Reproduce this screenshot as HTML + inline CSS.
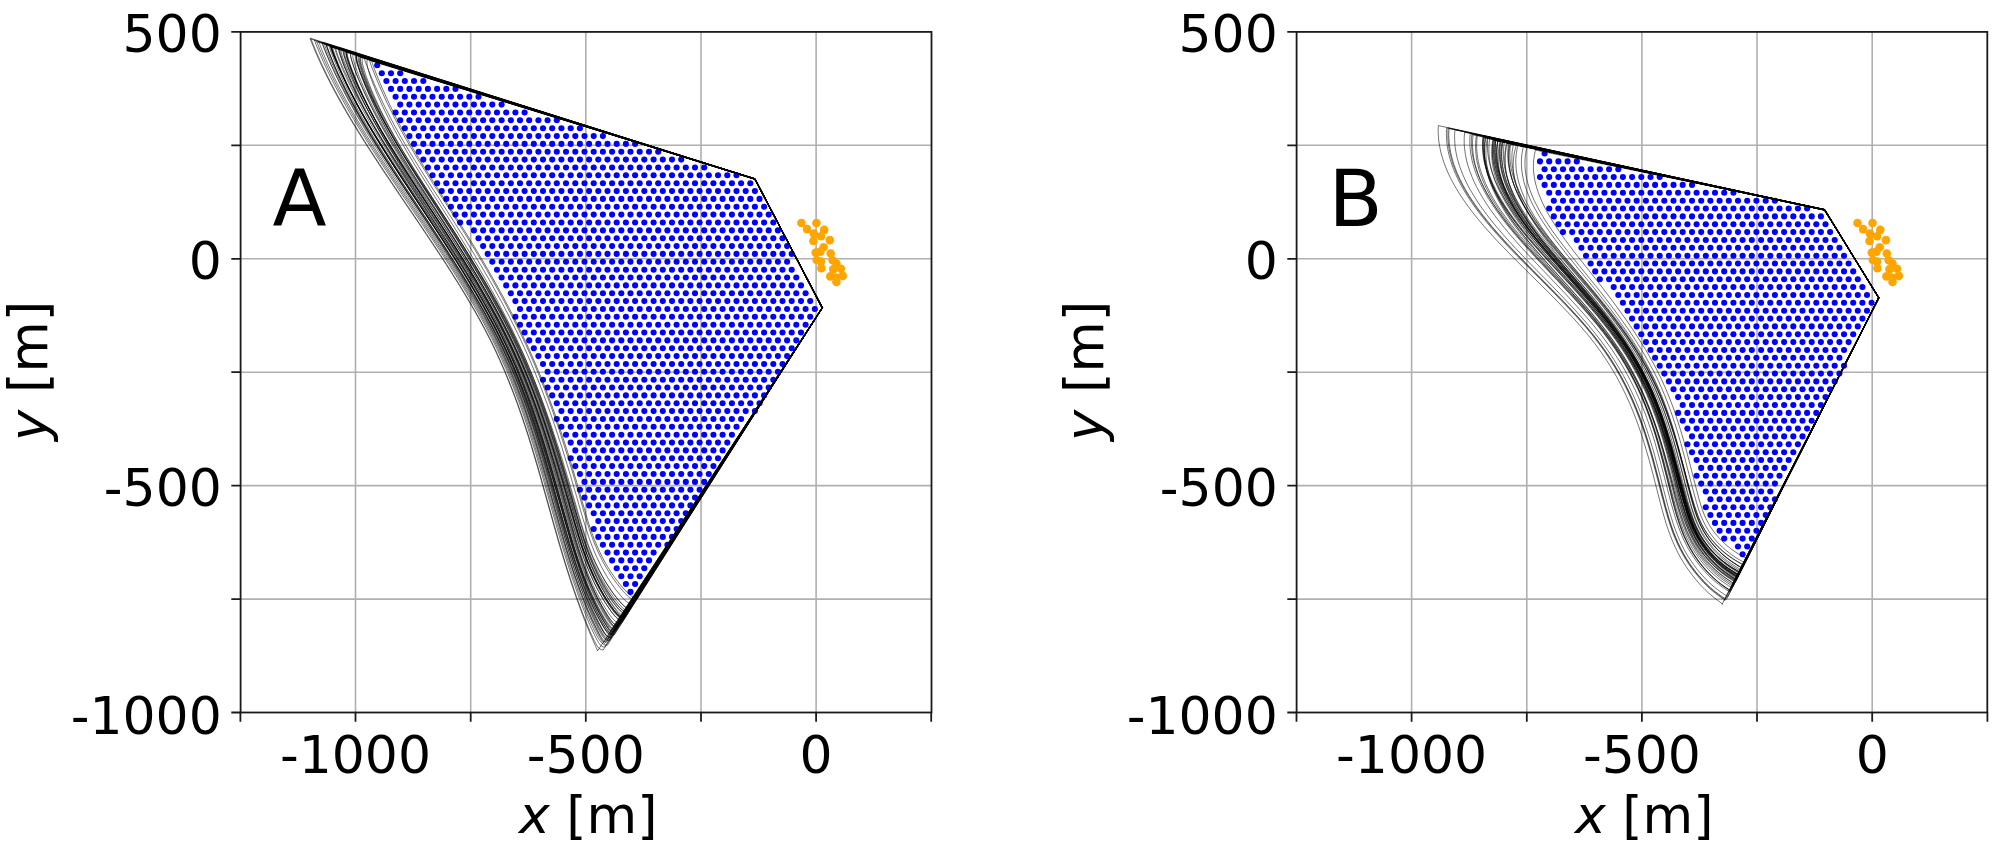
<!DOCTYPE html>
<html lang="en">
<head>
<meta charset="utf-8">
<title>Panels A and B</title>
<style>html,body{margin:0;padding:0;background:#fff;}svg{display:block;}</style>
</head>
<body>
<svg width="2000" height="850" viewBox="0 0 2000 850">
<rect width="2000" height="850" fill="#fff"/>
<g id="panelA">
<path d="M355.5,31.9V712.5M470.7,31.9V712.5M585.8,31.9V712.5M701,31.9V712.5M816.1,31.9V712.5M240.6,599.1H931.5M240.6,485.6H931.5M240.6,372.2H931.5M240.6,258.8H931.5M240.6,145.3H931.5" stroke="#b0b0b0" stroke-width="1.6" fill="none"/>
<g fill="#0000ff">
<circle cx="377.2" cy="65.3" r="3.05"/><circle cx="381.8" cy="73.2" r="3.05"/><circle cx="391" cy="73.2" r="3.05"/><circle cx="400.2" cy="73.2" r="3.05"/><circle cx="386.4" cy="81" r="3.05"/><circle cx="395.6" cy="81" r="3.05"/><circle cx="404.8" cy="81" r="3.05"/><circle cx="414" cy="81" r="3.05"/><circle cx="423.3" cy="81" r="3.05"/><circle cx="391" cy="88.9" r="3.05"/><circle cx="400.2" cy="88.9" r="3.05"/><circle cx="409.4" cy="88.9" r="3.05"/><circle cx="418.7" cy="88.9" r="3.05"/><circle cx="427.9" cy="88.9" r="3.05"/><circle cx="437.1" cy="88.9" r="3.05"/><circle cx="446.3" cy="88.9" r="3.05"/><circle cx="455.5" cy="88.9" r="3.05"/><circle cx="395.6" cy="96.8" r="3.05"/><circle cx="404.8" cy="96.8" r="3.05"/><circle cx="414" cy="96.8" r="3.05"/><circle cx="423.3" cy="96.8" r="3.05"/><circle cx="432.5" cy="96.8" r="3.05"/><circle cx="441.7" cy="96.8" r="3.05"/><circle cx="450.9" cy="96.8" r="3.05"/><circle cx="460.1" cy="96.8" r="3.05"/><circle cx="469.3" cy="96.8" r="3.05"/><circle cx="478.5" cy="96.8" r="3.05"/><circle cx="400.2" cy="104.6" r="3.05"/><circle cx="409.4" cy="104.6" r="3.05"/><circle cx="418.7" cy="104.6" r="3.05"/><circle cx="427.9" cy="104.6" r="3.05"/><circle cx="437.1" cy="104.6" r="3.05"/><circle cx="446.3" cy="104.6" r="3.05"/><circle cx="455.5" cy="104.6" r="3.05"/><circle cx="464.7" cy="104.6" r="3.05"/><circle cx="473.9" cy="104.6" r="3.05"/><circle cx="483.1" cy="104.6" r="3.05"/><circle cx="492.3" cy="104.6" r="3.05"/><circle cx="501.6" cy="104.6" r="3.05"/><circle cx="395.6" cy="112.5" r="3.05"/><circle cx="404.8" cy="112.5" r="3.05"/><circle cx="414" cy="112.5" r="3.05"/><circle cx="423.3" cy="112.5" r="3.05"/><circle cx="432.5" cy="112.5" r="3.05"/><circle cx="441.7" cy="112.5" r="3.05"/><circle cx="450.9" cy="112.5" r="3.05"/><circle cx="460.1" cy="112.5" r="3.05"/><circle cx="469.3" cy="112.5" r="3.05"/><circle cx="478.5" cy="112.5" r="3.05"/><circle cx="487.7" cy="112.5" r="3.05"/><circle cx="497" cy="112.5" r="3.05"/><circle cx="506.2" cy="112.5" r="3.05"/><circle cx="515.4" cy="112.5" r="3.05"/><circle cx="524.6" cy="112.5" r="3.05"/><circle cx="400.2" cy="120.3" r="3.05"/><circle cx="409.4" cy="120.3" r="3.05"/><circle cx="418.7" cy="120.3" r="3.05"/><circle cx="427.9" cy="120.3" r="3.05"/><circle cx="437.1" cy="120.3" r="3.05"/><circle cx="446.3" cy="120.3" r="3.05"/><circle cx="455.5" cy="120.3" r="3.05"/><circle cx="464.7" cy="120.3" r="3.05"/><circle cx="473.9" cy="120.3" r="3.05"/><circle cx="483.1" cy="120.3" r="3.05"/><circle cx="492.3" cy="120.3" r="3.05"/><circle cx="501.6" cy="120.3" r="3.05"/><circle cx="510.8" cy="120.3" r="3.05"/><circle cx="520" cy="120.3" r="3.05"/><circle cx="529.2" cy="120.3" r="3.05"/><circle cx="538.4" cy="120.3" r="3.05"/><circle cx="547.6" cy="120.3" r="3.05"/><circle cx="556.8" cy="120.3" r="3.05"/><circle cx="404.8" cy="128.2" r="3.05"/><circle cx="414" cy="128.2" r="3.05"/><circle cx="423.3" cy="128.2" r="3.05"/><circle cx="432.5" cy="128.2" r="3.05"/><circle cx="441.7" cy="128.2" r="3.05"/><circle cx="450.9" cy="128.2" r="3.05"/><circle cx="460.1" cy="128.2" r="3.05"/><circle cx="469.3" cy="128.2" r="3.05"/><circle cx="478.5" cy="128.2" r="3.05"/><circle cx="487.7" cy="128.2" r="3.05"/><circle cx="497" cy="128.2" r="3.05"/><circle cx="506.2" cy="128.2" r="3.05"/><circle cx="515.4" cy="128.2" r="3.05"/><circle cx="524.6" cy="128.2" r="3.05"/><circle cx="533.8" cy="128.2" r="3.05"/><circle cx="543" cy="128.2" r="3.05"/><circle cx="552.2" cy="128.2" r="3.05"/><circle cx="561.4" cy="128.2" r="3.05"/><circle cx="570.7" cy="128.2" r="3.05"/><circle cx="579.9" cy="128.2" r="3.05"/><circle cx="409.4" cy="136.1" r="3.05"/><circle cx="418.7" cy="136.1" r="3.05"/><circle cx="427.9" cy="136.1" r="3.05"/><circle cx="437.1" cy="136.1" r="3.05"/><circle cx="446.3" cy="136.1" r="3.05"/><circle cx="455.5" cy="136.1" r="3.05"/><circle cx="464.7" cy="136.1" r="3.05"/><circle cx="473.9" cy="136.1" r="3.05"/><circle cx="483.1" cy="136.1" r="3.05"/><circle cx="492.3" cy="136.1" r="3.05"/><circle cx="501.6" cy="136.1" r="3.05"/><circle cx="510.8" cy="136.1" r="3.05"/><circle cx="520" cy="136.1" r="3.05"/><circle cx="529.2" cy="136.1" r="3.05"/><circle cx="538.4" cy="136.1" r="3.05"/><circle cx="547.6" cy="136.1" r="3.05"/><circle cx="556.8" cy="136.1" r="3.05"/><circle cx="566" cy="136.1" r="3.05"/><circle cx="575.3" cy="136.1" r="3.05"/><circle cx="584.5" cy="136.1" r="3.05"/><circle cx="593.7" cy="136.1" r="3.05"/><circle cx="602.9" cy="136.1" r="3.05"/><circle cx="414" cy="143.9" r="3.05"/><circle cx="423.3" cy="143.9" r="3.05"/><circle cx="432.5" cy="143.9" r="3.05"/><circle cx="441.7" cy="143.9" r="3.05"/><circle cx="450.9" cy="143.9" r="3.05"/><circle cx="460.1" cy="143.9" r="3.05"/><circle cx="469.3" cy="143.9" r="3.05"/><circle cx="478.5" cy="143.9" r="3.05"/><circle cx="487.7" cy="143.9" r="3.05"/><circle cx="497" cy="143.9" r="3.05"/><circle cx="506.2" cy="143.9" r="3.05"/><circle cx="515.4" cy="143.9" r="3.05"/><circle cx="524.6" cy="143.9" r="3.05"/><circle cx="533.8" cy="143.9" r="3.05"/><circle cx="543" cy="143.9" r="3.05"/><circle cx="552.2" cy="143.9" r="3.05"/><circle cx="561.4" cy="143.9" r="3.05"/><circle cx="570.7" cy="143.9" r="3.05"/><circle cx="579.9" cy="143.9" r="3.05"/><circle cx="589.1" cy="143.9" r="3.05"/><circle cx="598.3" cy="143.9" r="3.05"/><circle cx="607.5" cy="143.9" r="3.05"/><circle cx="616.7" cy="143.9" r="3.05"/><circle cx="625.9" cy="143.9" r="3.05"/><circle cx="635.1" cy="143.9" r="3.05"/><circle cx="418.7" cy="151.8" r="3.05"/><circle cx="427.9" cy="151.8" r="3.05"/><circle cx="437.1" cy="151.8" r="3.05"/><circle cx="446.3" cy="151.8" r="3.05"/><circle cx="455.5" cy="151.8" r="3.05"/><circle cx="464.7" cy="151.8" r="3.05"/><circle cx="473.9" cy="151.8" r="3.05"/><circle cx="483.1" cy="151.8" r="3.05"/><circle cx="492.3" cy="151.8" r="3.05"/><circle cx="501.6" cy="151.8" r="3.05"/><circle cx="510.8" cy="151.8" r="3.05"/><circle cx="520" cy="151.8" r="3.05"/><circle cx="529.2" cy="151.8" r="3.05"/><circle cx="538.4" cy="151.8" r="3.05"/><circle cx="547.6" cy="151.8" r="3.05"/><circle cx="556.8" cy="151.8" r="3.05"/><circle cx="566" cy="151.8" r="3.05"/><circle cx="575.3" cy="151.8" r="3.05"/><circle cx="584.5" cy="151.8" r="3.05"/><circle cx="593.7" cy="151.8" r="3.05"/><circle cx="602.9" cy="151.8" r="3.05"/><circle cx="612.1" cy="151.8" r="3.05"/><circle cx="621.3" cy="151.8" r="3.05"/><circle cx="630.5" cy="151.8" r="3.05"/><circle cx="639.7" cy="151.8" r="3.05"/><circle cx="649" cy="151.8" r="3.05"/><circle cx="658.2" cy="151.8" r="3.05"/><circle cx="423.3" cy="159.6" r="3.05"/><circle cx="432.5" cy="159.6" r="3.05"/><circle cx="441.7" cy="159.6" r="3.05"/><circle cx="450.9" cy="159.6" r="3.05"/><circle cx="460.1" cy="159.6" r="3.05"/><circle cx="469.3" cy="159.6" r="3.05"/><circle cx="478.5" cy="159.6" r="3.05"/><circle cx="487.7" cy="159.6" r="3.05"/><circle cx="497" cy="159.6" r="3.05"/><circle cx="506.2" cy="159.6" r="3.05"/><circle cx="515.4" cy="159.6" r="3.05"/><circle cx="524.6" cy="159.6" r="3.05"/><circle cx="533.8" cy="159.6" r="3.05"/><circle cx="543" cy="159.6" r="3.05"/><circle cx="552.2" cy="159.6" r="3.05"/><circle cx="561.4" cy="159.6" r="3.05"/><circle cx="570.7" cy="159.6" r="3.05"/><circle cx="579.9" cy="159.6" r="3.05"/><circle cx="589.1" cy="159.6" r="3.05"/><circle cx="598.3" cy="159.6" r="3.05"/><circle cx="607.5" cy="159.6" r="3.05"/><circle cx="616.7" cy="159.6" r="3.05"/><circle cx="625.9" cy="159.6" r="3.05"/><circle cx="635.1" cy="159.6" r="3.05"/><circle cx="644.3" cy="159.6" r="3.05"/><circle cx="653.6" cy="159.6" r="3.05"/><circle cx="662.8" cy="159.6" r="3.05"/><circle cx="672" cy="159.6" r="3.05"/><circle cx="681.2" cy="159.6" r="3.05"/><circle cx="427.9" cy="167.5" r="3.05"/><circle cx="437.1" cy="167.5" r="3.05"/><circle cx="446.3" cy="167.5" r="3.05"/><circle cx="455.5" cy="167.5" r="3.05"/><circle cx="464.7" cy="167.5" r="3.05"/><circle cx="473.9" cy="167.5" r="3.05"/><circle cx="483.1" cy="167.5" r="3.05"/><circle cx="492.3" cy="167.5" r="3.05"/><circle cx="501.6" cy="167.5" r="3.05"/><circle cx="510.8" cy="167.5" r="3.05"/><circle cx="520" cy="167.5" r="3.05"/><circle cx="529.2" cy="167.5" r="3.05"/><circle cx="538.4" cy="167.5" r="3.05"/><circle cx="547.6" cy="167.5" r="3.05"/><circle cx="556.8" cy="167.5" r="3.05"/><circle cx="566" cy="167.5" r="3.05"/><circle cx="575.3" cy="167.5" r="3.05"/><circle cx="584.5" cy="167.5" r="3.05"/><circle cx="593.7" cy="167.5" r="3.05"/><circle cx="602.9" cy="167.5" r="3.05"/><circle cx="612.1" cy="167.5" r="3.05"/><circle cx="621.3" cy="167.5" r="3.05"/><circle cx="630.5" cy="167.5" r="3.05"/><circle cx="639.7" cy="167.5" r="3.05"/><circle cx="649" cy="167.5" r="3.05"/><circle cx="658.2" cy="167.5" r="3.05"/><circle cx="667.4" cy="167.5" r="3.05"/><circle cx="676.6" cy="167.5" r="3.05"/><circle cx="685.8" cy="167.5" r="3.05"/><circle cx="695" cy="167.5" r="3.05"/><circle cx="704.2" cy="167.5" r="3.05"/><circle cx="432.5" cy="175.3" r="3.05"/><circle cx="441.7" cy="175.3" r="3.05"/><circle cx="450.9" cy="175.3" r="3.05"/><circle cx="460.1" cy="175.3" r="3.05"/><circle cx="469.3" cy="175.3" r="3.05"/><circle cx="478.5" cy="175.3" r="3.05"/><circle cx="487.7" cy="175.3" r="3.05"/><circle cx="497" cy="175.3" r="3.05"/><circle cx="506.2" cy="175.3" r="3.05"/><circle cx="515.4" cy="175.3" r="3.05"/><circle cx="524.6" cy="175.3" r="3.05"/><circle cx="533.8" cy="175.3" r="3.05"/><circle cx="543" cy="175.3" r="3.05"/><circle cx="552.2" cy="175.3" r="3.05"/><circle cx="561.4" cy="175.3" r="3.05"/><circle cx="570.7" cy="175.3" r="3.05"/><circle cx="579.9" cy="175.3" r="3.05"/><circle cx="589.1" cy="175.3" r="3.05"/><circle cx="598.3" cy="175.3" r="3.05"/><circle cx="607.5" cy="175.3" r="3.05"/><circle cx="616.7" cy="175.3" r="3.05"/><circle cx="625.9" cy="175.3" r="3.05"/><circle cx="635.1" cy="175.3" r="3.05"/><circle cx="644.3" cy="175.3" r="3.05"/><circle cx="653.6" cy="175.3" r="3.05"/><circle cx="662.8" cy="175.3" r="3.05"/><circle cx="672" cy="175.3" r="3.05"/><circle cx="681.2" cy="175.3" r="3.05"/><circle cx="690.4" cy="175.3" r="3.05"/><circle cx="699.6" cy="175.3" r="3.05"/><circle cx="708.8" cy="175.3" r="3.05"/><circle cx="718" cy="175.3" r="3.05"/><circle cx="727.3" cy="175.3" r="3.05"/><circle cx="736.5" cy="175.3" r="3.05"/><circle cx="437.1" cy="183.2" r="3.05"/><circle cx="446.3" cy="183.2" r="3.05"/><circle cx="455.5" cy="183.2" r="3.05"/><circle cx="464.7" cy="183.2" r="3.05"/><circle cx="473.9" cy="183.2" r="3.05"/><circle cx="483.1" cy="183.2" r="3.05"/><circle cx="492.3" cy="183.2" r="3.05"/><circle cx="501.6" cy="183.2" r="3.05"/><circle cx="510.8" cy="183.2" r="3.05"/><circle cx="520" cy="183.2" r="3.05"/><circle cx="529.2" cy="183.2" r="3.05"/><circle cx="538.4" cy="183.2" r="3.05"/><circle cx="547.6" cy="183.2" r="3.05"/><circle cx="556.8" cy="183.2" r="3.05"/><circle cx="566" cy="183.2" r="3.05"/><circle cx="575.3" cy="183.2" r="3.05"/><circle cx="584.5" cy="183.2" r="3.05"/><circle cx="593.7" cy="183.2" r="3.05"/><circle cx="602.9" cy="183.2" r="3.05"/><circle cx="612.1" cy="183.2" r="3.05"/><circle cx="621.3" cy="183.2" r="3.05"/><circle cx="630.5" cy="183.2" r="3.05"/><circle cx="639.7" cy="183.2" r="3.05"/><circle cx="649" cy="183.2" r="3.05"/><circle cx="658.2" cy="183.2" r="3.05"/><circle cx="667.4" cy="183.2" r="3.05"/><circle cx="676.6" cy="183.2" r="3.05"/><circle cx="685.8" cy="183.2" r="3.05"/><circle cx="695" cy="183.2" r="3.05"/><circle cx="704.2" cy="183.2" r="3.05"/><circle cx="713.4" cy="183.2" r="3.05"/><circle cx="722.6" cy="183.2" r="3.05"/><circle cx="731.9" cy="183.2" r="3.05"/><circle cx="741.1" cy="183.2" r="3.05"/><circle cx="750.3" cy="183.2" r="3.05"/><circle cx="441.7" cy="191.1" r="3.05"/><circle cx="450.9" cy="191.1" r="3.05"/><circle cx="460.1" cy="191.1" r="3.05"/><circle cx="469.3" cy="191.1" r="3.05"/><circle cx="478.5" cy="191.1" r="3.05"/><circle cx="487.7" cy="191.1" r="3.05"/><circle cx="497" cy="191.1" r="3.05"/><circle cx="506.2" cy="191.1" r="3.05"/><circle cx="515.4" cy="191.1" r="3.05"/><circle cx="524.6" cy="191.1" r="3.05"/><circle cx="533.8" cy="191.1" r="3.05"/><circle cx="543" cy="191.1" r="3.05"/><circle cx="552.2" cy="191.1" r="3.05"/><circle cx="561.4" cy="191.1" r="3.05"/><circle cx="570.7" cy="191.1" r="3.05"/><circle cx="579.9" cy="191.1" r="3.05"/><circle cx="589.1" cy="191.1" r="3.05"/><circle cx="598.3" cy="191.1" r="3.05"/><circle cx="607.5" cy="191.1" r="3.05"/><circle cx="616.7" cy="191.1" r="3.05"/><circle cx="625.9" cy="191.1" r="3.05"/><circle cx="635.1" cy="191.1" r="3.05"/><circle cx="644.3" cy="191.1" r="3.05"/><circle cx="653.6" cy="191.1" r="3.05"/><circle cx="662.8" cy="191.1" r="3.05"/><circle cx="672" cy="191.1" r="3.05"/><circle cx="681.2" cy="191.1" r="3.05"/><circle cx="690.4" cy="191.1" r="3.05"/><circle cx="699.6" cy="191.1" r="3.05"/><circle cx="708.8" cy="191.1" r="3.05"/><circle cx="718" cy="191.1" r="3.05"/><circle cx="727.3" cy="191.1" r="3.05"/><circle cx="736.5" cy="191.1" r="3.05"/><circle cx="745.7" cy="191.1" r="3.05"/><circle cx="754.9" cy="191.1" r="3.05"/><circle cx="446.3" cy="198.9" r="3.05"/><circle cx="455.5" cy="198.9" r="3.05"/><circle cx="464.7" cy="198.9" r="3.05"/><circle cx="473.9" cy="198.9" r="3.05"/><circle cx="483.1" cy="198.9" r="3.05"/><circle cx="492.3" cy="198.9" r="3.05"/><circle cx="501.6" cy="198.9" r="3.05"/><circle cx="510.8" cy="198.9" r="3.05"/><circle cx="520" cy="198.9" r="3.05"/><circle cx="529.2" cy="198.9" r="3.05"/><circle cx="538.4" cy="198.9" r="3.05"/><circle cx="547.6" cy="198.9" r="3.05"/><circle cx="556.8" cy="198.9" r="3.05"/><circle cx="566" cy="198.9" r="3.05"/><circle cx="575.3" cy="198.9" r="3.05"/><circle cx="584.5" cy="198.9" r="3.05"/><circle cx="593.7" cy="198.9" r="3.05"/><circle cx="602.9" cy="198.9" r="3.05"/><circle cx="612.1" cy="198.9" r="3.05"/><circle cx="621.3" cy="198.9" r="3.05"/><circle cx="630.5" cy="198.9" r="3.05"/><circle cx="639.7" cy="198.9" r="3.05"/><circle cx="649" cy="198.9" r="3.05"/><circle cx="658.2" cy="198.9" r="3.05"/><circle cx="667.4" cy="198.9" r="3.05"/><circle cx="676.6" cy="198.9" r="3.05"/><circle cx="685.8" cy="198.9" r="3.05"/><circle cx="695" cy="198.9" r="3.05"/><circle cx="704.2" cy="198.9" r="3.05"/><circle cx="713.4" cy="198.9" r="3.05"/><circle cx="722.6" cy="198.9" r="3.05"/><circle cx="731.9" cy="198.9" r="3.05"/><circle cx="741.1" cy="198.9" r="3.05"/><circle cx="750.3" cy="198.9" r="3.05"/><circle cx="759.5" cy="198.9" r="3.05"/><circle cx="450.9" cy="206.8" r="3.05"/><circle cx="460.1" cy="206.8" r="3.05"/><circle cx="469.3" cy="206.8" r="3.05"/><circle cx="478.5" cy="206.8" r="3.05"/><circle cx="487.7" cy="206.8" r="3.05"/><circle cx="497" cy="206.8" r="3.05"/><circle cx="506.2" cy="206.8" r="3.05"/><circle cx="515.4" cy="206.8" r="3.05"/><circle cx="524.6" cy="206.8" r="3.05"/><circle cx="533.8" cy="206.8" r="3.05"/><circle cx="543" cy="206.8" r="3.05"/><circle cx="552.2" cy="206.8" r="3.05"/><circle cx="561.4" cy="206.8" r="3.05"/><circle cx="570.7" cy="206.8" r="3.05"/><circle cx="579.9" cy="206.8" r="3.05"/><circle cx="589.1" cy="206.8" r="3.05"/><circle cx="598.3" cy="206.8" r="3.05"/><circle cx="607.5" cy="206.8" r="3.05"/><circle cx="616.7" cy="206.8" r="3.05"/><circle cx="625.9" cy="206.8" r="3.05"/><circle cx="635.1" cy="206.8" r="3.05"/><circle cx="644.3" cy="206.8" r="3.05"/><circle cx="653.6" cy="206.8" r="3.05"/><circle cx="662.8" cy="206.8" r="3.05"/><circle cx="672" cy="206.8" r="3.05"/><circle cx="681.2" cy="206.8" r="3.05"/><circle cx="690.4" cy="206.8" r="3.05"/><circle cx="699.6" cy="206.8" r="3.05"/><circle cx="708.8" cy="206.8" r="3.05"/><circle cx="718" cy="206.8" r="3.05"/><circle cx="727.3" cy="206.8" r="3.05"/><circle cx="736.5" cy="206.8" r="3.05"/><circle cx="745.7" cy="206.8" r="3.05"/><circle cx="754.9" cy="206.8" r="3.05"/><circle cx="764.1" cy="206.8" r="3.05"/><circle cx="455.5" cy="214.6" r="3.05"/><circle cx="464.7" cy="214.6" r="3.05"/><circle cx="473.9" cy="214.6" r="3.05"/><circle cx="483.1" cy="214.6" r="3.05"/><circle cx="492.3" cy="214.6" r="3.05"/><circle cx="501.6" cy="214.6" r="3.05"/><circle cx="510.8" cy="214.6" r="3.05"/><circle cx="520" cy="214.6" r="3.05"/><circle cx="529.2" cy="214.6" r="3.05"/><circle cx="538.4" cy="214.6" r="3.05"/><circle cx="547.6" cy="214.6" r="3.05"/><circle cx="556.8" cy="214.6" r="3.05"/><circle cx="566" cy="214.6" r="3.05"/><circle cx="575.3" cy="214.6" r="3.05"/><circle cx="584.5" cy="214.6" r="3.05"/><circle cx="593.7" cy="214.6" r="3.05"/><circle cx="602.9" cy="214.6" r="3.05"/><circle cx="612.1" cy="214.6" r="3.05"/><circle cx="621.3" cy="214.6" r="3.05"/><circle cx="630.5" cy="214.6" r="3.05"/><circle cx="639.7" cy="214.6" r="3.05"/><circle cx="649" cy="214.6" r="3.05"/><circle cx="658.2" cy="214.6" r="3.05"/><circle cx="667.4" cy="214.6" r="3.05"/><circle cx="676.6" cy="214.6" r="3.05"/><circle cx="685.8" cy="214.6" r="3.05"/><circle cx="695" cy="214.6" r="3.05"/><circle cx="704.2" cy="214.6" r="3.05"/><circle cx="713.4" cy="214.6" r="3.05"/><circle cx="722.6" cy="214.6" r="3.05"/><circle cx="731.9" cy="214.6" r="3.05"/><circle cx="741.1" cy="214.6" r="3.05"/><circle cx="750.3" cy="214.6" r="3.05"/><circle cx="759.5" cy="214.6" r="3.05"/><circle cx="768.7" cy="214.6" r="3.05"/><circle cx="460.1" cy="222.5" r="3.05"/><circle cx="469.3" cy="222.5" r="3.05"/><circle cx="478.5" cy="222.5" r="3.05"/><circle cx="487.7" cy="222.5" r="3.05"/><circle cx="497" cy="222.5" r="3.05"/><circle cx="506.2" cy="222.5" r="3.05"/><circle cx="515.4" cy="222.5" r="3.05"/><circle cx="524.6" cy="222.5" r="3.05"/><circle cx="533.8" cy="222.5" r="3.05"/><circle cx="543" cy="222.5" r="3.05"/><circle cx="552.2" cy="222.5" r="3.05"/><circle cx="561.4" cy="222.5" r="3.05"/><circle cx="570.7" cy="222.5" r="3.05"/><circle cx="579.9" cy="222.5" r="3.05"/><circle cx="589.1" cy="222.5" r="3.05"/><circle cx="598.3" cy="222.5" r="3.05"/><circle cx="607.5" cy="222.5" r="3.05"/><circle cx="616.7" cy="222.5" r="3.05"/><circle cx="625.9" cy="222.5" r="3.05"/><circle cx="635.1" cy="222.5" r="3.05"/><circle cx="644.3" cy="222.5" r="3.05"/><circle cx="653.6" cy="222.5" r="3.05"/><circle cx="662.8" cy="222.5" r="3.05"/><circle cx="672" cy="222.5" r="3.05"/><circle cx="681.2" cy="222.5" r="3.05"/><circle cx="690.4" cy="222.5" r="3.05"/><circle cx="699.6" cy="222.5" r="3.05"/><circle cx="708.8" cy="222.5" r="3.05"/><circle cx="718" cy="222.5" r="3.05"/><circle cx="727.3" cy="222.5" r="3.05"/><circle cx="736.5" cy="222.5" r="3.05"/><circle cx="745.7" cy="222.5" r="3.05"/><circle cx="754.9" cy="222.5" r="3.05"/><circle cx="764.1" cy="222.5" r="3.05"/><circle cx="773.3" cy="222.5" r="3.05"/><circle cx="473.9" cy="230.4" r="3.05"/><circle cx="483.1" cy="230.4" r="3.05"/><circle cx="492.3" cy="230.4" r="3.05"/><circle cx="501.6" cy="230.4" r="3.05"/><circle cx="510.8" cy="230.4" r="3.05"/><circle cx="520" cy="230.4" r="3.05"/><circle cx="529.2" cy="230.4" r="3.05"/><circle cx="538.4" cy="230.4" r="3.05"/><circle cx="547.6" cy="230.4" r="3.05"/><circle cx="556.8" cy="230.4" r="3.05"/><circle cx="566" cy="230.4" r="3.05"/><circle cx="575.3" cy="230.4" r="3.05"/><circle cx="584.5" cy="230.4" r="3.05"/><circle cx="593.7" cy="230.4" r="3.05"/><circle cx="602.9" cy="230.4" r="3.05"/><circle cx="612.1" cy="230.4" r="3.05"/><circle cx="621.3" cy="230.4" r="3.05"/><circle cx="630.5" cy="230.4" r="3.05"/><circle cx="639.7" cy="230.4" r="3.05"/><circle cx="649" cy="230.4" r="3.05"/><circle cx="658.2" cy="230.4" r="3.05"/><circle cx="667.4" cy="230.4" r="3.05"/><circle cx="676.6" cy="230.4" r="3.05"/><circle cx="685.8" cy="230.4" r="3.05"/><circle cx="695" cy="230.4" r="3.05"/><circle cx="704.2" cy="230.4" r="3.05"/><circle cx="713.4" cy="230.4" r="3.05"/><circle cx="722.6" cy="230.4" r="3.05"/><circle cx="731.9" cy="230.4" r="3.05"/><circle cx="741.1" cy="230.4" r="3.05"/><circle cx="750.3" cy="230.4" r="3.05"/><circle cx="759.5" cy="230.4" r="3.05"/><circle cx="768.7" cy="230.4" r="3.05"/><circle cx="777.9" cy="230.4" r="3.05"/><circle cx="478.5" cy="238.2" r="3.05"/><circle cx="487.7" cy="238.2" r="3.05"/><circle cx="497" cy="238.2" r="3.05"/><circle cx="506.2" cy="238.2" r="3.05"/><circle cx="515.4" cy="238.2" r="3.05"/><circle cx="524.6" cy="238.2" r="3.05"/><circle cx="533.8" cy="238.2" r="3.05"/><circle cx="543" cy="238.2" r="3.05"/><circle cx="552.2" cy="238.2" r="3.05"/><circle cx="561.4" cy="238.2" r="3.05"/><circle cx="570.7" cy="238.2" r="3.05"/><circle cx="579.9" cy="238.2" r="3.05"/><circle cx="589.1" cy="238.2" r="3.05"/><circle cx="598.3" cy="238.2" r="3.05"/><circle cx="607.5" cy="238.2" r="3.05"/><circle cx="616.7" cy="238.2" r="3.05"/><circle cx="625.9" cy="238.2" r="3.05"/><circle cx="635.1" cy="238.2" r="3.05"/><circle cx="644.3" cy="238.2" r="3.05"/><circle cx="653.6" cy="238.2" r="3.05"/><circle cx="662.8" cy="238.2" r="3.05"/><circle cx="672" cy="238.2" r="3.05"/><circle cx="681.2" cy="238.2" r="3.05"/><circle cx="690.4" cy="238.2" r="3.05"/><circle cx="699.6" cy="238.2" r="3.05"/><circle cx="708.8" cy="238.2" r="3.05"/><circle cx="718" cy="238.2" r="3.05"/><circle cx="727.3" cy="238.2" r="3.05"/><circle cx="736.5" cy="238.2" r="3.05"/><circle cx="745.7" cy="238.2" r="3.05"/><circle cx="754.9" cy="238.2" r="3.05"/><circle cx="764.1" cy="238.2" r="3.05"/><circle cx="773.3" cy="238.2" r="3.05"/><circle cx="782.5" cy="238.2" r="3.05"/><circle cx="483.1" cy="246.1" r="3.05"/><circle cx="492.3" cy="246.1" r="3.05"/><circle cx="501.6" cy="246.1" r="3.05"/><circle cx="510.8" cy="246.1" r="3.05"/><circle cx="520" cy="246.1" r="3.05"/><circle cx="529.2" cy="246.1" r="3.05"/><circle cx="538.4" cy="246.1" r="3.05"/><circle cx="547.6" cy="246.1" r="3.05"/><circle cx="556.8" cy="246.1" r="3.05"/><circle cx="566" cy="246.1" r="3.05"/><circle cx="575.3" cy="246.1" r="3.05"/><circle cx="584.5" cy="246.1" r="3.05"/><circle cx="593.7" cy="246.1" r="3.05"/><circle cx="602.9" cy="246.1" r="3.05"/><circle cx="612.1" cy="246.1" r="3.05"/><circle cx="621.3" cy="246.1" r="3.05"/><circle cx="630.5" cy="246.1" r="3.05"/><circle cx="639.7" cy="246.1" r="3.05"/><circle cx="649" cy="246.1" r="3.05"/><circle cx="658.2" cy="246.1" r="3.05"/><circle cx="667.4" cy="246.1" r="3.05"/><circle cx="676.6" cy="246.1" r="3.05"/><circle cx="685.8" cy="246.1" r="3.05"/><circle cx="695" cy="246.1" r="3.05"/><circle cx="704.2" cy="246.1" r="3.05"/><circle cx="713.4" cy="246.1" r="3.05"/><circle cx="722.6" cy="246.1" r="3.05"/><circle cx="731.9" cy="246.1" r="3.05"/><circle cx="741.1" cy="246.1" r="3.05"/><circle cx="750.3" cy="246.1" r="3.05"/><circle cx="759.5" cy="246.1" r="3.05"/><circle cx="768.7" cy="246.1" r="3.05"/><circle cx="777.9" cy="246.1" r="3.05"/><circle cx="787.1" cy="246.1" r="3.05"/><circle cx="487.7" cy="253.9" r="3.05"/><circle cx="497" cy="253.9" r="3.05"/><circle cx="506.2" cy="253.9" r="3.05"/><circle cx="515.4" cy="253.9" r="3.05"/><circle cx="524.6" cy="253.9" r="3.05"/><circle cx="533.8" cy="253.9" r="3.05"/><circle cx="543" cy="253.9" r="3.05"/><circle cx="552.2" cy="253.9" r="3.05"/><circle cx="561.4" cy="253.9" r="3.05"/><circle cx="570.7" cy="253.9" r="3.05"/><circle cx="579.9" cy="253.9" r="3.05"/><circle cx="589.1" cy="253.9" r="3.05"/><circle cx="598.3" cy="253.9" r="3.05"/><circle cx="607.5" cy="253.9" r="3.05"/><circle cx="616.7" cy="253.9" r="3.05"/><circle cx="625.9" cy="253.9" r="3.05"/><circle cx="635.1" cy="253.9" r="3.05"/><circle cx="644.3" cy="253.9" r="3.05"/><circle cx="653.6" cy="253.9" r="3.05"/><circle cx="662.8" cy="253.9" r="3.05"/><circle cx="672" cy="253.9" r="3.05"/><circle cx="681.2" cy="253.9" r="3.05"/><circle cx="690.4" cy="253.9" r="3.05"/><circle cx="699.6" cy="253.9" r="3.05"/><circle cx="708.8" cy="253.9" r="3.05"/><circle cx="718" cy="253.9" r="3.05"/><circle cx="727.3" cy="253.9" r="3.05"/><circle cx="736.5" cy="253.9" r="3.05"/><circle cx="745.7" cy="253.9" r="3.05"/><circle cx="754.9" cy="253.9" r="3.05"/><circle cx="764.1" cy="253.9" r="3.05"/><circle cx="773.3" cy="253.9" r="3.05"/><circle cx="782.5" cy="253.9" r="3.05"/><circle cx="791.7" cy="253.9" r="3.05"/><circle cx="492.3" cy="261.8" r="3.05"/><circle cx="501.6" cy="261.8" r="3.05"/><circle cx="510.8" cy="261.8" r="3.05"/><circle cx="520" cy="261.8" r="3.05"/><circle cx="529.2" cy="261.8" r="3.05"/><circle cx="538.4" cy="261.8" r="3.05"/><circle cx="547.6" cy="261.8" r="3.05"/><circle cx="556.8" cy="261.8" r="3.05"/><circle cx="566" cy="261.8" r="3.05"/><circle cx="575.3" cy="261.8" r="3.05"/><circle cx="584.5" cy="261.8" r="3.05"/><circle cx="593.7" cy="261.8" r="3.05"/><circle cx="602.9" cy="261.8" r="3.05"/><circle cx="612.1" cy="261.8" r="3.05"/><circle cx="621.3" cy="261.8" r="3.05"/><circle cx="630.5" cy="261.8" r="3.05"/><circle cx="639.7" cy="261.8" r="3.05"/><circle cx="649" cy="261.8" r="3.05"/><circle cx="658.2" cy="261.8" r="3.05"/><circle cx="667.4" cy="261.8" r="3.05"/><circle cx="676.6" cy="261.8" r="3.05"/><circle cx="685.8" cy="261.8" r="3.05"/><circle cx="695" cy="261.8" r="3.05"/><circle cx="704.2" cy="261.8" r="3.05"/><circle cx="713.4" cy="261.8" r="3.05"/><circle cx="722.6" cy="261.8" r="3.05"/><circle cx="731.9" cy="261.8" r="3.05"/><circle cx="741.1" cy="261.8" r="3.05"/><circle cx="750.3" cy="261.8" r="3.05"/><circle cx="759.5" cy="261.8" r="3.05"/><circle cx="768.7" cy="261.8" r="3.05"/><circle cx="777.9" cy="261.8" r="3.05"/><circle cx="787.1" cy="261.8" r="3.05"/><circle cx="497" cy="269.7" r="3.05"/><circle cx="506.2" cy="269.7" r="3.05"/><circle cx="515.4" cy="269.7" r="3.05"/><circle cx="524.6" cy="269.7" r="3.05"/><circle cx="533.8" cy="269.7" r="3.05"/><circle cx="543" cy="269.7" r="3.05"/><circle cx="552.2" cy="269.7" r="3.05"/><circle cx="561.4" cy="269.7" r="3.05"/><circle cx="570.7" cy="269.7" r="3.05"/><circle cx="579.9" cy="269.7" r="3.05"/><circle cx="589.1" cy="269.7" r="3.05"/><circle cx="598.3" cy="269.7" r="3.05"/><circle cx="607.5" cy="269.7" r="3.05"/><circle cx="616.7" cy="269.7" r="3.05"/><circle cx="625.9" cy="269.7" r="3.05"/><circle cx="635.1" cy="269.7" r="3.05"/><circle cx="644.3" cy="269.7" r="3.05"/><circle cx="653.6" cy="269.7" r="3.05"/><circle cx="662.8" cy="269.7" r="3.05"/><circle cx="672" cy="269.7" r="3.05"/><circle cx="681.2" cy="269.7" r="3.05"/><circle cx="690.4" cy="269.7" r="3.05"/><circle cx="699.6" cy="269.7" r="3.05"/><circle cx="708.8" cy="269.7" r="3.05"/><circle cx="718" cy="269.7" r="3.05"/><circle cx="727.3" cy="269.7" r="3.05"/><circle cx="736.5" cy="269.7" r="3.05"/><circle cx="745.7" cy="269.7" r="3.05"/><circle cx="754.9" cy="269.7" r="3.05"/><circle cx="764.1" cy="269.7" r="3.05"/><circle cx="773.3" cy="269.7" r="3.05"/><circle cx="782.5" cy="269.7" r="3.05"/><circle cx="791.7" cy="269.7" r="3.05"/><circle cx="501.6" cy="277.5" r="3.05"/><circle cx="510.8" cy="277.5" r="3.05"/><circle cx="520" cy="277.5" r="3.05"/><circle cx="529.2" cy="277.5" r="3.05"/><circle cx="538.4" cy="277.5" r="3.05"/><circle cx="547.6" cy="277.5" r="3.05"/><circle cx="556.8" cy="277.5" r="3.05"/><circle cx="566" cy="277.5" r="3.05"/><circle cx="575.3" cy="277.5" r="3.05"/><circle cx="584.5" cy="277.5" r="3.05"/><circle cx="593.7" cy="277.5" r="3.05"/><circle cx="602.9" cy="277.5" r="3.05"/><circle cx="612.1" cy="277.5" r="3.05"/><circle cx="621.3" cy="277.5" r="3.05"/><circle cx="630.5" cy="277.5" r="3.05"/><circle cx="639.7" cy="277.5" r="3.05"/><circle cx="649" cy="277.5" r="3.05"/><circle cx="658.2" cy="277.5" r="3.05"/><circle cx="667.4" cy="277.5" r="3.05"/><circle cx="676.6" cy="277.5" r="3.05"/><circle cx="685.8" cy="277.5" r="3.05"/><circle cx="695" cy="277.5" r="3.05"/><circle cx="704.2" cy="277.5" r="3.05"/><circle cx="713.4" cy="277.5" r="3.05"/><circle cx="722.6" cy="277.5" r="3.05"/><circle cx="731.9" cy="277.5" r="3.05"/><circle cx="741.1" cy="277.5" r="3.05"/><circle cx="750.3" cy="277.5" r="3.05"/><circle cx="759.5" cy="277.5" r="3.05"/><circle cx="768.7" cy="277.5" r="3.05"/><circle cx="777.9" cy="277.5" r="3.05"/><circle cx="787.1" cy="277.5" r="3.05"/><circle cx="796.3" cy="277.5" r="3.05"/><circle cx="506.2" cy="285.4" r="3.05"/><circle cx="515.4" cy="285.4" r="3.05"/><circle cx="524.6" cy="285.4" r="3.05"/><circle cx="533.8" cy="285.4" r="3.05"/><circle cx="543" cy="285.4" r="3.05"/><circle cx="552.2" cy="285.4" r="3.05"/><circle cx="561.4" cy="285.4" r="3.05"/><circle cx="570.7" cy="285.4" r="3.05"/><circle cx="579.9" cy="285.4" r="3.05"/><circle cx="589.1" cy="285.4" r="3.05"/><circle cx="598.3" cy="285.4" r="3.05"/><circle cx="607.5" cy="285.4" r="3.05"/><circle cx="616.7" cy="285.4" r="3.05"/><circle cx="625.9" cy="285.4" r="3.05"/><circle cx="635.1" cy="285.4" r="3.05"/><circle cx="644.3" cy="285.4" r="3.05"/><circle cx="653.6" cy="285.4" r="3.05"/><circle cx="662.8" cy="285.4" r="3.05"/><circle cx="672" cy="285.4" r="3.05"/><circle cx="681.2" cy="285.4" r="3.05"/><circle cx="690.4" cy="285.4" r="3.05"/><circle cx="699.6" cy="285.4" r="3.05"/><circle cx="708.8" cy="285.4" r="3.05"/><circle cx="718" cy="285.4" r="3.05"/><circle cx="727.3" cy="285.4" r="3.05"/><circle cx="736.5" cy="285.4" r="3.05"/><circle cx="745.7" cy="285.4" r="3.05"/><circle cx="754.9" cy="285.4" r="3.05"/><circle cx="764.1" cy="285.4" r="3.05"/><circle cx="773.3" cy="285.4" r="3.05"/><circle cx="782.5" cy="285.4" r="3.05"/><circle cx="791.7" cy="285.4" r="3.05"/><circle cx="801" cy="285.4" r="3.05"/><circle cx="510.8" cy="293.2" r="3.05"/><circle cx="520" cy="293.2" r="3.05"/><circle cx="529.2" cy="293.2" r="3.05"/><circle cx="538.4" cy="293.2" r="3.05"/><circle cx="547.6" cy="293.2" r="3.05"/><circle cx="556.8" cy="293.2" r="3.05"/><circle cx="566" cy="293.2" r="3.05"/><circle cx="575.3" cy="293.2" r="3.05"/><circle cx="584.5" cy="293.2" r="3.05"/><circle cx="593.7" cy="293.2" r="3.05"/><circle cx="602.9" cy="293.2" r="3.05"/><circle cx="612.1" cy="293.2" r="3.05"/><circle cx="621.3" cy="293.2" r="3.05"/><circle cx="630.5" cy="293.2" r="3.05"/><circle cx="639.7" cy="293.2" r="3.05"/><circle cx="649" cy="293.2" r="3.05"/><circle cx="658.2" cy="293.2" r="3.05"/><circle cx="667.4" cy="293.2" r="3.05"/><circle cx="676.6" cy="293.2" r="3.05"/><circle cx="685.8" cy="293.2" r="3.05"/><circle cx="695" cy="293.2" r="3.05"/><circle cx="704.2" cy="293.2" r="3.05"/><circle cx="713.4" cy="293.2" r="3.05"/><circle cx="722.6" cy="293.2" r="3.05"/><circle cx="731.9" cy="293.2" r="3.05"/><circle cx="741.1" cy="293.2" r="3.05"/><circle cx="750.3" cy="293.2" r="3.05"/><circle cx="759.5" cy="293.2" r="3.05"/><circle cx="768.7" cy="293.2" r="3.05"/><circle cx="777.9" cy="293.2" r="3.05"/><circle cx="787.1" cy="293.2" r="3.05"/><circle cx="796.3" cy="293.2" r="3.05"/><circle cx="805.6" cy="293.2" r="3.05"/><circle cx="515.4" cy="301.1" r="3.05"/><circle cx="524.6" cy="301.1" r="3.05"/><circle cx="533.8" cy="301.1" r="3.05"/><circle cx="543" cy="301.1" r="3.05"/><circle cx="552.2" cy="301.1" r="3.05"/><circle cx="561.4" cy="301.1" r="3.05"/><circle cx="570.7" cy="301.1" r="3.05"/><circle cx="579.9" cy="301.1" r="3.05"/><circle cx="589.1" cy="301.1" r="3.05"/><circle cx="598.3" cy="301.1" r="3.05"/><circle cx="607.5" cy="301.1" r="3.05"/><circle cx="616.7" cy="301.1" r="3.05"/><circle cx="625.9" cy="301.1" r="3.05"/><circle cx="635.1" cy="301.1" r="3.05"/><circle cx="644.3" cy="301.1" r="3.05"/><circle cx="653.6" cy="301.1" r="3.05"/><circle cx="662.8" cy="301.1" r="3.05"/><circle cx="672" cy="301.1" r="3.05"/><circle cx="681.2" cy="301.1" r="3.05"/><circle cx="690.4" cy="301.1" r="3.05"/><circle cx="699.6" cy="301.1" r="3.05"/><circle cx="708.8" cy="301.1" r="3.05"/><circle cx="718" cy="301.1" r="3.05"/><circle cx="727.3" cy="301.1" r="3.05"/><circle cx="736.5" cy="301.1" r="3.05"/><circle cx="745.7" cy="301.1" r="3.05"/><circle cx="754.9" cy="301.1" r="3.05"/><circle cx="764.1" cy="301.1" r="3.05"/><circle cx="773.3" cy="301.1" r="3.05"/><circle cx="782.5" cy="301.1" r="3.05"/><circle cx="791.7" cy="301.1" r="3.05"/><circle cx="801" cy="301.1" r="3.05"/><circle cx="810.2" cy="301.1" r="3.05"/><circle cx="520" cy="309" r="3.05"/><circle cx="529.2" cy="309" r="3.05"/><circle cx="538.4" cy="309" r="3.05"/><circle cx="547.6" cy="309" r="3.05"/><circle cx="556.8" cy="309" r="3.05"/><circle cx="566" cy="309" r="3.05"/><circle cx="575.3" cy="309" r="3.05"/><circle cx="584.5" cy="309" r="3.05"/><circle cx="593.7" cy="309" r="3.05"/><circle cx="602.9" cy="309" r="3.05"/><circle cx="612.1" cy="309" r="3.05"/><circle cx="621.3" cy="309" r="3.05"/><circle cx="630.5" cy="309" r="3.05"/><circle cx="639.7" cy="309" r="3.05"/><circle cx="649" cy="309" r="3.05"/><circle cx="658.2" cy="309" r="3.05"/><circle cx="667.4" cy="309" r="3.05"/><circle cx="676.6" cy="309" r="3.05"/><circle cx="685.8" cy="309" r="3.05"/><circle cx="695" cy="309" r="3.05"/><circle cx="704.2" cy="309" r="3.05"/><circle cx="713.4" cy="309" r="3.05"/><circle cx="722.6" cy="309" r="3.05"/><circle cx="731.9" cy="309" r="3.05"/><circle cx="741.1" cy="309" r="3.05"/><circle cx="750.3" cy="309" r="3.05"/><circle cx="759.5" cy="309" r="3.05"/><circle cx="768.7" cy="309" r="3.05"/><circle cx="777.9" cy="309" r="3.05"/><circle cx="787.1" cy="309" r="3.05"/><circle cx="796.3" cy="309" r="3.05"/><circle cx="805.6" cy="309" r="3.05"/><circle cx="814.8" cy="309" r="3.05"/><circle cx="515.4" cy="316.8" r="3.05"/><circle cx="524.6" cy="316.8" r="3.05"/><circle cx="533.8" cy="316.8" r="3.05"/><circle cx="543" cy="316.8" r="3.05"/><circle cx="552.2" cy="316.8" r="3.05"/><circle cx="561.4" cy="316.8" r="3.05"/><circle cx="570.7" cy="316.8" r="3.05"/><circle cx="579.9" cy="316.8" r="3.05"/><circle cx="589.1" cy="316.8" r="3.05"/><circle cx="598.3" cy="316.8" r="3.05"/><circle cx="607.5" cy="316.8" r="3.05"/><circle cx="616.7" cy="316.8" r="3.05"/><circle cx="625.9" cy="316.8" r="3.05"/><circle cx="635.1" cy="316.8" r="3.05"/><circle cx="644.3" cy="316.8" r="3.05"/><circle cx="653.6" cy="316.8" r="3.05"/><circle cx="662.8" cy="316.8" r="3.05"/><circle cx="672" cy="316.8" r="3.05"/><circle cx="681.2" cy="316.8" r="3.05"/><circle cx="690.4" cy="316.8" r="3.05"/><circle cx="699.6" cy="316.8" r="3.05"/><circle cx="708.8" cy="316.8" r="3.05"/><circle cx="718" cy="316.8" r="3.05"/><circle cx="727.3" cy="316.8" r="3.05"/><circle cx="736.5" cy="316.8" r="3.05"/><circle cx="745.7" cy="316.8" r="3.05"/><circle cx="754.9" cy="316.8" r="3.05"/><circle cx="764.1" cy="316.8" r="3.05"/><circle cx="773.3" cy="316.8" r="3.05"/><circle cx="782.5" cy="316.8" r="3.05"/><circle cx="791.7" cy="316.8" r="3.05"/><circle cx="801" cy="316.8" r="3.05"/><circle cx="810.2" cy="316.8" r="3.05"/><circle cx="520" cy="324.7" r="3.05"/><circle cx="529.2" cy="324.7" r="3.05"/><circle cx="538.4" cy="324.7" r="3.05"/><circle cx="547.6" cy="324.7" r="3.05"/><circle cx="556.8" cy="324.7" r="3.05"/><circle cx="566" cy="324.7" r="3.05"/><circle cx="575.3" cy="324.7" r="3.05"/><circle cx="584.5" cy="324.7" r="3.05"/><circle cx="593.7" cy="324.7" r="3.05"/><circle cx="602.9" cy="324.7" r="3.05"/><circle cx="612.1" cy="324.7" r="3.05"/><circle cx="621.3" cy="324.7" r="3.05"/><circle cx="630.5" cy="324.7" r="3.05"/><circle cx="639.7" cy="324.7" r="3.05"/><circle cx="649" cy="324.7" r="3.05"/><circle cx="658.2" cy="324.7" r="3.05"/><circle cx="667.4" cy="324.7" r="3.05"/><circle cx="676.6" cy="324.7" r="3.05"/><circle cx="685.8" cy="324.7" r="3.05"/><circle cx="695" cy="324.7" r="3.05"/><circle cx="704.2" cy="324.7" r="3.05"/><circle cx="713.4" cy="324.7" r="3.05"/><circle cx="722.6" cy="324.7" r="3.05"/><circle cx="731.9" cy="324.7" r="3.05"/><circle cx="741.1" cy="324.7" r="3.05"/><circle cx="750.3" cy="324.7" r="3.05"/><circle cx="759.5" cy="324.7" r="3.05"/><circle cx="768.7" cy="324.7" r="3.05"/><circle cx="777.9" cy="324.7" r="3.05"/><circle cx="787.1" cy="324.7" r="3.05"/><circle cx="796.3" cy="324.7" r="3.05"/><circle cx="805.6" cy="324.7" r="3.05"/><circle cx="524.6" cy="332.5" r="3.05"/><circle cx="533.8" cy="332.5" r="3.05"/><circle cx="543" cy="332.5" r="3.05"/><circle cx="552.2" cy="332.5" r="3.05"/><circle cx="561.4" cy="332.5" r="3.05"/><circle cx="570.7" cy="332.5" r="3.05"/><circle cx="579.9" cy="332.5" r="3.05"/><circle cx="589.1" cy="332.5" r="3.05"/><circle cx="598.3" cy="332.5" r="3.05"/><circle cx="607.5" cy="332.5" r="3.05"/><circle cx="616.7" cy="332.5" r="3.05"/><circle cx="625.9" cy="332.5" r="3.05"/><circle cx="635.1" cy="332.5" r="3.05"/><circle cx="644.3" cy="332.5" r="3.05"/><circle cx="653.6" cy="332.5" r="3.05"/><circle cx="662.8" cy="332.5" r="3.05"/><circle cx="672" cy="332.5" r="3.05"/><circle cx="681.2" cy="332.5" r="3.05"/><circle cx="690.4" cy="332.5" r="3.05"/><circle cx="699.6" cy="332.5" r="3.05"/><circle cx="708.8" cy="332.5" r="3.05"/><circle cx="718" cy="332.5" r="3.05"/><circle cx="727.3" cy="332.5" r="3.05"/><circle cx="736.5" cy="332.5" r="3.05"/><circle cx="745.7" cy="332.5" r="3.05"/><circle cx="754.9" cy="332.5" r="3.05"/><circle cx="764.1" cy="332.5" r="3.05"/><circle cx="773.3" cy="332.5" r="3.05"/><circle cx="782.5" cy="332.5" r="3.05"/><circle cx="791.7" cy="332.5" r="3.05"/><circle cx="801" cy="332.5" r="3.05"/><circle cx="529.2" cy="340.4" r="3.05"/><circle cx="538.4" cy="340.4" r="3.05"/><circle cx="547.6" cy="340.4" r="3.05"/><circle cx="556.8" cy="340.4" r="3.05"/><circle cx="566" cy="340.4" r="3.05"/><circle cx="575.3" cy="340.4" r="3.05"/><circle cx="584.5" cy="340.4" r="3.05"/><circle cx="593.7" cy="340.4" r="3.05"/><circle cx="602.9" cy="340.4" r="3.05"/><circle cx="612.1" cy="340.4" r="3.05"/><circle cx="621.3" cy="340.4" r="3.05"/><circle cx="630.5" cy="340.4" r="3.05"/><circle cx="639.7" cy="340.4" r="3.05"/><circle cx="649" cy="340.4" r="3.05"/><circle cx="658.2" cy="340.4" r="3.05"/><circle cx="667.4" cy="340.4" r="3.05"/><circle cx="676.6" cy="340.4" r="3.05"/><circle cx="685.8" cy="340.4" r="3.05"/><circle cx="695" cy="340.4" r="3.05"/><circle cx="704.2" cy="340.4" r="3.05"/><circle cx="713.4" cy="340.4" r="3.05"/><circle cx="722.6" cy="340.4" r="3.05"/><circle cx="731.9" cy="340.4" r="3.05"/><circle cx="741.1" cy="340.4" r="3.05"/><circle cx="750.3" cy="340.4" r="3.05"/><circle cx="759.5" cy="340.4" r="3.05"/><circle cx="768.7" cy="340.4" r="3.05"/><circle cx="777.9" cy="340.4" r="3.05"/><circle cx="787.1" cy="340.4" r="3.05"/><circle cx="796.3" cy="340.4" r="3.05"/><circle cx="533.8" cy="348.2" r="3.05"/><circle cx="543" cy="348.2" r="3.05"/><circle cx="552.2" cy="348.2" r="3.05"/><circle cx="561.4" cy="348.2" r="3.05"/><circle cx="570.7" cy="348.2" r="3.05"/><circle cx="579.9" cy="348.2" r="3.05"/><circle cx="589.1" cy="348.2" r="3.05"/><circle cx="598.3" cy="348.2" r="3.05"/><circle cx="607.5" cy="348.2" r="3.05"/><circle cx="616.7" cy="348.2" r="3.05"/><circle cx="625.9" cy="348.2" r="3.05"/><circle cx="635.1" cy="348.2" r="3.05"/><circle cx="644.3" cy="348.2" r="3.05"/><circle cx="653.6" cy="348.2" r="3.05"/><circle cx="662.8" cy="348.2" r="3.05"/><circle cx="672" cy="348.2" r="3.05"/><circle cx="681.2" cy="348.2" r="3.05"/><circle cx="690.4" cy="348.2" r="3.05"/><circle cx="699.6" cy="348.2" r="3.05"/><circle cx="708.8" cy="348.2" r="3.05"/><circle cx="718" cy="348.2" r="3.05"/><circle cx="727.3" cy="348.2" r="3.05"/><circle cx="736.5" cy="348.2" r="3.05"/><circle cx="745.7" cy="348.2" r="3.05"/><circle cx="754.9" cy="348.2" r="3.05"/><circle cx="764.1" cy="348.2" r="3.05"/><circle cx="773.3" cy="348.2" r="3.05"/><circle cx="782.5" cy="348.2" r="3.05"/><circle cx="791.7" cy="348.2" r="3.05"/><circle cx="538.4" cy="356.1" r="3.05"/><circle cx="547.6" cy="356.1" r="3.05"/><circle cx="556.8" cy="356.1" r="3.05"/><circle cx="566" cy="356.1" r="3.05"/><circle cx="575.3" cy="356.1" r="3.05"/><circle cx="584.5" cy="356.1" r="3.05"/><circle cx="593.7" cy="356.1" r="3.05"/><circle cx="602.9" cy="356.1" r="3.05"/><circle cx="612.1" cy="356.1" r="3.05"/><circle cx="621.3" cy="356.1" r="3.05"/><circle cx="630.5" cy="356.1" r="3.05"/><circle cx="639.7" cy="356.1" r="3.05"/><circle cx="649" cy="356.1" r="3.05"/><circle cx="658.2" cy="356.1" r="3.05"/><circle cx="667.4" cy="356.1" r="3.05"/><circle cx="676.6" cy="356.1" r="3.05"/><circle cx="685.8" cy="356.1" r="3.05"/><circle cx="695" cy="356.1" r="3.05"/><circle cx="704.2" cy="356.1" r="3.05"/><circle cx="713.4" cy="356.1" r="3.05"/><circle cx="722.6" cy="356.1" r="3.05"/><circle cx="731.9" cy="356.1" r="3.05"/><circle cx="741.1" cy="356.1" r="3.05"/><circle cx="750.3" cy="356.1" r="3.05"/><circle cx="759.5" cy="356.1" r="3.05"/><circle cx="768.7" cy="356.1" r="3.05"/><circle cx="777.9" cy="356.1" r="3.05"/><circle cx="787.1" cy="356.1" r="3.05"/><circle cx="543" cy="364" r="3.05"/><circle cx="552.2" cy="364" r="3.05"/><circle cx="561.4" cy="364" r="3.05"/><circle cx="570.7" cy="364" r="3.05"/><circle cx="579.9" cy="364" r="3.05"/><circle cx="589.1" cy="364" r="3.05"/><circle cx="598.3" cy="364" r="3.05"/><circle cx="607.5" cy="364" r="3.05"/><circle cx="616.7" cy="364" r="3.05"/><circle cx="625.9" cy="364" r="3.05"/><circle cx="635.1" cy="364" r="3.05"/><circle cx="644.3" cy="364" r="3.05"/><circle cx="653.6" cy="364" r="3.05"/><circle cx="662.8" cy="364" r="3.05"/><circle cx="672" cy="364" r="3.05"/><circle cx="681.2" cy="364" r="3.05"/><circle cx="690.4" cy="364" r="3.05"/><circle cx="699.6" cy="364" r="3.05"/><circle cx="708.8" cy="364" r="3.05"/><circle cx="718" cy="364" r="3.05"/><circle cx="727.3" cy="364" r="3.05"/><circle cx="736.5" cy="364" r="3.05"/><circle cx="745.7" cy="364" r="3.05"/><circle cx="754.9" cy="364" r="3.05"/><circle cx="764.1" cy="364" r="3.05"/><circle cx="773.3" cy="364" r="3.05"/><circle cx="782.5" cy="364" r="3.05"/><circle cx="547.6" cy="371.8" r="3.05"/><circle cx="556.8" cy="371.8" r="3.05"/><circle cx="566" cy="371.8" r="3.05"/><circle cx="575.3" cy="371.8" r="3.05"/><circle cx="584.5" cy="371.8" r="3.05"/><circle cx="593.7" cy="371.8" r="3.05"/><circle cx="602.9" cy="371.8" r="3.05"/><circle cx="612.1" cy="371.8" r="3.05"/><circle cx="621.3" cy="371.8" r="3.05"/><circle cx="630.5" cy="371.8" r="3.05"/><circle cx="639.7" cy="371.8" r="3.05"/><circle cx="649" cy="371.8" r="3.05"/><circle cx="658.2" cy="371.8" r="3.05"/><circle cx="667.4" cy="371.8" r="3.05"/><circle cx="676.6" cy="371.8" r="3.05"/><circle cx="685.8" cy="371.8" r="3.05"/><circle cx="695" cy="371.8" r="3.05"/><circle cx="704.2" cy="371.8" r="3.05"/><circle cx="713.4" cy="371.8" r="3.05"/><circle cx="722.6" cy="371.8" r="3.05"/><circle cx="731.9" cy="371.8" r="3.05"/><circle cx="741.1" cy="371.8" r="3.05"/><circle cx="750.3" cy="371.8" r="3.05"/><circle cx="759.5" cy="371.8" r="3.05"/><circle cx="768.7" cy="371.8" r="3.05"/><circle cx="777.9" cy="371.8" r="3.05"/><circle cx="543" cy="379.7" r="3.05"/><circle cx="552.2" cy="379.7" r="3.05"/><circle cx="561.4" cy="379.7" r="3.05"/><circle cx="570.7" cy="379.7" r="3.05"/><circle cx="579.9" cy="379.7" r="3.05"/><circle cx="589.1" cy="379.7" r="3.05"/><circle cx="598.3" cy="379.7" r="3.05"/><circle cx="607.5" cy="379.7" r="3.05"/><circle cx="616.7" cy="379.7" r="3.05"/><circle cx="625.9" cy="379.7" r="3.05"/><circle cx="635.1" cy="379.7" r="3.05"/><circle cx="644.3" cy="379.7" r="3.05"/><circle cx="653.6" cy="379.7" r="3.05"/><circle cx="662.8" cy="379.7" r="3.05"/><circle cx="672" cy="379.7" r="3.05"/><circle cx="681.2" cy="379.7" r="3.05"/><circle cx="690.4" cy="379.7" r="3.05"/><circle cx="699.6" cy="379.7" r="3.05"/><circle cx="708.8" cy="379.7" r="3.05"/><circle cx="718" cy="379.7" r="3.05"/><circle cx="727.3" cy="379.7" r="3.05"/><circle cx="736.5" cy="379.7" r="3.05"/><circle cx="745.7" cy="379.7" r="3.05"/><circle cx="754.9" cy="379.7" r="3.05"/><circle cx="764.1" cy="379.7" r="3.05"/><circle cx="773.3" cy="379.7" r="3.05"/><circle cx="547.6" cy="387.5" r="3.05"/><circle cx="556.8" cy="387.5" r="3.05"/><circle cx="566" cy="387.5" r="3.05"/><circle cx="575.3" cy="387.5" r="3.05"/><circle cx="584.5" cy="387.5" r="3.05"/><circle cx="593.7" cy="387.5" r="3.05"/><circle cx="602.9" cy="387.5" r="3.05"/><circle cx="612.1" cy="387.5" r="3.05"/><circle cx="621.3" cy="387.5" r="3.05"/><circle cx="630.5" cy="387.5" r="3.05"/><circle cx="639.7" cy="387.5" r="3.05"/><circle cx="649" cy="387.5" r="3.05"/><circle cx="658.2" cy="387.5" r="3.05"/><circle cx="667.4" cy="387.5" r="3.05"/><circle cx="676.6" cy="387.5" r="3.05"/><circle cx="685.8" cy="387.5" r="3.05"/><circle cx="695" cy="387.5" r="3.05"/><circle cx="704.2" cy="387.5" r="3.05"/><circle cx="713.4" cy="387.5" r="3.05"/><circle cx="722.6" cy="387.5" r="3.05"/><circle cx="731.9" cy="387.5" r="3.05"/><circle cx="741.1" cy="387.5" r="3.05"/><circle cx="750.3" cy="387.5" r="3.05"/><circle cx="759.5" cy="387.5" r="3.05"/><circle cx="768.7" cy="387.5" r="3.05"/><circle cx="552.2" cy="395.4" r="3.05"/><circle cx="561.4" cy="395.4" r="3.05"/><circle cx="570.7" cy="395.4" r="3.05"/><circle cx="579.9" cy="395.4" r="3.05"/><circle cx="589.1" cy="395.4" r="3.05"/><circle cx="598.3" cy="395.4" r="3.05"/><circle cx="607.5" cy="395.4" r="3.05"/><circle cx="616.7" cy="395.4" r="3.05"/><circle cx="625.9" cy="395.4" r="3.05"/><circle cx="635.1" cy="395.4" r="3.05"/><circle cx="644.3" cy="395.4" r="3.05"/><circle cx="653.6" cy="395.4" r="3.05"/><circle cx="662.8" cy="395.4" r="3.05"/><circle cx="672" cy="395.4" r="3.05"/><circle cx="681.2" cy="395.4" r="3.05"/><circle cx="690.4" cy="395.4" r="3.05"/><circle cx="699.6" cy="395.4" r="3.05"/><circle cx="708.8" cy="395.4" r="3.05"/><circle cx="718" cy="395.4" r="3.05"/><circle cx="727.3" cy="395.4" r="3.05"/><circle cx="736.5" cy="395.4" r="3.05"/><circle cx="745.7" cy="395.4" r="3.05"/><circle cx="754.9" cy="395.4" r="3.05"/><circle cx="764.1" cy="395.4" r="3.05"/><circle cx="556.8" cy="403.3" r="3.05"/><circle cx="566" cy="403.3" r="3.05"/><circle cx="575.3" cy="403.3" r="3.05"/><circle cx="584.5" cy="403.3" r="3.05"/><circle cx="593.7" cy="403.3" r="3.05"/><circle cx="602.9" cy="403.3" r="3.05"/><circle cx="612.1" cy="403.3" r="3.05"/><circle cx="621.3" cy="403.3" r="3.05"/><circle cx="630.5" cy="403.3" r="3.05"/><circle cx="639.7" cy="403.3" r="3.05"/><circle cx="649" cy="403.3" r="3.05"/><circle cx="658.2" cy="403.3" r="3.05"/><circle cx="667.4" cy="403.3" r="3.05"/><circle cx="676.6" cy="403.3" r="3.05"/><circle cx="685.8" cy="403.3" r="3.05"/><circle cx="695" cy="403.3" r="3.05"/><circle cx="704.2" cy="403.3" r="3.05"/><circle cx="713.4" cy="403.3" r="3.05"/><circle cx="722.6" cy="403.3" r="3.05"/><circle cx="731.9" cy="403.3" r="3.05"/><circle cx="741.1" cy="403.3" r="3.05"/><circle cx="750.3" cy="403.3" r="3.05"/><circle cx="759.5" cy="403.3" r="3.05"/><circle cx="561.4" cy="411.1" r="3.05"/><circle cx="570.7" cy="411.1" r="3.05"/><circle cx="579.9" cy="411.1" r="3.05"/><circle cx="589.1" cy="411.1" r="3.05"/><circle cx="598.3" cy="411.1" r="3.05"/><circle cx="607.5" cy="411.1" r="3.05"/><circle cx="616.7" cy="411.1" r="3.05"/><circle cx="625.9" cy="411.1" r="3.05"/><circle cx="635.1" cy="411.1" r="3.05"/><circle cx="644.3" cy="411.1" r="3.05"/><circle cx="653.6" cy="411.1" r="3.05"/><circle cx="662.8" cy="411.1" r="3.05"/><circle cx="672" cy="411.1" r="3.05"/><circle cx="681.2" cy="411.1" r="3.05"/><circle cx="690.4" cy="411.1" r="3.05"/><circle cx="699.6" cy="411.1" r="3.05"/><circle cx="708.8" cy="411.1" r="3.05"/><circle cx="718" cy="411.1" r="3.05"/><circle cx="727.3" cy="411.1" r="3.05"/><circle cx="736.5" cy="411.1" r="3.05"/><circle cx="745.7" cy="411.1" r="3.05"/><circle cx="754.9" cy="411.1" r="3.05"/><circle cx="556.8" cy="419" r="3.05"/><circle cx="566" cy="419" r="3.05"/><circle cx="575.3" cy="419" r="3.05"/><circle cx="584.5" cy="419" r="3.05"/><circle cx="593.7" cy="419" r="3.05"/><circle cx="602.9" cy="419" r="3.05"/><circle cx="612.1" cy="419" r="3.05"/><circle cx="621.3" cy="419" r="3.05"/><circle cx="630.5" cy="419" r="3.05"/><circle cx="639.7" cy="419" r="3.05"/><circle cx="649" cy="419" r="3.05"/><circle cx="658.2" cy="419" r="3.05"/><circle cx="667.4" cy="419" r="3.05"/><circle cx="676.6" cy="419" r="3.05"/><circle cx="685.8" cy="419" r="3.05"/><circle cx="695" cy="419" r="3.05"/><circle cx="704.2" cy="419" r="3.05"/><circle cx="713.4" cy="419" r="3.05"/><circle cx="722.6" cy="419" r="3.05"/><circle cx="731.9" cy="419" r="3.05"/><circle cx="741.1" cy="419" r="3.05"/><circle cx="561.4" cy="426.8" r="3.05"/><circle cx="570.7" cy="426.8" r="3.05"/><circle cx="579.9" cy="426.8" r="3.05"/><circle cx="589.1" cy="426.8" r="3.05"/><circle cx="598.3" cy="426.8" r="3.05"/><circle cx="607.5" cy="426.8" r="3.05"/><circle cx="616.7" cy="426.8" r="3.05"/><circle cx="625.9" cy="426.8" r="3.05"/><circle cx="635.1" cy="426.8" r="3.05"/><circle cx="644.3" cy="426.8" r="3.05"/><circle cx="653.6" cy="426.8" r="3.05"/><circle cx="662.8" cy="426.8" r="3.05"/><circle cx="672" cy="426.8" r="3.05"/><circle cx="681.2" cy="426.8" r="3.05"/><circle cx="690.4" cy="426.8" r="3.05"/><circle cx="699.6" cy="426.8" r="3.05"/><circle cx="708.8" cy="426.8" r="3.05"/><circle cx="718" cy="426.8" r="3.05"/><circle cx="727.3" cy="426.8" r="3.05"/><circle cx="736.5" cy="426.8" r="3.05"/><circle cx="566" cy="434.7" r="3.05"/><circle cx="575.3" cy="434.7" r="3.05"/><circle cx="584.5" cy="434.7" r="3.05"/><circle cx="593.7" cy="434.7" r="3.05"/><circle cx="602.9" cy="434.7" r="3.05"/><circle cx="612.1" cy="434.7" r="3.05"/><circle cx="621.3" cy="434.7" r="3.05"/><circle cx="630.5" cy="434.7" r="3.05"/><circle cx="639.7" cy="434.7" r="3.05"/><circle cx="649" cy="434.7" r="3.05"/><circle cx="658.2" cy="434.7" r="3.05"/><circle cx="667.4" cy="434.7" r="3.05"/><circle cx="676.6" cy="434.7" r="3.05"/><circle cx="685.8" cy="434.7" r="3.05"/><circle cx="695" cy="434.7" r="3.05"/><circle cx="704.2" cy="434.7" r="3.05"/><circle cx="713.4" cy="434.7" r="3.05"/><circle cx="722.6" cy="434.7" r="3.05"/><circle cx="731.9" cy="434.7" r="3.05"/><circle cx="570.7" cy="442.6" r="3.05"/><circle cx="579.9" cy="442.6" r="3.05"/><circle cx="589.1" cy="442.6" r="3.05"/><circle cx="598.3" cy="442.6" r="3.05"/><circle cx="607.5" cy="442.6" r="3.05"/><circle cx="616.7" cy="442.6" r="3.05"/><circle cx="625.9" cy="442.6" r="3.05"/><circle cx="635.1" cy="442.6" r="3.05"/><circle cx="644.3" cy="442.6" r="3.05"/><circle cx="653.6" cy="442.6" r="3.05"/><circle cx="662.8" cy="442.6" r="3.05"/><circle cx="672" cy="442.6" r="3.05"/><circle cx="681.2" cy="442.6" r="3.05"/><circle cx="690.4" cy="442.6" r="3.05"/><circle cx="699.6" cy="442.6" r="3.05"/><circle cx="708.8" cy="442.6" r="3.05"/><circle cx="718" cy="442.6" r="3.05"/><circle cx="727.3" cy="442.6" r="3.05"/><circle cx="575.3" cy="450.4" r="3.05"/><circle cx="584.5" cy="450.4" r="3.05"/><circle cx="593.7" cy="450.4" r="3.05"/><circle cx="602.9" cy="450.4" r="3.05"/><circle cx="612.1" cy="450.4" r="3.05"/><circle cx="621.3" cy="450.4" r="3.05"/><circle cx="630.5" cy="450.4" r="3.05"/><circle cx="639.7" cy="450.4" r="3.05"/><circle cx="649" cy="450.4" r="3.05"/><circle cx="658.2" cy="450.4" r="3.05"/><circle cx="667.4" cy="450.4" r="3.05"/><circle cx="676.6" cy="450.4" r="3.05"/><circle cx="685.8" cy="450.4" r="3.05"/><circle cx="695" cy="450.4" r="3.05"/><circle cx="704.2" cy="450.4" r="3.05"/><circle cx="713.4" cy="450.4" r="3.05"/><circle cx="722.6" cy="450.4" r="3.05"/><circle cx="570.7" cy="458.3" r="3.05"/><circle cx="579.9" cy="458.3" r="3.05"/><circle cx="589.1" cy="458.3" r="3.05"/><circle cx="598.3" cy="458.3" r="3.05"/><circle cx="607.5" cy="458.3" r="3.05"/><circle cx="616.7" cy="458.3" r="3.05"/><circle cx="625.9" cy="458.3" r="3.05"/><circle cx="635.1" cy="458.3" r="3.05"/><circle cx="644.3" cy="458.3" r="3.05"/><circle cx="653.6" cy="458.3" r="3.05"/><circle cx="662.8" cy="458.3" r="3.05"/><circle cx="672" cy="458.3" r="3.05"/><circle cx="681.2" cy="458.3" r="3.05"/><circle cx="690.4" cy="458.3" r="3.05"/><circle cx="699.6" cy="458.3" r="3.05"/><circle cx="708.8" cy="458.3" r="3.05"/><circle cx="718" cy="458.3" r="3.05"/><circle cx="575.3" cy="466.1" r="3.05"/><circle cx="584.5" cy="466.1" r="3.05"/><circle cx="593.7" cy="466.1" r="3.05"/><circle cx="602.9" cy="466.1" r="3.05"/><circle cx="612.1" cy="466.1" r="3.05"/><circle cx="621.3" cy="466.1" r="3.05"/><circle cx="630.5" cy="466.1" r="3.05"/><circle cx="639.7" cy="466.1" r="3.05"/><circle cx="649" cy="466.1" r="3.05"/><circle cx="658.2" cy="466.1" r="3.05"/><circle cx="667.4" cy="466.1" r="3.05"/><circle cx="676.6" cy="466.1" r="3.05"/><circle cx="685.8" cy="466.1" r="3.05"/><circle cx="695" cy="466.1" r="3.05"/><circle cx="704.2" cy="466.1" r="3.05"/><circle cx="713.4" cy="466.1" r="3.05"/><circle cx="579.9" cy="474" r="3.05"/><circle cx="589.1" cy="474" r="3.05"/><circle cx="598.3" cy="474" r="3.05"/><circle cx="607.5" cy="474" r="3.05"/><circle cx="616.7" cy="474" r="3.05"/><circle cx="625.9" cy="474" r="3.05"/><circle cx="635.1" cy="474" r="3.05"/><circle cx="644.3" cy="474" r="3.05"/><circle cx="653.6" cy="474" r="3.05"/><circle cx="662.8" cy="474" r="3.05"/><circle cx="672" cy="474" r="3.05"/><circle cx="681.2" cy="474" r="3.05"/><circle cx="690.4" cy="474" r="3.05"/><circle cx="699.6" cy="474" r="3.05"/><circle cx="708.8" cy="474" r="3.05"/><circle cx="584.5" cy="481.9" r="3.05"/><circle cx="593.7" cy="481.9" r="3.05"/><circle cx="602.9" cy="481.9" r="3.05"/><circle cx="612.1" cy="481.9" r="3.05"/><circle cx="621.3" cy="481.9" r="3.05"/><circle cx="630.5" cy="481.9" r="3.05"/><circle cx="639.7" cy="481.9" r="3.05"/><circle cx="649" cy="481.9" r="3.05"/><circle cx="658.2" cy="481.9" r="3.05"/><circle cx="667.4" cy="481.9" r="3.05"/><circle cx="676.6" cy="481.9" r="3.05"/><circle cx="685.8" cy="481.9" r="3.05"/><circle cx="695" cy="481.9" r="3.05"/><circle cx="704.2" cy="481.9" r="3.05"/><circle cx="579.9" cy="489.7" r="3.05"/><circle cx="589.1" cy="489.7" r="3.05"/><circle cx="598.3" cy="489.7" r="3.05"/><circle cx="607.5" cy="489.7" r="3.05"/><circle cx="616.7" cy="489.7" r="3.05"/><circle cx="625.9" cy="489.7" r="3.05"/><circle cx="635.1" cy="489.7" r="3.05"/><circle cx="644.3" cy="489.7" r="3.05"/><circle cx="653.6" cy="489.7" r="3.05"/><circle cx="662.8" cy="489.7" r="3.05"/><circle cx="672" cy="489.7" r="3.05"/><circle cx="681.2" cy="489.7" r="3.05"/><circle cx="690.4" cy="489.7" r="3.05"/><circle cx="699.6" cy="489.7" r="3.05"/><circle cx="584.5" cy="497.6" r="3.05"/><circle cx="593.7" cy="497.6" r="3.05"/><circle cx="602.9" cy="497.6" r="3.05"/><circle cx="612.1" cy="497.6" r="3.05"/><circle cx="621.3" cy="497.6" r="3.05"/><circle cx="630.5" cy="497.6" r="3.05"/><circle cx="639.7" cy="497.6" r="3.05"/><circle cx="649" cy="497.6" r="3.05"/><circle cx="658.2" cy="497.6" r="3.05"/><circle cx="667.4" cy="497.6" r="3.05"/><circle cx="676.6" cy="497.6" r="3.05"/><circle cx="685.8" cy="497.6" r="3.05"/><circle cx="695" cy="497.6" r="3.05"/><circle cx="589.1" cy="505.4" r="3.05"/><circle cx="598.3" cy="505.4" r="3.05"/><circle cx="607.5" cy="505.4" r="3.05"/><circle cx="616.7" cy="505.4" r="3.05"/><circle cx="625.9" cy="505.4" r="3.05"/><circle cx="635.1" cy="505.4" r="3.05"/><circle cx="644.3" cy="505.4" r="3.05"/><circle cx="653.6" cy="505.4" r="3.05"/><circle cx="662.8" cy="505.4" r="3.05"/><circle cx="672" cy="505.4" r="3.05"/><circle cx="681.2" cy="505.4" r="3.05"/><circle cx="690.4" cy="505.4" r="3.05"/><circle cx="593.7" cy="513.3" r="3.05"/><circle cx="602.9" cy="513.3" r="3.05"/><circle cx="612.1" cy="513.3" r="3.05"/><circle cx="621.3" cy="513.3" r="3.05"/><circle cx="630.5" cy="513.3" r="3.05"/><circle cx="639.7" cy="513.3" r="3.05"/><circle cx="649" cy="513.3" r="3.05"/><circle cx="658.2" cy="513.3" r="3.05"/><circle cx="667.4" cy="513.3" r="3.05"/><circle cx="676.6" cy="513.3" r="3.05"/><circle cx="685.8" cy="513.3" r="3.05"/><circle cx="598.3" cy="521.1" r="3.05"/><circle cx="607.5" cy="521.1" r="3.05"/><circle cx="616.7" cy="521.1" r="3.05"/><circle cx="625.9" cy="521.1" r="3.05"/><circle cx="635.1" cy="521.1" r="3.05"/><circle cx="644.3" cy="521.1" r="3.05"/><circle cx="653.6" cy="521.1" r="3.05"/><circle cx="662.8" cy="521.1" r="3.05"/><circle cx="672" cy="521.1" r="3.05"/><circle cx="681.2" cy="521.1" r="3.05"/><circle cx="593.7" cy="529" r="3.05"/><circle cx="602.9" cy="529" r="3.05"/><circle cx="612.1" cy="529" r="3.05"/><circle cx="621.3" cy="529" r="3.05"/><circle cx="630.5" cy="529" r="3.05"/><circle cx="639.7" cy="529" r="3.05"/><circle cx="649" cy="529" r="3.05"/><circle cx="658.2" cy="529" r="3.05"/><circle cx="667.4" cy="529" r="3.05"/><circle cx="676.6" cy="529" r="3.05"/><circle cx="598.3" cy="536.9" r="3.05"/><circle cx="607.5" cy="536.9" r="3.05"/><circle cx="616.7" cy="536.9" r="3.05"/><circle cx="625.9" cy="536.9" r="3.05"/><circle cx="635.1" cy="536.9" r="3.05"/><circle cx="644.3" cy="536.9" r="3.05"/><circle cx="653.6" cy="536.9" r="3.05"/><circle cx="662.8" cy="536.9" r="3.05"/><circle cx="672" cy="536.9" r="3.05"/><circle cx="602.9" cy="544.7" r="3.05"/><circle cx="612.1" cy="544.7" r="3.05"/><circle cx="621.3" cy="544.7" r="3.05"/><circle cx="630.5" cy="544.7" r="3.05"/><circle cx="639.7" cy="544.7" r="3.05"/><circle cx="649" cy="544.7" r="3.05"/><circle cx="658.2" cy="544.7" r="3.05"/><circle cx="667.4" cy="544.7" r="3.05"/><circle cx="607.5" cy="552.6" r="3.05"/><circle cx="616.7" cy="552.6" r="3.05"/><circle cx="625.9" cy="552.6" r="3.05"/><circle cx="635.1" cy="552.6" r="3.05"/><circle cx="644.3" cy="552.6" r="3.05"/><circle cx="653.6" cy="552.6" r="3.05"/><circle cx="612.1" cy="560.4" r="3.05"/><circle cx="621.3" cy="560.4" r="3.05"/><circle cx="630.5" cy="560.4" r="3.05"/><circle cx="639.7" cy="560.4" r="3.05"/><circle cx="649" cy="560.4" r="3.05"/><circle cx="616.7" cy="568.3" r="3.05"/><circle cx="625.9" cy="568.3" r="3.05"/><circle cx="635.1" cy="568.3" r="3.05"/><circle cx="644.3" cy="568.3" r="3.05"/><circle cx="621.3" cy="576.2" r="3.05"/><circle cx="630.5" cy="576.2" r="3.05"/><circle cx="639.7" cy="576.2" r="3.05"/><circle cx="625.9" cy="584" r="3.05"/><circle cx="635.1" cy="584" r="3.05"/><circle cx="630.5" cy="591.9" r="3.05"/>
</g>
<g fill="#ffa500">
<circle cx="801.4" cy="223" r="4.3"/><circle cx="816.4" cy="223" r="4.3"/><circle cx="807" cy="229.1" r="4.3"/><circle cx="824.2" cy="229.9" r="4.3"/><circle cx="813.8" cy="233.6" r="4.3"/><circle cx="821" cy="236.2" r="4.3"/><circle cx="813.4" cy="241" r="4.3"/><circle cx="829.8" cy="240.1" r="4.3"/><circle cx="823.6" cy="247.3" r="4.3"/><circle cx="815.7" cy="252.6" r="4.3"/><circle cx="820.4" cy="251.6" r="4.3"/><circle cx="830.7" cy="253.5" r="4.3"/><circle cx="816.7" cy="260" r="4.3"/><circle cx="821" cy="261.6" r="4.3"/><circle cx="832.6" cy="260.2" r="4.3"/><circle cx="836.4" cy="263.5" r="4.3"/><circle cx="821.3" cy="268.2" r="4.3"/><circle cx="833.3" cy="269.4" r="4.3"/><circle cx="840.9" cy="268.8" r="4.3"/><circle cx="830.3" cy="276.4" r="4.3"/><circle cx="836.2" cy="277.6" r="4.3"/><circle cx="842.7" cy="275.9" r="4.3"/><circle cx="836.4" cy="282" r="4.3"/>
</g>
<g fill="none" stroke="#000" stroke-opacity="0.62" stroke-width="0.9" stroke-linejoin="round">
<path d="M822.3,307.8 754.9,178.6 368.1,59.6 367.5,59.9 367.1,60.5 366.9,61.3 366.9,62.5 367,63.9 367.3,65.6 367.7,67.7 368.4,70.1 369.2,72.9 370.2,76 371.4,79.4 372.8,83.1 374.4,87.1 376.1,91.5 378.1,96.1 380.3,101.1 382.7,106.4 385.4,111.9 388.2,117.7 391.4,123.8 394.7,130.2 398.4,136.8 402.3,143.7 406.4,150.8 410.8,158.2 415.4,165.8 420.2,173.5 425.2,181.5 430.4,189.7 435.7,198.1 441.1,206.6 446.7,215.3 452.3,224.2 457.9,233.2 463.5,242.3 469.1,251.5 474.7,260.9 480.3,270.3 485.8,279.9 491.2,289.5 496.5,299.1 501.6,308.8 506.7,318.6 511.5,328.4 516.2,338.1 520.7,347.9 525,357.7 529.1,367.5 533,377.2 536.7,386.8 540.3,396.4 543.7,406 547,415.4 550.1,424.8 553.1,434 555.9,443.1 558.7,452.1 561.3,461 563.9,469.7 566.3,478.2 568.7,486.6 571,494.7 573.2,502.7 575.4,510.5 577.5,518 579.5,525.4 581.6,532.4 583.7,539.3 585.9,545.9 588.1,552.2 590.3,558.2 592.7,564 595,569.5 597.4,574.7 599.8,579.5 602.3,584.1 604.6,588.4 607,592.3 609.2,595.9 611.4,599.2 613.4,602.2 615.3,604.8 617.1,607.1 618.7,609 620.1,610.6 621.5,611.8 622.7,612.7 623.9,613.2 625.2,613.4Z"/>
<path d="M822.6,307.9 754.8,178.8 363.3,57 362.7,57.6 362.3,58.3 362.1,59.3 362.1,60.5 362.2,62 362.5,63.8 363,65.9 363.7,68.3 364.5,71.1 365.5,74.2 366.7,77.7 368.1,81.4 369.7,85.5 371.5,89.9 373.5,94.6 375.8,99.7 378.2,105 380.9,110.6 383.9,116.5 387,122.7 390.5,129.1 394.2,135.8 398.2,142.8 402.4,150 406.9,157.4 411.6,165.1 416.5,172.9 421.6,181 426.9,189.3 432.3,197.7 437.9,206.4 443.6,215.2 449.3,224.1 455.1,233.2 460.9,242.4 466.7,251.7 472.4,261.2 478.1,270.7 483.8,280.3 489.3,289.9 494.8,299.7 500.1,309.4 505.2,319.2 510.2,329 515,338.8 519.6,348.6 524,358.4 528.2,368.1 532.2,377.8 536.1,387.4 539.7,396.9 543.3,406.4 546.6,415.8 549.8,425 552.9,434.2 555.9,443.2 558.8,452 561.5,460.7 564.2,469.3 566.8,477.6 569.2,485.8 571.6,493.8 574,501.5 576.2,509.1 578.4,516.4 580.6,523.5 582.7,530.4 584.9,537 587.2,543.4 589.4,549.5 591.8,555.3 594.2,560.8 596.7,566.1 599.2,571 601.8,575.7 604.3,580.1 606.8,584.2 609.3,587.9 611.7,591.4 614,594.5 616.2,597.3 618.2,599.8 620,601.9 621.6,603.8 623.1,605.3 624.3,606.4 625.4,607.3 626.3,607.8 627.1,608Z"/>
<path d="M822.5,307.7 754.8,179 357.5,55.1 356.9,55.6 356.6,56.2 356.4,57.2 356.4,58.4 356.7,59.9 357.1,61.7 357.7,63.9 358.4,66.4 359.4,69.3 360.6,72.5 362,76 363.6,79.9 365.3,84 367.4,88.6 369.6,93.4 372,98.5 374.7,103.9 377.7,109.6 380.8,115.6 384.3,121.9 387.9,128.4 391.9,135.2 396.1,142.3 400.6,149.6 405.2,157.1 410.2,164.8 415.3,172.7 420.6,180.9 426.1,189.2 431.7,197.7 437.5,206.3 443.3,215.2 449.2,224.1 455.1,233.2 461,242.4 466.9,251.7 472.7,261.1 478.5,270.6 484.2,280.2 489.9,289.8 495.4,299.5 500.7,309.2 505.9,318.9 510.9,328.7 515.7,338.4 520.3,348.1 524.8,357.8 529,367.5 533,377.1 536.9,386.7 540.5,396.2 544.1,405.6 547.4,414.9 550.7,424.2 553.7,433.3 556.7,442.2 559.6,451.1 562.3,459.7 564.9,468.3 567.5,476.6 569.9,484.8 572.3,492.8 574.6,500.6 576.8,508.2 578.9,515.5 581.1,522.7 583.2,529.6 585.3,536.2 587.5,542.6 589.8,548.8 592.1,554.7 594.5,560.3 597,565.6 599.5,570.6 602,575.3 604.5,579.8 607,583.9 609.5,587.7 611.8,591.2 614.1,594.4 616.3,597.3 618.4,599.8 620.3,602 622,603.9 623.6,605.4 625.1,606.6 626.6,607.5 628.1,608 629.8,608.1Z"/>
<path d="M822.3,307.6 754.9,179 361.6,56.5 361,57 360.7,57.7 360.5,58.7 360.5,59.9 360.7,61.4 361,63.2 361.6,65.4 362.3,67.8 363.2,70.6 364.2,73.8 365.5,77.3 367,81.1 368.6,85.2 370.5,89.6 372.6,94.3 374.9,99.4 377.5,104.7 380.2,110.4 383.2,116.3 386.5,122.5 390,129 393.8,135.7 397.8,142.7 402.1,149.9 406.6,157.4 411.4,165 416.4,172.9 421.5,181 426.9,189.3 432.3,197.7 437.9,206.4 443.6,215.2 449.4,224.1 455.2,233.2 461,242.4 466.8,251.7 472.5,261.2 478.2,270.7 483.9,280.3 489.4,289.9 494.8,299.6 500.1,309.4 505.3,319.2 510.2,329 515,338.8 519.6,348.6 523.9,358.4 528.1,368.2 532.1,377.9 535.9,387.5 539.5,397.1 543,406.6 546.3,416.1 549.5,425.4 552.6,434.6 555.5,443.6 558.3,452.6 561,461.4 563.6,470 566.1,478.5 568.6,486.8 570.9,494.8 573.2,502.7 575.4,510.4 577.6,517.9 579.7,525.1 581.8,532.1 583.9,538.8 586.1,545.3 588.4,551.5 590.7,557.5 593.1,563.2 595.5,568.6 597.9,573.7 600.4,578.5 602.9,583 605.3,587.1 607.7,591 610,594.6 612.2,597.8 614.3,600.7 616.2,603.2 618,605.5 619.6,607.4 621.1,608.9 622.4,610.1 623.5,611 624.6,611.5 625.8,611.7Z"/>
<path d="M822.1,307.6 755.1,178.9 360.9,57.3 360.4,57.5 360.1,58 359.9,58.8 359.9,59.9 360,61.3 360.4,63.1 360.9,65.2 361.5,67.6 362.4,70.4 363.4,73.5 364.7,77 366.1,80.7 367.7,84.8 369.5,89.3 371.5,94 373.8,99 376.3,104.4 379,110 381.9,115.9 385.2,122.1 388.6,128.6 392.4,135.3 396.4,142.3 400.6,149.6 405.1,157 409.8,164.7 414.8,172.7 419.9,180.8 425.2,189.1 430.7,197.6 436.3,206.3 442,215.1 447.8,224.1 453.6,233.2 459.4,242.5 465.3,251.9 471.1,261.3 476.8,270.9 482.5,280.5 488.1,290.3 493.6,300 499,309.8 504.1,319.7 509.2,329.5 514,339.4 518.6,349.2 523,359 527.2,368.8 531.2,378.6 535.1,388.2 538.8,397.8 542.3,407.3 545.7,416.7 548.9,426.1 552,435.2 555,444.3 557.8,453.2 560.6,461.9 563.3,470.5 565.8,478.9 568.3,487.1 570.7,495.1 573.1,503 575.3,510.6 577.5,517.9 579.7,525.1 581.9,531.9 584.1,538.6 586.3,545 588.6,551.1 591,556.9 593.4,562.5 595.9,567.8 598.4,572.8 600.9,577.5 603.4,581.8 605.9,585.9 608.4,589.7 610.7,593.2 613,596.3 615.1,599.1 617.1,601.6 618.9,603.8 620.5,605.6 621.9,607.1 623,608.3 624,609.1 624.9,609.6 625.6,609.8Z"/>
<path d="M822.3,307.7 754.7,178.9 360.1,57 359.6,57.2 359.2,57.7 359.1,58.4 359.1,59.6 359.2,61 359.6,62.8 360.1,64.9 360.8,67.3 361.7,70.1 362.7,73.3 364,76.7 365.4,80.5 367,84.6 368.9,89.1 370.9,93.8 373.2,98.8 375.7,104.2 378.4,109.8 381.4,115.8 384.6,122 388.1,128.5 391.8,135.2 395.8,142.2 400.1,149.5 404.6,156.9 409.3,164.6 414.3,172.6 419.4,180.7 424.7,189 430.2,197.5 435.8,206.2 441.6,215.1 447.3,224.1 453.2,233.2 459,242.5 464.8,251.9 470.6,261.4 476.4,271 482.1,280.6 487.7,290.4 493.2,300.2 498.5,310 503.7,319.8 508.7,329.7 513.6,339.6 518.2,349.5 522.6,359.3 526.8,369.1 530.8,378.9 534.6,388.6 538.3,398.3 541.8,407.8 545.2,417.3 548.4,426.6 551.4,435.8 554.4,444.9 557.3,453.9 560,462.7 562.6,471.3 565.2,479.8 567.7,488 570.1,496.1 572.4,504 574.7,511.6 576.8,519.1 579,526.3 581.2,533.2 583.4,539.9 585.6,546.3 587.9,552.5 590.2,558.4 592.6,564 595.1,569.4 597.6,574.4 600,579.2 602.5,583.6 605,587.7 607.4,591.5 609.8,595 612,598.2 614.1,601.1 616.1,603.6 618,605.8 619.7,607.6 621.2,609.2 622.7,610.4 624.1,611.2 625.5,611.7 627.1,611.9Z"/>
<path d="M822.2,307.8 754.6,179 356.8,55.5 356.3,55.8 356,56.3 355.9,57.2 356,58.3 356.3,59.8 356.7,61.7 357.3,63.8 358.1,66.3 359.1,69.2 360.3,72.4 361.7,75.9 363.3,79.8 365.1,84 367.1,88.5 369.3,93.3 371.7,98.4 374.4,103.8 377.3,109.5 380.5,115.5 383.9,121.8 387.6,128.3 391.5,135.1 395.6,142.2 400.1,149.5 404.7,157 409.6,164.7 414.7,172.6 419.9,180.8 425.4,189.1 431,197.6 436.7,206.3 442.4,215.1 448.3,224.1 454.2,233.2 460,242.5 465.9,251.8 471.7,261.3 477.5,270.8 483.2,280.4 488.7,290.1 494.2,299.8 499.5,309.6 504.7,319.4 509.7,329.3 514.4,339.1 519,349 523.4,358.8 527.5,368.6 531.5,378.3 535.3,388.1 538.9,397.7 542.4,407.3 545.7,416.8 548.8,426.1 551.8,435.4 554.7,444.6 557.5,453.6 560.1,462.5 562.7,471.2 565.2,479.8 567.6,488.2 569.9,496.4 572.1,504.4 574.3,512.2 576.4,519.8 578.5,527.2 580.6,534.3 582.7,541.2 584.8,547.8 587,554.2 589.3,560.3 591.6,566.1 593.9,571.6 596.3,576.9 598.7,581.8 601.1,586.4 603.4,590.7 605.7,594.7 607.9,598.4 609.9,601.7 611.9,604.7 613.7,607.3 615.4,609.6 616.8,611.6 618.1,613.2 619.2,614.4 620.1,615.3 620.9,615.8 621.6,616Z"/>
<path d="M822.3,308.1 754.9,178.9 359.1,56.3 358.6,56.6 358.3,57.2 358.2,58 358.2,59.2 358.4,60.6 358.8,62.4 359.3,64.6 360,67 360.9,69.9 362,73 363.3,76.5 364.7,80.3 366.4,84.4 368.3,88.9 370.3,93.6 372.6,98.7 375.1,104 377.9,109.7 380.9,115.6 384.1,121.9 387.6,128.4 391.4,135.1 395.4,142.1 399.7,149.4 404.2,156.9 409,164.6 413.9,172.5 419.1,180.7 424.4,189 429.9,197.5 435.5,206.2 441.2,215.1 447,224.1 452.8,233.2 458.7,242.5 464.5,251.9 470.3,261.4 476.1,271 481.8,280.7 487.4,290.5 492.8,300.3 498.2,310.1 503.4,320 508.3,329.9 513.1,339.8 517.7,349.7 522.1,359.6 526.3,369.5 530.3,379.3 534.1,389.1 537.7,398.8 541.2,408.4 544.5,417.9 547.7,427.3 550.8,436.6 553.7,445.8 556.5,454.8 559.2,463.7 561.8,472.4 564.3,481 566.8,489.3 569.1,497.5 571.4,505.5 573.7,513.2 575.8,520.8 578,528 580.1,535.1 582.3,541.9 584.5,548.5 586.8,554.7 589.1,560.7 591.4,566.5 593.8,571.9 596.2,577 598.7,581.9 601.1,586.4 603.5,590.6 605.8,594.5 608.1,598.1 610.2,601.3 612.2,604.2 614.1,606.8 615.8,609 617.4,610.9 618.8,612.5 620,613.7 621.1,614.6 622.1,615.1 623.2,615.3Z"/>
<path d="M822.3,307.7 754.7,179.2 357.6,54.4 357.1,55.1 356.8,56 356.7,57 356.7,58.3 356.9,59.9 357.3,61.7 357.8,63.9 358.5,66.4 359.4,69.2 360.4,72.4 361.7,75.9 363.1,79.7 364.7,83.8 366.6,88.3 368.6,93 370.9,98.1 373.4,103.5 376.1,109.2 379.1,115.1 382.3,121.4 385.8,127.9 389.5,134.6 393.5,141.7 397.8,149 402.3,156.5 407.1,164.2 412,172.2 417.2,180.4 422.6,188.8 428.1,197.3 433.7,206.1 439.5,215 445.3,224 451.2,233.3 457,242.6 462.9,252 468.8,261.6 474.6,271.3 480.4,281 486,290.8 491.6,300.7 497,310.6 502.2,320.5 507.3,330.4 512.1,340.4 516.8,350.3 521.2,360.2 525.4,370.1 529.5,380 533.3,389.7 537,399.4 540.5,409 543.9,418.5 547.1,427.9 550.2,437.2 553.2,446.4 556.1,455.4 558.8,464.2 561.5,472.9 564.1,481.3 566.6,489.6 569,497.7 571.4,505.6 573.6,513.3 575.9,520.7 578.1,527.9 580.3,534.9 582.5,541.6 584.7,548 587.1,554.2 589.4,560.1 591.8,565.7 594.3,571 596.7,576.1 599.2,580.8 601.7,585.2 604.1,589.4 606.5,593.2 608.9,596.6 611.1,599.8 613.2,602.7 615.2,605.2 617,607.4 618.6,609.2 620.2,610.7 621.6,611.9 622.9,612.8 624.2,613.3 625.7,613.4Z"/>
<path d="M822.6,307.6 754.8,179.1 356.8,55 356.4,55.5 356.1,56.1 356,57 356.1,58.2 356.3,59.8 356.7,61.6 357.2,63.8 358,66.3 358.9,69.1 359.9,72.2 361.2,75.7 362.7,79.6 364.3,83.7 366.2,88.2 368.2,92.9 370.5,98 373,103.4 375.8,109.1 378.7,115 382,121.3 385.5,127.8 389.2,134.6 393.3,141.6 397.5,148.9 402,156.4 406.8,164.2 411.8,172.2 416.9,180.3 422.3,188.7 427.8,197.3 433.4,206 439.2,215 445,224 450.8,233.3 456.7,242.6 462.6,252.1 468.5,261.6 474.3,271.3 480,281.1 485.7,290.9 491.2,300.8 496.6,310.7 501.8,320.7 506.8,330.7 511.7,340.7 516.3,350.6 520.7,360.6 524.9,370.5 528.9,380.4 532.7,390.3 536.4,400 539.8,409.7 543.2,419.3 546.4,428.8 549.4,438.1 552.4,447.4 555.2,456.4 557.9,465.4 560.5,474.1 563.1,482.7 565.5,491.1 567.9,499.3 570.2,507.4 572.5,515.1 574.7,522.7 576.9,530 579.1,537.1 581.3,543.9 583.5,550.5 585.8,556.8 588.1,562.8 590.4,568.5 592.8,573.9 595.2,579.1 597.6,583.9 600,588.4 602.4,592.7 604.7,596.6 607,600.1 609.1,603.4 611.2,606.3 613.1,608.9 614.8,611.1 616.5,613 618,614.6 619.5,615.8 620.9,616.6 622.5,617.2 624.3,617.3Z"/>
<path d="M822.2,307.8 754.9,179.1 353.5,54.6 353.1,54.8 352.9,55.3 352.8,56.1 352.9,57.2 353.1,58.7 353.6,60.5 354.2,62.7 355,65.2 355.9,68 357.1,71.2 358.4,74.8 360,78.6 361.7,82.8 363.7,87.3 365.8,92.2 368.2,97.3 370.8,102.7 373.7,108.5 376.8,114.5 380.2,120.8 383.8,127.3 387.6,134.2 391.8,141.3 396.2,148.6 400.8,156.2 405.6,164 410.7,172 416,180.2 421.4,188.6 427,197.2 432.8,206 438.6,214.9 444.5,224 450.4,233.3 456.4,242.6 462.3,252.1 468.2,261.7 474.1,271.3 479.9,281.1 485.6,290.9 491.2,300.8 496.6,310.7 501.8,320.7 506.9,330.6 511.8,340.6 516.4,350.6 520.8,360.5 525,370.4 529.1,380.3 532.9,390.1 536.6,399.8 540.1,409.5 543.4,419.1 546.6,428.5 549.7,437.9 552.6,447.1 555.4,456.1 558.1,465.1 560.8,473.8 563.3,482.4 565.8,490.8 568.2,499 570.5,507 572.7,514.8 574.9,522.3 577.1,529.7 579.2,536.7 581.4,543.6 583.7,550.1 585.9,556.4 588.2,562.5 590.6,568.2 593,573.6 595.4,578.8 597.8,583.6 600.2,588.2 602.5,592.4 604.8,596.3 607,599.9 609.1,603.2 611.1,606.1 612.9,608.7 614.6,610.9 616.1,612.8 617.4,614.4 618.6,615.6 619.5,616.5 620.4,617 621.2,617.2Z"/>
<path d="M822.4,307.8 755,179.3 351.2,52.7 350.8,53.2 350.6,53.9 350.5,54.9 350.6,56.1 350.9,57.7 351.4,59.6 352.1,61.8 352.9,64.4 353.9,67.3 355.1,70.5 356.5,74.1 358.1,78 359.9,82.2 362,86.8 364.2,91.6 366.7,96.8 369.4,102.3 372.3,108 375.5,114.1 378.9,120.4 382.6,127.1 386.6,133.9 390.8,141 395.3,148.4 400,156 404.9,163.8 410.1,171.9 415.4,180.1 420.9,188.6 426.6,197.2 432.4,206 438.3,214.9 444.2,224 450.2,233.3 456.2,242.6 462.2,252.1 468.1,261.7 474,271.4 479.9,281.1 485.6,290.9 491.2,300.8 496.6,310.7 501.9,320.6 507,330.6 511.8,340.6 516.5,350.5 520.9,360.4 525.2,370.3 529.2,380.2 533,390 536.7,399.7 540.2,409.4 543.5,418.9 546.7,428.4 549.8,437.7 552.7,446.9 555.5,456 558.2,464.9 560.9,473.7 563.4,482.3 565.8,490.7 568.2,498.9 570.5,506.9 572.8,514.7 574.9,522.3 577.1,529.6 579.3,536.7 581.4,543.6 583.6,550.2 585.9,556.5 588.2,562.5 590.5,568.3 592.9,573.8 595.3,579 597.7,583.8 600.1,588.4 602.4,592.7 604.7,596.6 606.9,600.2 609,603.5 611,606.4 612.9,609 614.6,611.3 616.2,613.2 617.7,614.8 619,616 620.3,616.9 621.7,617.4 623.2,617.6Z"/>
<path d="M822.3,307.5 755,179.3 351.4,53.4 351,53.7 350.8,54.3 350.7,55.2 350.8,56.4 351.1,57.9 351.6,59.7 352.2,61.9 353,64.4 353.9,67.3 355.1,70.5 356.4,74.1 358,77.9 359.7,82.1 361.7,86.7 363.8,91.5 366.2,96.7 368.8,102.1 371.7,107.9 374.8,113.9 378.1,120.2 381.8,126.8 385.7,133.7 389.8,140.8 394.2,148.2 398.8,155.8 403.7,163.6 408.8,171.7 414.1,179.9 419.6,188.4 425.2,197 431,205.9 436.8,214.9 442.8,224 448.7,233.3 454.7,242.7 460.8,252.2 466.7,261.9 472.7,271.6 478.5,281.4 484.3,291.3 489.9,301.2 495.4,311.2 500.7,321.2 505.8,331.2 510.7,341.2 515.4,351.2 519.8,361.2 524.1,371.1 528.1,381.1 532,390.9 535.7,400.7 539.2,410.3 542.5,419.9 545.8,429.4 548.9,438.8 551.8,448 554.7,457.1 557.4,466 560.1,474.7 562.7,483.3 565.1,491.7 567.6,499.9 569.9,507.8 572.2,515.6 574.4,523.1 576.6,530.4 578.8,537.5 581.1,544.3 583.3,550.8 585.6,557.1 587.9,563 590.3,568.7 592.7,574.2 595.1,579.3 597.6,584.1 600,588.6 602.4,592.8 604.7,596.6 606.9,600.2 609.1,603.4 611.1,606.3 613,608.9 614.8,611.1 616.4,613 617.9,614.5 619.4,615.7 620.8,616.6 622.2,617.1 623.9,617.3Z"/>
<path d="M822.2,307.7 754.9,178.7 344.9,51.7 344.6,51.8 344.4,52.2 344.4,53 344.6,54.1 345,55.6 345.5,57.5 346.3,59.7 347.2,62.3 348.3,65.3 349.7,68.6 351.2,72.2 352.9,76.2 354.9,80.5 357,85.1 359.4,90.1 362,95.3 364.9,100.9 368,106.8 371.4,112.9 375,119.4 378.8,126.1 383,133 387.4,140.2 392,147.7 396.9,155.4 402,163.3 407.3,171.4 412.8,179.7 418.5,188.3 424.3,197 430.2,205.8 436.3,214.8 442.4,224 448.5,233.3 454.6,242.7 460.7,252.2 466.8,261.8 472.8,271.6 478.8,281.3 484.6,291.2 490.2,301.1 495.8,311 501.1,321 506.3,330.9 511.2,340.9 515.9,350.9 520.3,360.8 524.6,370.7 528.7,380.6 532.5,390.4 536.2,400.2 539.7,409.8 543.1,419.4 546.3,428.8 549.4,438.2 552.3,447.4 555.1,456.5 557.9,465.4 560.5,474.2 563,482.8 565.5,491.2 567.9,499.4 570.2,507.5 572.4,515.3 574.6,522.9 576.8,530.2 578.9,537.3 581.1,544.2 583.3,550.8 585.5,557.2 587.8,563.3 590.2,569.1 592.5,574.6 594.9,579.8 597.3,584.7 599.6,589.3 602,593.5 604.2,597.5 606.4,601.1 608.5,604.4 610.5,607.4 612.4,610 614.2,612.3 615.8,614.2 617.3,615.8 618.8,617.1 620.3,617.9 621.9,618.5 623.9,618.7Z"/>
<path d="M822.3,308 754.8,178.8 346.9,51.9 346.5,52.1 346.4,52.7 346.3,53.5 346.5,54.7 346.8,56.3 347.3,58.1 348,60.3 348.8,62.9 349.9,65.8 351.1,69.1 352.5,72.7 354.1,76.6 355.9,80.8 357.9,85.4 360.2,90.3 362.6,95.5 365.3,101 368.3,106.9 371.5,113 374.9,119.4 378.7,126 382.6,132.9 386.9,140.1 391.4,147.6 396.1,155.2 401.1,163.1 406.3,171.3 411.7,179.6 417.2,188.1 423,196.8 428.8,205.7 434.8,214.8 440.8,224 446.9,233.3 453,242.8 459.1,252.4 465.2,262 471.2,271.8 477.2,281.7 483,291.6 488.7,301.6 494.3,311.6 499.6,321.6 504.8,331.7 509.7,341.7 514.5,351.8 519,361.8 523.3,371.7 527.3,381.7 531.2,391.5 534.9,401.3 538.5,411 541.9,420.6 545.1,430.1 548.2,439.5 551.2,448.7 554.1,457.8 556.8,466.7 559.5,475.5 562.1,484.1 564.6,492.5 567.1,500.6 569.4,508.6 571.7,516.4 574,523.9 576.2,531.2 578.4,538.2 580.7,545 582.9,551.6 585.2,557.8 587.6,563.8 589.9,569.5 592.3,574.9 594.8,580 597.2,584.8 599.6,589.3 602,593.5 604.3,597.4 606.5,600.9 608.6,604.1 610.6,607 612.5,609.6 614.2,611.8 615.8,613.7 617.2,615.2 618.4,616.4 619.6,617.3 620.7,617.8 621.8,618Z"/>
<path d="M822,308.2 754.8,178.9 347.8,52.6 347.4,52.7 347.3,53.2 347.3,54 347.4,55.2 347.7,56.7 348.2,58.5 348.9,60.7 349.7,63.3 350.7,66.1 351.9,69.4 353.3,72.9 354.9,76.9 356.6,81.1 358.6,85.7 360.8,90.5 363.2,95.7 365.9,101.2 368.8,107 372,113.1 375.4,119.5 379,126.1 383,133 387.1,140.2 391.6,147.6 396.3,155.3 401.2,163.2 406.3,171.3 411.7,179.6 417.2,188.1 422.9,196.8 428.7,205.7 434.6,214.8 440.6,224 446.7,233.3 452.8,242.8 458.8,252.4 464.9,262.1 470.9,271.9 476.8,281.7 482.6,291.7 488.3,301.7 493.8,311.7 499.2,321.8 504.3,331.9 509.3,342 514,352.1 518.4,362.1 522.7,372.1 526.8,382.1 530.6,392 534.3,401.9 537.8,411.6 541.2,421.3 544.4,430.8 547.5,440.3 550.5,449.6 553.3,458.7 556.1,467.7 558.8,476.5 561.3,485.1 563.8,493.6 566.3,501.8 568.6,509.9 570.9,517.7 573.2,525.3 575.4,532.6 577.6,539.7 579.8,546.6 582.1,553.1 584.4,559.5 586.7,565.5 589.1,571.2 591.5,576.7 593.8,581.8 596.2,586.7 598.6,591.2 600.9,595.4 603.2,599.3 605.4,602.9 607.5,606.2 609.5,609.1 611.3,611.7 613,613.9 614.5,615.8 616,617.4 617.3,618.6 618.5,619.5 619.7,620 621,620.1Z"/>
<path d="M822.2,307.9 754.5,178.9 346.6,51.1 346.3,51.5 346.1,52.3 346.1,53.2 346.3,54.5 346.6,56.1 347.1,58 347.8,60.2 348.6,62.8 349.7,65.7 350.9,69 352.2,72.6 353.8,76.5 355.6,80.7 357.6,85.3 359.8,90.2 362.3,95.4 365,100.9 367.9,106.7 371.1,112.8 374.5,119.2 378.2,125.9 382.1,132.8 386.3,140 390.8,147.4 395.5,155.1 400.5,163 405.6,171.2 411,179.5 416.6,188 422.3,196.8 428.1,205.7 434.1,214.7 440.1,223.9 446.2,233.3 452.3,242.8 458.4,252.4 464.4,262.1 470.5,271.9 476.4,281.8 482.2,291.8 487.9,301.8 493.5,311.9 498.9,321.9 504,332 509,342.1 513.7,352.2 518.2,362.3 522.5,372.3 526.6,382.3 530.4,392.2 534.1,402.1 537.7,411.8 541,421.5 544.3,431 547.4,440.4 550.3,449.7 553.2,458.9 556,467.9 558.6,476.7 561.2,485.3 563.7,493.7 566.2,502 568.5,510 570.8,517.8 573.1,525.4 575.3,532.7 577.6,539.8 579.8,546.7 582.1,553.2 584.3,559.5 586.7,565.6 589,571.3 591.4,576.7 593.8,581.9 596.2,586.7 598.6,591.2 601,595.5 603.2,599.4 605.4,602.9 607.6,606.2 609.6,609.1 611.4,611.7 613.2,613.9 614.8,615.8 616.4,617.3 617.9,618.6 619.4,619.4 621,619.9 622.9,620.1Z"/>
<path d="M822.1,308.3 755.3,178.9 346.4,51.5 346.1,51.8 345.9,52.4 346,53.3 346.2,54.5 346.5,56.1 347,58 347.7,60.2 348.6,62.8 349.6,65.7 350.9,69 352.3,72.6 353.9,76.5 355.7,80.8 357.7,85.4 360,90.3 362.4,95.5 365.1,101 368.1,106.8 371.3,112.9 374.7,119.3 378.4,126 382.4,132.9 386.6,140.1 391.1,147.5 395.8,155.2 400.8,163.1 405.9,171.2 411.3,179.5 416.8,188.1 422.5,196.8 428.4,205.7 434.3,214.7 440.3,224 446.4,233.3 452.5,242.8 458.5,252.4 464.6,262.1 470.6,271.9 476.5,281.8 482.3,291.8 488,301.8 493.5,311.8 498.9,321.9 504,332.1 508.9,342.2 513.6,352.3 518.1,362.4 522.3,372.4 526.4,382.5 530.2,392.4 533.9,402.3 537.4,412.1 540.7,421.8 543.9,431.4 546.9,440.9 549.9,450.3 552.7,459.5 555.4,468.6 558,477.5 560.6,486.2 563,494.7 565.4,503.1 567.8,511.2 570,519.1 572.3,526.8 574.5,534.3 576.7,541.5 578.9,548.4 581.1,555.1 583.3,561.5 585.6,567.7 587.9,573.5 590.3,579.1 592.6,584.3 594.9,589.3 597.3,593.9 599.5,598.2 601.7,602.2 603.9,605.8 605.9,609.1 607.8,612.1 609.7,614.8 611.4,617.1 613,619 614.5,620.6 616,621.8 617.6,622.7 619.4,623.3 621.5,623.4Z"/>
<path d="M822.1,307.9 755.1,179.1 347.1,51.6 346.8,52 346.7,52.6 346.7,53.6 346.9,54.8 347.2,56.4 347.7,58.3 348.4,60.5 349.3,63.1 350.3,66 351.5,69.2 352.9,72.8 354.4,76.7 356.2,80.9 358.2,85.5 360.4,90.4 362.8,95.6 365.4,101.1 368.3,106.9 371.5,113 374.9,119.3 378.5,126 382.4,132.9 386.6,140.1 391,147.5 395.7,155.1 400.5,163 405.7,171.2 411,179.5 416.5,188 422.1,196.7 427.9,205.6 433.8,214.7 439.8,223.9 445.8,233.3 451.9,242.8 457.9,252.4 464,262.2 469.9,272 475.9,281.9 481.7,291.9 487.3,302 492.9,312.1 498.2,322.2 503.3,332.4 508.2,342.6 512.9,352.7 517.4,362.9 521.6,373 525.6,383 529.5,393.1 533.1,403 536.6,412.9 539.9,422.6 543.1,432.3 546.1,441.9 549,451.3 551.8,460.5 554.5,469.7 557.2,478.6 559.7,487.4 562.2,496 564.6,504.4 566.9,512.6 569.2,520.5 571.4,528.3 573.6,535.8 575.8,543 578,550 580.3,556.7 582.5,563.2 584.8,569.3 587.1,575.2 589.4,580.8 591.7,586.1 594,591 596.3,595.7 598.5,600 600.7,604 602.8,607.7 604.8,611 606.7,614 608.4,616.7 610,619 611.5,620.9 612.9,622.5 614.2,623.8 615.4,624.7 616.7,625.2 618.2,625.4Z"/>
<path d="M822.2,307.4 754.7,179.3 341.3,49.8 341,50 340.9,50.6 341,51.5 341.3,52.7 341.7,54.3 342.3,56.2 343.1,58.5 344.1,61.2 345.3,64.2 346.7,67.5 348.3,71.2 350,75.2 352,79.5 354.3,84.2 356.7,89.2 359.4,94.5 362.3,100.1 365.4,106 368.9,112.2 372.5,118.7 376.4,125.4 380.6,132.4 385,139.7 389.7,147.2 394.6,154.9 399.7,162.9 405.1,171.1 410.6,179.4 416.3,188 422.2,196.7 428.1,205.7 434.2,214.7 440.3,224 446.5,233.3 452.6,242.8 458.8,252.4 464.9,262.1 470.9,271.9 476.9,281.7 482.7,291.7 488.5,301.6 494,311.7 499.3,321.7 504.5,331.8 509.4,341.9 514.1,352 518.5,362.1 522.8,372.1 526.8,382.1 530.6,392.1 534.3,401.9 537.7,411.8 541,421.5 544.2,431.1 547.2,440.6 550.1,450 552.8,459.3 555.5,468.4 558.1,477.4 560.6,486.2 563,494.8 565.3,503.2 567.6,511.5 569.8,519.5 572,527.3 574.1,534.9 576.2,542.2 578.4,549.3 580.6,556.1 582.8,562.7 585,568.9 587.2,574.9 589.5,580.6 591.7,586 594,591.1 596.2,595.9 598.4,600.3 600.5,604.4 602.5,608.2 604.4,611.6 606.1,614.7 607.8,617.4 609.2,619.8 610.5,621.8 611.7,623.5 612.7,624.7 613.5,625.7 614.2,626.2 614.8,626.4Z"/>
<path d="M822.2,307.8 755,179.1 343.5,49.7 343.3,50.3 343.2,51 343.2,52.1 343.5,53.4 343.9,55 344.4,56.9 345.1,59.2 346,61.8 347.1,64.8 348.4,68.1 349.8,71.7 351.5,75.7 353.3,80 355.4,84.6 357.7,89.5 360.2,94.8 362.9,100.3 365.9,106.2 369.1,112.3 372.6,118.7 376.4,125.4 380.4,132.4 384.6,139.6 389.2,147.1 393.9,154.8 398.9,162.7 404.1,170.9 409.5,179.3 415.1,187.9 420.8,196.6 426.7,205.6 432.7,214.7 438.7,223.9 444.8,233.3 450.9,242.9 457.1,252.5 463.2,262.3 469.2,272.1 475.2,282.1 481,292.1 486.7,302.2 492.3,312.3 497.7,322.5 502.8,332.6 507.8,342.8 512.5,353 516.9,363.2 521.2,373.3 525.2,383.4 529,393.4 532.7,403.4 536.2,413.3 539.5,423 542.7,432.7 545.7,442.3 548.6,451.8 551.4,461.1 554.1,470.2 556.7,479.2 559.3,488 561.7,496.6 564.1,505 566.4,513.3 568.7,521.3 570.9,529 573.2,536.6 575.3,543.9 577.5,550.9 579.8,557.7 582,564.2 584.3,570.4 586.6,576.3 588.9,581.9 591.1,587.2 593.4,592.2 595.7,596.9 597.9,601.3 600,605.3 602,609 603.9,612.4 605.7,615.4 607.4,618.1 608.9,620.4 610.3,622.4 611.4,624 612.5,625.3 613.4,626.2 614.2,626.7 615,626.9Z"/>
<path d="M822.3,307.6 755.1,179 336.2,47.6 336,47.9 335.9,48.6 336,49.5 336.3,50.8 336.8,52.4 337.5,54.4 338.3,56.7 339.4,59.4 340.6,62.4 342.1,65.8 343.7,69.5 345.6,73.6 347.6,78 349.9,82.8 352.5,87.8 355.2,93.2 358.2,98.9 361.5,104.8 365,111.1 368.8,117.7 372.8,124.5 377.1,131.6 381.6,138.9 386.4,146.5 391.4,154.3 396.7,162.3 402.1,170.6 407.8,179 413.6,187.7 419.5,196.5 425.6,205.5 431.8,214.6 438.1,223.9 444.4,233.3 450.6,242.9 456.9,252.5 463.2,262.3 469.3,272.1 475.4,282 481.3,292 487.1,302.1 492.8,312.1 498.2,322.2 503.4,332.3 508.4,342.4 513.2,352.6 517.7,362.6 522,372.7 526,382.7 529.9,392.7 533.6,402.5 537.1,412.4 540.5,422.1 543.6,431.7 546.7,441.2 549.6,450.6 552.4,459.8 555.2,468.9 557.8,477.8 560.3,486.6 562.7,495.2 565.1,503.5 567.4,511.7 569.7,519.7 571.9,527.5 574.1,535 576.2,542.2 578.4,549.3 580.6,556 582.8,562.5 585.1,568.8 587.4,574.7 589.6,580.3 591.9,585.7 594.2,590.7 596.5,595.4 598.7,599.8 600.8,603.9 602.9,607.6 604.8,611 606.6,614 608.4,616.7 609.9,619.1 611.4,621 612.7,622.7 614,623.9 615.2,624.9 616.4,625.4 617.8,625.6Z"/>
<path d="M822.3,308 755.1,179.2 339.9,47.7 339.7,48.4 339.7,49.4 339.8,50.5 340,51.9 340.5,53.6 341.1,55.6 341.8,57.9 342.8,60.6 343.9,63.6 345.2,66.9 346.7,70.6 348.4,74.6 350.3,78.9 352.4,83.6 354.7,88.5 357.3,93.8 360.1,99.4 363.1,105.3 366.4,111.5 369.9,118 373.7,124.7 377.8,131.8 382.1,139 386.7,146.6 391.5,154.3 396.6,162.3 401.9,170.5 407.3,179 413,187.6 418.8,196.4 424.7,205.4 430.8,214.6 436.9,223.9 443.1,233.3 449.3,242.9 455.5,252.6 461.7,262.5 467.8,272.4 473.8,282.4 479.7,292.4 485.5,302.6 491.1,312.7 496.6,322.9 501.8,333.1 506.8,343.4 511.5,353.6 516,363.8 520.3,373.9 524.3,384.1 528.2,394.1 531.9,404.1 535.4,414 538.7,423.9 541.9,433.6 544.9,443.2 547.9,452.6 550.7,461.9 553.4,471.1 556,480.1 558.6,488.9 561.1,497.5 563.5,506 565.8,514.2 568.1,522.2 570.4,530 572.6,537.5 574.8,544.8 577.1,551.8 579.3,558.6 581.5,565.1 583.8,571.3 586.1,577.2 588.4,582.8 590.7,588.1 593,593.1 595.2,597.8 597.4,602.2 599.5,606.2 601.6,609.9 603.5,613.3 605.3,616.3 607,619 608.5,621.3 609.9,623.2 611.2,624.9 612.4,626.1 613.4,627 614.5,627.6 615.7,627.7Z"/>
<path d="M822.3,307.6 754.7,179.2 343.5,49.8 343.3,50.3 343.2,51.1 343.3,52.1 343.5,53.4 344,55 344.5,57 345.3,59.3 346.2,61.9 347.2,64.8 348.5,68.1 349.9,71.7 351.5,75.7 353.4,80 355.4,84.6 357.7,89.5 360.1,94.7 362.8,100.3 365.8,106.1 369,112.2 372.4,118.7 376.1,125.3 380.1,132.3 384.3,139.5 388.7,147 393.5,154.7 398.4,162.7 403.5,170.8 408.9,179.2 414.4,187.8 420.1,196.5 426,205.5 431.9,214.6 437.9,223.9 444,233.3 450.1,242.9 456.2,252.6 462.3,262.4 468.3,272.3 474.2,282.3 480,292.4 485.8,302.5 491.3,312.7 496.7,322.9 501.8,333.1 506.7,343.4 511.4,353.6 515.8,363.9 520,374.1 524.1,384.3 527.9,394.4 531.5,404.5 534.9,414.5 538.2,424.4 541.3,434.2 544.3,443.9 547.2,453.4 549.9,462.9 552.6,472.1 555.2,481.2 557.7,490.2 560.1,498.9 562.5,507.5 564.8,515.8 567.1,524 569.3,531.9 571.5,539.5 573.7,546.9 575.8,554.1 578.1,561 580.3,567.6 582.5,573.9 584.7,580 587,585.7 589.2,591.1 591.4,596.2 593.5,601 595.6,605.5 597.7,609.6 599.6,613.4 601.4,616.8 603.1,619.9 604.6,622.6 606,625 607.2,627 608.2,628.7 609,630 609.7,630.9 610.1,631.4 610.4,631.6Z"/>
<path d="M822.3,308 754.8,178.9 339.2,48.5 339,48.9 338.9,49.6 339.1,50.6 339.3,51.9 339.8,53.5 340.4,55.4 341.1,57.7 342.1,60.4 343.2,63.4 344.4,66.7 345.9,70.3 347.6,74.3 349.5,78.6 351.5,83.3 353.8,88.3 356.4,93.6 359.1,99.1 362.2,105 365.4,111.2 368.9,117.7 372.7,124.5 376.7,131.5 381,138.8 385.6,146.3 390.4,154.1 395.4,162.1 400.7,170.3 406.1,178.8 411.8,187.4 417.6,196.3 423.5,205.3 429.5,214.5 435.7,223.9 441.9,233.4 448.1,243 454.3,252.7 460.5,262.6 466.6,272.6 472.7,282.6 478.6,292.7 484.4,302.9 490.1,313.1 495.5,323.4 500.8,333.7 505.7,343.9 510.5,354.2 515,364.5 519.3,374.7 523.3,384.9 527.2,395 530.9,405 534.4,415 537.7,424.9 540.9,434.6 544,444.3 546.9,453.8 549.7,463.1 552.5,472.3 555.1,481.4 557.7,490.2 560.1,498.9 562.6,507.4 564.9,515.6 567.3,523.6 569.5,531.4 571.8,539 574,546.3 576.2,553.4 578.5,560.1 580.8,566.6 583,572.8 585.3,578.8 587.6,584.4 589.9,589.7 592.2,594.7 594.4,599.4 596.6,603.8 598.7,607.8 600.7,611.5 602.6,614.9 604.4,617.9 606.1,620.6 607.7,622.9 609.1,624.8 610.4,626.5 611.7,627.7 612.9,628.6 614.1,629.1 615.6,629.3Z"/>
<path d="M822.3,307.6 754.8,179.1 335,47.6 334.9,47.8 334.9,48.4 335,49.3 335.4,50.5 335.9,52.1 336.5,54.1 337.4,56.4 338.4,59 339.6,62.1 341,65.4 342.5,69.1 344.3,73.2 346.3,77.6 348.5,82.3 351,87.3 353.7,92.7 356.6,98.4 359.7,104.3 363.2,110.6 366.8,117.1 370.7,124 374.9,131 379.4,138.4 384.1,146 389,153.8 394.2,161.9 399.6,170.2 405.1,178.7 410.9,187.3 416.8,196.2 422.9,205.3 429,214.5 435.2,223.9 441.5,233.4 447.8,243 454.1,252.8 460.4,262.6 466.6,272.6 472.7,282.6 478.6,292.7 484.5,302.9 490.2,313.1 495.7,323.3 500.9,333.6 505.9,343.8 510.7,354.1 515.2,364.3 519.5,374.5 523.6,384.7 527.4,394.8 531.1,404.8 534.6,414.8 537.9,424.7 541.1,434.4 544.2,444.1 547.1,453.6 549.9,462.9 552.6,472.2 555.2,481.2 557.8,490.1 560.2,498.8 562.6,507.3 565,515.6 567.3,523.6 569.5,531.5 571.7,539.1 573.9,546.4 576.2,553.5 578.4,560.4 580.6,566.9 582.9,573.2 585.1,579.2 587.4,584.9 589.6,590.2 591.9,595.3 594.1,600 596.2,604.5 598.2,608.5 600.2,612.3 602.1,615.7 603.8,618.8 605.4,621.5 606.8,623.8 608.1,625.8 609.2,627.5 610.2,628.7 611,629.7 611.7,630.2 612.3,630.4Z"/>
<path d="M822.4,308 754.8,179.1 338.9,48.9 338.7,49.2 338.7,49.8 338.8,50.7 339.1,51.9 339.6,53.5 340.2,55.4 341,57.7 341.9,60.4 343.1,63.3 344.4,66.7 345.9,70.3 347.6,74.3 349.4,78.6 351.6,83.3 353.9,88.3 356.4,93.6 359.2,99.2 362.2,105.1 365.5,111.3 369,117.7 372.8,124.5 376.8,131.5 381.1,138.8 385.7,146.3 390.5,154.1 395.5,162.1 400.7,170.4 406.2,178.8 411.8,187.5 417.6,196.3 423.5,205.3 429.5,214.5 435.6,223.9 441.8,233.4 448,243 454.2,252.8 460.4,262.6 466.5,272.6 472.5,282.6 478.4,292.8 484.2,303 489.8,313.2 495.2,323.5 500.5,333.8 505.4,344.1 510.1,354.4 514.6,364.7 518.9,375 522.9,385.2 526.7,395.4 530.3,405.5 533.8,415.6 537.1,425.5 540.2,435.3 543.3,445.1 546.1,454.7 548.9,464.1 551.6,473.4 554.2,482.6 556.7,491.5 559.2,500.3 561.5,508.9 563.9,517.3 566.2,525.4 568.4,533.3 570.6,541 572.8,548.5 575,555.6 577.3,562.5 579.5,569.2 581.7,575.5 583.9,581.6 586.2,587.3 588.4,592.7 590.6,597.8 592.7,602.6 594.8,607.1 596.8,611.2 598.7,615 600.6,618.5 602.3,621.6 603.8,624.3 605.3,626.7 606.6,628.7 607.7,630.4 608.8,631.6 609.8,632.6 610.8,633.1 611.8,633.3Z"/>
<path d="M822.2,307.9 754.9,179.1 330.8,45.7 330.7,46 330.7,46.6 330.9,47.6 331.3,48.9 331.9,50.5 332.6,52.5 333.5,54.9 334.6,57.6 335.9,60.7 337.3,64.1 339,67.9 340.9,72 343,76.4 345.3,81.2 347.8,86.3 350.6,91.7 353.6,97.5 356.9,103.5 360.4,109.8 364.2,116.4 368.3,123.3 372.6,130.5 377.1,137.9 382,145.5 387,153.4 392.3,161.5 397.8,169.9 403.5,178.4 409.3,187.2 415.3,196.1 421.5,205.2 427.7,214.4 434.1,223.8 440.4,233.4 446.8,243.1 453.2,252.8 459.5,262.7 465.8,272.7 471.9,282.8 478,292.9 483.9,303.1 489.6,313.3 495.1,323.5 500.4,333.8 505.5,344.1 510.2,354.4 514.8,364.6 519.1,374.8 523.2,385 527,395.1 530.7,405.2 534.2,415.1 537.6,425 540.7,434.8 543.8,444.5 546.7,454 549.5,463.4 552.2,472.6 554.8,481.7 557.4,490.6 559.8,499.3 562.2,507.9 564.6,516.2 566.9,524.3 569.1,532.2 571.3,539.8 573.5,547.2 575.7,554.4 577.9,561.2 580.2,567.8 582.4,574.1 584.6,580.2 586.9,585.9 589.1,591.3 591.3,596.4 593.5,601.2 595.6,605.7 597.6,609.8 599.5,613.6 601.4,617 603.1,620.1 604.7,622.8 606.1,625.2 607.5,627.2 608.6,628.9 609.7,630.2 610.7,631.1 611.7,631.7 612.8,631.8Z"/>
<path d="M822.1,308.1 754.9,179.1 331.9,47.4 331.8,47.3 331.9,47.7 332,48.4 332.4,49.6 332.9,51.1 333.6,53 334.4,55.3 335.4,58 336.6,61 337.9,64.4 339.5,68.1 341.2,72.1 343.2,76.5 345.4,81.3 347.8,86.3 350.4,91.7 353.3,97.4 356.5,103.4 359.8,109.6 363.5,116.2 367.4,123.1 371.6,130.2 376,137.6 380.7,145.2 385.6,153.1 390.8,161.3 396.2,169.6 401.8,178.2 407.6,186.9 413.5,195.9 419.6,205 425.8,214.3 432.1,223.8 438.4,233.4 444.8,243.1 451.2,253 457.6,263 463.9,273 470.1,283.2 476.2,293.4 482.1,303.6 487.9,313.9 493.5,324.3 498.8,334.6 503.9,345 508.7,355.3 513.3,365.6 517.6,375.9 521.8,386.1 525.7,396.3 529.4,406.4 533,416.4 536.3,426.3 539.6,436.1 542.7,445.7 545.7,455.2 548.5,464.6 551.3,473.8 554,482.8 556.6,491.7 559.1,500.3 561.6,508.8 564,517 566.4,525 568.7,532.8 571,540.3 573.3,547.6 575.6,554.6 577.9,561.4 580.2,567.8 582.5,574 584.8,579.9 587.1,585.5 589.4,590.8 591.7,595.7 593.9,600.4 596.1,604.7 598.2,608.7 600.3,612.4 602.2,615.7 604,618.7 605.7,621.3 607.3,623.6 608.8,625.6 610.2,627.2 611.6,628.4 613,629.3 614.5,629.8 616.3,630Z"/>
<path d="M822.1,308 754.9,178.9 331.6,46.5 331.5,46.7 331.5,47.2 331.7,48.1 332.1,49.3 332.6,50.9 333.3,52.9 334.2,55.2 335.2,57.9 336.4,60.9 337.8,64.3 339.4,68 341.2,72.1 343.2,76.5 345.4,81.3 347.8,86.3 350.5,91.7 353.4,97.4 356.6,103.4 360,109.7 363.7,116.3 367.6,123.1 371.8,130.3 376.3,137.7 381,145.3 386,153.2 391.2,161.3 396.6,169.7 402.2,178.2 408,187 413.9,195.9 420,205.1 426.3,214.4 432.5,223.8 438.9,233.4 445.3,243.1 451.6,253 458,262.9 464.2,273 470.4,283.1 476.5,293.3 482.5,303.5 488.2,313.8 493.8,324.1 499.1,334.5 504.1,344.8 509,355.2 513.5,365.5 517.8,375.7 521.9,386 525.8,396.1 529.6,406.2 533.1,416.3 536.4,426.2 539.6,436 542.7,445.7 545.7,455.2 548.5,464.6 551.3,473.9 553.9,482.9 556.5,491.8 559,500.5 561.5,509 563.8,517.3 566.2,525.4 568.5,533.2 570.7,540.8 573,548.1 575.3,555.2 577.5,562 579.8,568.6 582.1,574.8 584.3,580.8 586.6,586.4 588.9,591.8 591.1,596.8 593.3,601.5 595.5,605.9 597.5,609.9 599.5,613.6 601.4,617 603.1,620.1 604.8,622.7 606.3,625.1 607.7,627.1 608.9,628.7 610.1,629.9 611.2,630.8 612.4,631.4 613.6,631.6Z"/>
<path d="M822.2,307.8 755,178.9 331,46 330.9,46.2 331,46.8 331.2,47.8 331.6,49 332.1,50.7 332.8,52.6 333.7,55 334.7,57.7 335.9,60.7 337.3,64.1 338.9,67.9 340.7,71.9 342.7,76.4 344.9,81.1 347.4,86.2 350.1,91.6 353,97.3 356.1,103.3 359.6,109.6 363.2,116.2 367.2,123 371.4,130.2 375.8,137.6 380.5,145.2 385.5,153.1 390.7,161.2 396.1,169.6 401.7,178.2 407.5,186.9 413.4,195.9 419.5,205 425.7,214.3 432,223.8 438.3,233.4 444.7,243.1 451.1,253 457.4,263 463.7,273 469.9,283.2 476,293.4 481.9,303.7 487.6,314 493.2,324.4 498.5,334.8 503.6,345.1 508.4,355.5 512.9,365.9 517.2,376.2 521.3,386.5 525.2,396.7 528.9,406.9 532.4,416.9 535.7,426.9 538.9,436.8 542,446.5 544.9,456.1 547.7,465.6 550.4,474.9 553.1,484.1 555.6,493 558.1,501.8 560.5,510.4 562.9,518.8 565.3,526.9 567.5,534.8 569.8,542.5 572,549.9 574.3,557 576.5,563.9 578.8,570.5 581,576.8 583.3,582.9 585.5,588.6 587.8,594 589.9,599.1 592.1,603.9 594.2,608.3 596.2,612.4 598.1,616.2 599.8,619.6 601.5,622.7 603,625.4 604.3,627.8 605.5,629.8 606.5,631.4 607.3,632.7 608,633.6 608.4,634.2 608.7,634.3Z"/>
<path d="M822.4,307.7 754.7,179 331.3,46.5 331.3,46.6 331.3,47.2 331.6,48 332,49.3 332.5,50.9 333.2,52.9 334.1,55.2 335.2,57.9 336.4,60.9 337.8,64.3 339.4,68.1 341.3,72.1 343.3,76.6 345.5,81.3 348,86.4 350.7,91.8 353.6,97.5 356.8,103.5 360.3,109.8 363.9,116.3 367.9,123.2 372.1,130.3 376.6,137.7 381.3,145.4 386.2,153.3 391.4,161.4 396.8,169.7 402.4,178.3 408.2,187 414.2,196 420.2,205.1 426.4,214.4 432.7,223.8 439,233.4 445.3,243.1 451.7,253 458,262.9 464.2,273 470.4,283.1 476.4,293.3 482.3,303.6 488,313.9 493.5,324.2 498.8,334.6 503.8,345 508.6,355.4 513.1,365.7 517.4,376.1 521.4,386.4 525.3,396.6 528.9,406.8 532.4,416.9 535.7,426.9 538.8,436.8 541.8,446.6 544.7,456.3 547.5,465.8 550.2,475.2 552.8,484.4 555.3,493.5 557.7,502.3 560.1,511 562.5,519.5 564.8,527.7 567,535.7 569.2,543.5 571.5,551 573.7,558.2 575.9,565.2 578.1,571.9 580.3,578.3 582.5,584.5 584.7,590.3 586.9,595.8 589,601 591.1,605.8 593.1,610.4 595,614.5 596.9,618.4 598.6,621.9 600.2,625 601.7,627.8 603,630.2 604.2,632.3 605.3,633.9 606.3,635.3 607.1,636.2 607.9,636.8 608.6,636.9Z"/>
<path d="M822.2,307.9 754.9,178.9 330.4,46.4 330.4,46.4 330.5,46.9 330.7,47.8 331.1,49 331.7,50.6 332.4,52.6 333.3,54.9 334.4,57.6 335.7,60.7 337.1,64.1 338.7,67.8 340.6,71.9 342.6,76.3 344.9,81.1 347.3,86.2 350,91.6 353,97.3 356.2,103.3 359.6,109.6 363.3,116.2 367.3,123.1 371.5,130.2 376,137.6 380.7,145.2 385.7,153.1 390.8,161.3 396.3,169.6 401.9,178.2 407.7,186.9 413.6,195.9 419.7,205 425.9,214.3 432.1,223.8 438.5,233.4 444.8,243.1 451.1,253 457.4,263 463.7,273 469.9,283.2 475.9,293.4 481.8,303.7 487.5,314.1 493,324.5 498.3,334.9 503.3,345.3 508.1,355.7 512.6,366.1 516.9,376.5 520.9,386.8 524.7,397.1 528.4,407.3 531.8,417.5 535.1,427.5 538.2,437.5 541.2,447.4 544.1,457.1 546.8,466.7 549.5,476.1 552.1,485.4 554.6,494.5 557,503.4 559.4,512.1 561.7,520.6 564,528.9 566.2,537 568.5,544.8 570.7,552.4 572.9,559.7 575.1,566.8 577.3,573.5 579.5,580 581.7,586.2 583.8,592 586,597.6 588.1,602.8 590.1,607.8 592.1,612.3 594,616.6 595.8,620.4 597.5,624 599.1,627.2 600.7,630 602.1,632.4 603.4,634.5 604.6,636.2 605.9,637.5 607.1,638.5 608.6,639 610.3,639.2Z"/>
<path d="M822.1,307.5 754.9,178.8 326.5,44 326.4,44.3 326.6,45 326.8,46 327.2,47.3 327.8,49 328.6,51 329.5,53.4 330.5,56.1 331.8,59.2 333.2,62.6 334.9,66.4 336.7,70.6 338.8,75 341.1,79.8 343.6,84.9 346.3,90.4 349.3,96.1 352.5,102.2 356,108.6 359.7,115.2 363.8,122.1 368,129.3 372.6,136.8 377.3,144.5 382.4,152.5 387.6,160.7 393.1,169.1 398.8,177.8 404.7,186.6 410.8,195.6 416.9,204.8 423.2,214.2 429.6,223.7 436.1,233.4 442.5,243.2 449,253.2 455.4,263.2 461.8,273.3 468.1,283.6 474.3,293.9 480.3,304.2 486.1,314.6 491.8,325 497.2,335.4 502.3,345.9 507.1,356.3 511.7,366.7 516.1,377 520.2,387.4 524.1,397.6 527.8,407.8 531.4,417.9 534.7,427.9 538,437.8 541,447.5 544,457.2 546.9,466.7 549.6,476 552.3,485.1 554.9,494.1 557.4,502.8 559.9,511.4 562.3,519.8 564.6,527.9 567,535.8 569.3,543.4 571.5,550.8 573.8,557.9 576.1,564.8 578.4,571.4 580.6,577.7 582.9,583.7 585.2,589.3 587.4,594.7 589.6,599.8 591.8,604.5 593.9,608.9 595.9,613 597.9,616.8 599.7,620.2 601.5,623.2 603.1,625.9 604.7,628.3 606.1,630.3 607.6,631.9 609,633.2 610.5,634.1 612.2,634.6 614.4,634.8Z"/>
<path d="M822.7,308 754.4,178.8 329.1,46 329,46 329.2,46.5 329.4,47.3 329.8,48.5 330.4,50.1 331.1,52.1 331.9,54.4 333,57.1 334.2,60.1 335.5,63.5 337.1,67.2 338.9,71.3 340.8,75.7 343,80.5 345.4,85.5 348.1,90.9 350.9,96.6 354.1,102.7 357.4,109 361.1,115.6 365,122.4 369.1,129.6 373.5,137 378.2,144.7 383.1,152.6 388.3,160.8 393.7,169.2 399.2,177.8 405,186.6 411,195.6 417.1,204.8 423.3,214.2 429.6,223.7 435.9,233.4 442.3,243.3 448.7,253.2 455.1,263.3 461.4,273.4 467.7,283.7 473.8,294 479.8,304.4 485.6,314.8 491.2,325.2 496.5,335.7 501.6,346.2 506.5,356.7 511,367.2 515.4,377.6 519.4,388 523.3,398.3 527,408.6 530.5,418.7 533.9,428.8 537.1,438.8 540.1,448.6 543.1,458.3 545.9,467.8 548.6,477.2 551.3,486.5 553.9,495.5 556.4,504.3 558.8,513 561.2,521.4 563.6,529.6 565.9,537.5 568.2,545.2 570.5,552.7 572.8,559.9 575.1,566.8 577.3,573.4 579.6,579.8 581.8,585.8 584.1,591.5 586.3,597 588.5,602.1 590.6,606.8 592.6,611.3 594.6,615.4 596.5,619.2 598.3,622.6 600,625.7 601.5,628.4 602.9,630.7 604.3,632.8 605.5,634.4 606.7,635.7 607.9,636.6 609.1,637.1 610.5,637.3Z"/>
<path d="M822.3,307.7 754.9,178.8 324.2,42.7 324.2,43.2 324.3,44 324.7,45 325.1,46.4 325.7,48.1 326.5,50.2 327.4,52.6 328.6,55.4 329.9,58.5 331.4,62 333.1,65.8 335,69.9 337.1,74.4 339.4,79.3 342,84.4 344.8,89.9 347.8,95.7 351.1,101.8 354.7,108.2 358.5,114.8 362.5,121.8 366.9,129 371.4,136.5 376.3,144.3 381.4,152.3 386.7,160.5 392.2,169 398,177.6 403.9,186.5 410,195.5 416.2,204.8 422.5,214.2 429,223.7 435.4,233.4 441.9,243.3 448.4,253.2 454.9,263.3 461.3,273.4 467.6,283.7 473.8,294 479.8,304.3 485.7,314.7 491.3,325.2 496.7,335.6 501.8,346.1 506.7,356.6 511.3,367 515.6,377.4 519.7,387.7 523.6,398 527.3,408.3 530.9,418.4 534.2,428.5 537.4,438.4 540.5,448.2 543.4,457.9 546.2,467.4 548.9,476.8 551.6,486 554.2,495.1 556.7,503.9 559.1,512.6 561.5,521 563.8,529.2 566.1,537.2 568.4,544.9 570.7,552.4 572.9,559.6 575.2,566.5 577.4,573.2 579.7,579.6 581.9,585.6 584.1,591.4 586.3,596.9 588.5,602 590.6,606.8 592.6,611.3 594.6,615.5 596.4,619.3 598.2,622.7 599.9,625.8 601.4,628.6 602.8,631 604.1,633 605.3,634.7 606.5,636 607.7,636.9 608.9,637.4 610.4,637.6Z"/>
<path d="M822.3,308.1 755.1,178.8 326.3,44.3 326.3,44.6 326.5,45.2 326.8,46.1 327.2,47.4 327.8,49 328.5,51 329.4,53.4 330.5,56.1 331.7,59.2 333.1,62.6 334.7,66.4 336.5,70.5 338.5,74.9 340.7,79.7 343.2,84.8 345.8,90.2 348.7,96 351.9,102 355.3,108.4 359,115 362.9,121.9 367.1,129.1 371.5,136.6 376.2,144.3 381.2,152.3 386.4,160.5 391.8,168.9 397.4,177.6 403.3,186.4 409.2,195.5 415.4,204.7 421.6,214.1 428,223.7 434.4,233.5 440.8,243.3 447.3,253.3 453.7,263.4 460.1,273.6 466.4,283.9 472.6,294.3 478.6,304.7 484.4,315.2 490.1,325.7 495.5,336.3 500.6,346.8 505.4,357.3 510,367.9 514.3,378.3 518.4,388.8 522.3,399.2 526,409.5 529.5,419.7 532.9,429.8 536.1,439.8 539.1,449.7 542.1,459.5 544.9,469.1 547.6,478.5 550.3,487.8 552.9,496.9 555.4,505.8 557.8,514.4 560.3,522.9 562.6,531.1 565,539.1 567.3,546.9 569.6,554.4 571.9,561.6 574.1,568.6 576.4,575.2 578.7,581.6 580.9,587.7 583.1,593.4 585.3,598.9 587.5,604 589.5,608.8 591.6,613.3 593.5,617.4 595.3,621.2 597.1,624.7 598.7,627.8 600.2,630.5 601.5,632.9 602.8,634.9 603.9,636.6 604.9,637.8 605.9,638.8 606.8,639.3 607.9,639.5Z"/>
<path d="M822.3,307.7 755,178.8 321.9,42.3 322,42.6 322.2,43.3 322.5,44.3 323,45.7 323.6,47.4 324.5,49.5 325.5,51.9 326.6,54.7 328,57.8 329.5,61.3 331.3,65.2 333.2,69.3 335.4,73.9 337.8,78.7 340.4,83.9 343.3,89.4 346.4,95.2 349.7,101.4 353.4,107.8 357.2,114.5 361.4,121.5 365.7,128.8 370.4,136.3 375.3,144.1 380.4,152.1 385.8,160.3 391.4,168.8 397.2,177.5 403.1,186.4 409.3,195.5 415.5,204.7 421.9,214.2 428.4,223.7 434.9,233.4 441.4,243.3 447.9,253.3 454.4,263.3 460.8,273.5 467.2,283.8 473.4,294.1 479.4,304.5 485.3,314.9 490.9,325.4 496.3,335.9 501.4,346.3 506.2,356.8 510.8,367.3 515.2,377.7 519.3,388.1 523.1,398.5 526.8,408.7 530.3,418.9 533.6,429 536.8,439 539.8,448.9 542.7,458.7 545.5,468.3 548.2,477.7 550.8,487 553.4,496.2 555.8,505.1 558.3,513.8 560.6,522.3 562.9,530.6 565.2,538.7 567.5,546.5 569.7,554.1 572,561.4 574.2,568.5 576.4,575.2 578.6,581.7 580.8,587.9 583,593.7 585.1,599.3 587.2,604.5 589.3,609.4 591.2,614 593.1,618.2 594.9,622.1 596.6,625.6 598.2,628.8 599.7,631.6 601.1,634 602.4,636.1 603.7,637.8 604.9,639.1 606.2,640 607.7,640.6 609.5,640.8Z"/>
<path d="M822.2,307.6 754.9,179 326,44.8 326,44.9 326.2,45.3 326.5,46.2 327,47.4 327.6,49 328.3,51 329.2,53.4 330.3,56.1 331.5,59.1 332.9,62.6 334.5,66.3 336.3,70.4 338.3,74.9 340.5,79.6 343,84.7 345.6,90.2 348.5,95.9 351.7,102 355.1,108.3 358.8,114.9 362.7,121.9 366.9,129 371.3,136.5 376,144.2 381,152.2 386.1,160.4 391.5,168.9 397.2,177.5 403,186.4 408.9,195.4 415.1,204.7 421.3,214.1 427.6,223.7 434,233.5 440.5,243.3 446.9,253.3 453.3,263.5 459.7,273.7 466,284 472.2,294.4 478.2,304.9 484,315.4 489.6,325.9 495,336.5 500.1,347.1 504.9,357.6 509.5,368.2 513.8,378.7 517.9,389.2 521.8,399.6 525.4,410 528.9,420.3 532.2,430.5 535.4,440.5 538.4,450.5 541.3,460.3 544.2,470 546.9,479.5 549.5,488.8 552,498 554.5,507 557,515.7 559.4,524.3 561.8,532.6 564.1,540.7 566.4,548.5 568.7,556.1 570.9,563.4 573.2,570.4 575.4,577.1 577.7,583.6 579.9,589.7 582.1,595.6 584.2,601.1 586.3,606.3 588.3,611.2 590.3,615.7 592.1,619.9 593.9,623.7 595.6,627.2 597.1,630.4 598.5,633.1 599.7,635.5 600.8,637.6 601.7,639.3 602.5,640.6 603.2,641.5 603.7,642.1 604.1,642.3Z"/>
<path d="M822.4,307.9 754.8,179.1 322.3,43.1 322.4,43.3 322.6,43.8 322.9,44.7 323.4,46 324.1,47.7 324.9,49.7 325.8,52.1 326.9,54.8 328.2,57.9 329.7,61.4 331.3,65.2 333.2,69.3 335.2,73.8 337.5,78.6 340,83.8 342.8,89.3 345.7,95.1 349,101.1 352.5,107.5 356.2,114.2 360.2,121.2 364.5,128.5 369,136 373.8,143.8 378.8,151.8 384.1,160 389.6,168.5 395.3,177.2 401.2,186.2 407.3,195.3 413.5,204.6 419.8,214.1 426.2,223.7 432.7,233.5 439.2,243.4 445.8,253.4 452.3,263.6 458.7,273.9 465.1,284.2 471.3,294.6 477.4,305.1 483.3,315.6 489,326.2 494.4,336.8 499.5,347.4 504.4,358 509,368.5 513.4,379.1 517.5,389.6 521.4,400 525.1,410.3 528.6,420.6 531.9,430.8 535.1,440.8 538.2,450.8 541.1,460.6 543.9,470.3 546.7,479.7 549.3,489.1 551.9,498.2 554.4,507.2 556.9,515.9 559.3,524.4 561.7,532.7 564,540.8 566.3,548.6 568.6,556.1 570.9,563.4 573.2,570.4 575.5,577.1 577.7,583.5 579.9,589.7 582.1,595.5 584.3,601 586.4,606.1 588.4,611 590.4,615.5 592.3,619.7 594.1,623.5 595.8,627 597.4,630.1 598.8,632.9 600.1,635.3 601.4,637.3 602.5,639 603.5,640.3 604.5,641.2 605.5,641.8 606.7,641.9Z"/>
<path d="M821.8,307.9 754.9,178.6 332.6,46.3 332.5,46.6 332.6,47.3 332.8,48.3 333.1,49.6 333.6,51.2 334.3,53.2 335.1,55.5 336.1,58.2 337.3,61.2 338.6,64.6 340.2,68.3 341.9,72.4 343.8,76.7 346,81.5 348.4,86.5 351,91.8 353.8,97.5 356.9,103.5 360.2,109.8 363.8,116.3 367.7,123.1 371.8,130.3 376.1,137.6 380.8,145.3 385.7,153.1 390.8,161.3 396.1,169.6 401.6,178.2 407.4,186.9 413.3,195.9 419.3,205 425.4,214.3 431.7,223.8 438,233.4 444.3,243.2 450.6,253 457,263 463.2,273.1 469.4,283.3 475.5,293.5 481.4,303.9 487.1,314.2 492.7,324.6 498,335 503,345.4 507.8,355.9 512.4,366.3 516.7,376.6 520.8,386.9 524.6,397.2 528.3,407.4 531.8,417.5 535.1,427.5 538.3,437.4 541.4,447.2 544.3,456.8 547.1,466.3 549.9,475.6 552.5,484.8 555.1,493.8 557.6,502.6 560,511.2 562.4,519.5 564.8,527.7 567.1,535.6 569.3,543.3 571.6,550.7 573.9,557.8 576.1,564.7 578.4,571.3 580.7,577.6 582.9,583.6 585.2,589.3 587.4,594.7 589.6,599.8 591.7,604.5 593.8,609 595.8,613.1 597.8,616.8 599.6,620.2 601.3,623.3 602.8,626 604.3,628.4 605.6,630.3 606.8,632 607.9,633.3 608.9,634.2 609.9,634.7 611,634.9Z"/>
<path d="M822.5,307.7 754.9,178.7 330.9,45.7 330.8,46 330.9,46.7 331.1,47.6 331.5,48.9 332,50.6 332.7,52.6 333.6,55 334.7,57.7 336,60.7 337.5,64.2 339.1,67.9 341,72 343.1,76.5 345.4,81.3 347.9,86.4 350.7,91.8 353.7,97.5 357,103.5 360.5,109.8 364.3,116.4 368.3,123.3 372.6,130.5 377.1,137.9 381.9,145.5 386.9,153.4 392.2,161.5 397.7,169.9 403.4,178.4 409.2,187.1 415.2,196.1 421.3,205.2 427.6,214.4 433.9,223.8 440.2,233.4 446.6,243.1 452.9,252.9 459.3,262.8 465.5,272.7 471.7,282.8 477.7,293 483.6,303.2 489.3,313.4 494.8,323.7 500.1,334 505.1,344.3 509.9,354.6 514.4,364.8 518.7,375.1 522.8,385.3 526.7,395.5 530.3,405.5 533.8,415.5 537.1,425.5 540.3,435.3 543.3,445 546.2,454.6 549,464 551.7,473.3 554.3,482.4 556.8,491.4 559.3,500.1 561.7,508.7 564,517.1 566.3,525.2 568.5,533.2 570.7,540.8 572.9,548.3 575.1,555.5 577.3,562.4 579.5,569 581.8,575.4 584,581.5 586.2,587.2 588.4,592.7 590.6,597.8 592.7,602.6 594.8,607.1 596.8,611.3 598.7,615.1 600.5,618.6 602.2,621.7 603.8,624.4 605.2,626.8 606.6,628.9 607.8,630.5 608.9,631.9 610.1,632.8 611.2,633.3 612.5,633.5Z"/>
<path d="M822.2,307.7 754.9,179.2 371.8,60.6 371.9,61.3 372.1,62.2 372.4,63.3 372.8,64.6 373.4,66.3 374.1,68.2 374.9,70.4 375.9,72.9 377,75.7 378.3,78.9 379.7,82.3 381.3,86 383.1,90.1 385,94.4 387.1,99 389.4,104 391.9,109.1 394.5,114.6 397.5,120.4 400.6,126.4 404,132.6 407.6,139.1 411.5,145.9 415.6,152.8 419.9,160 424.4,167.4 429.2,175 434.1,182.8 439.2,190.8 444.4,198.9 449.7,207.3 455.1,215.7 460.5,224.3 466,233.1 471.4,241.9 476.9,250.9 482.3,260 487.6,269.1 492.9,278.4 498.1,287.7 503.2,297 508.2,306.4 513.1,315.8 517.8,325.3 522.4,334.7 526.8,344.2 531,353.6 535.1,363 539,372.3 542.8,381.6 546.4,390.9 549.8,400 553.2,409.1 556.3,418.1 559.4,426.9 562.3,435.7 565.1,444.3 567.8,452.7 570.4,461.1 572.8,469.2 575.2,477.2 577.5,485 579.7,492.6 581.8,500 583.9,507.2 585.9,514.1 587.9,520.9 590,527.4 592.2,533.6 594.4,539.6 596.8,545.4 599.2,550.8 601.7,556 604.3,561 606.9,565.6 609.6,569.9 612.2,573.9 614.8,577.7 617.4,581.1 619.9,584.2 622.2,587 624.4,589.5 626.4,591.6 628.3,593.4 629.9,594.9 631.4,596.1 632.9,596.9 634.2,597.4 635.7,597.6Z"/>
<path d="M822.5,307.9 755.2,178.9 369.6,60.5 369.7,61 369.9,61.7 370.2,62.7 370.7,64 371.2,65.6 371.9,67.5 372.8,69.6 373.8,72.2 374.9,75 376.2,78.1 377.6,81.6 379.2,85.3 381,89.4 382.9,93.7 385,98.4 387.3,103.3 389.9,108.5 392.6,114 395.5,119.8 398.7,125.8 402.1,132.1 405.7,138.7 409.6,145.4 413.8,152.4 418.1,159.7 422.7,167.1 427.5,174.7 432.4,182.6 437.6,190.6 442.8,198.8 448.2,207.1 453.6,215.6 459.1,224.3 464.6,233.1 470.1,242 475.6,251 481,260.1 486.4,269.3 491.7,278.6 497,288 502.1,297.4 507.1,306.8 512,316.3 516.8,325.8 521.4,335.3 525.9,344.7 530.1,354.2 534.2,363.7 538.1,373.1 541.9,382.4 545.5,391.7 549,400.9 552.3,410 555.4,419 558.5,427.9 561.4,436.7 564.2,445.4 566.9,453.9 569.5,462.2 572,470.4 574.3,478.4 576.6,486.3 578.9,493.9 581,501.4 583,508.6 585.1,515.6 587.1,522.4 589.2,528.9 591.4,535.2 593.6,541.2 596,547 598.4,552.5 600.9,557.7 603.4,562.6 606,567.3 608.7,571.6 611.3,575.7 613.9,579.4 616.4,582.9 618.8,586 621.1,588.8 623.2,591.3 625.2,593.5 627,595.3 628.6,596.8 630,598 631.3,598.8 632.4,599.3 633.6,599.5Z"/>
<path d="M822.6,307.7 754.7,179.1 364.4,57.8 364.5,58.5 364.6,59.3 365,60.5 365.4,61.8 366,63.5 366.7,65.4 367.6,67.6 368.6,70.2 369.7,73.1 371,76.2 372.5,79.7 374.1,83.5 375.9,87.6 377.9,92.1 380.1,96.8 382.4,101.8 385,107.1 387.8,112.6 390.8,118.5 394,124.6 397.5,130.9 401.2,137.5 405.2,144.4 409.4,151.5 413.9,158.8 418.5,166.3 423.4,174.1 428.4,182 433.6,190.1 439,198.4 444.4,206.9 450,215.5 455.5,224.2 461.2,233.1 466.8,242.1 472.4,251.3 477.9,260.5 483.4,269.8 488.9,279.2 494.2,288.7 499.5,298.2 504.6,307.7 509.6,317.3 514.4,326.9 519.1,336.5 523.6,346.1 527.9,355.7 532,365.3 535.9,374.8 539.7,384.3 543.3,393.7 546.8,403 550.1,412.2 553.3,421.3 556.3,430.3 559.2,439.2 562.1,448 564.7,456.6 567.3,465.1 569.8,473.4 572.2,481.5 574.5,489.4 576.8,497.2 578.9,504.7 581,512 583.1,519.1 585.2,525.9 587.3,532.5 589.4,538.9 591.7,545 594,550.9 596.4,556.4 598.9,561.7 601.4,566.7 604,571.4 606.5,575.8 609.1,579.9 611.6,583.7 614.1,587.2 616.4,590.4 618.7,593.2 620.8,595.7 622.7,597.9 624.5,599.8 626.2,601.3 627.7,602.5 629.2,603.3 630.8,603.8 632.5,604Z"/>
<path d="M822.6,307.7 755,178.8 318.6,41.7 318.7,41.8 318.9,42.4 319.3,43.3 319.8,44.6 320.4,46.3 321.3,48.3 322.2,50.7 323.4,53.5 324.7,56.6 326.2,60.1 327.9,64 329.9,68.2 332,72.7 334.3,77.6 336.9,82.8 339.7,88.3 342.8,94.2 346.1,100.3 349.7,106.8 353.5,113.5 357.6,120.5 362,127.8 366.6,135.4 371.5,143.3 376.6,151.3 382,159.7 387.6,168.2 393.4,177 399.4,185.9 405.5,195.1 411.8,204.5 418.2,214 424.7,223.7 431.3,233.5 437.9,243.5 444.5,253.5 451.1,263.7 457.6,274 464,284.4 470.3,294.9 476.5,305.4 482.4,316 488.2,326.5 493.6,337.2 498.8,347.8 503.7,358.4 508.3,369 512.7,379.5 516.8,390.1 520.7,400.5 524.5,410.9 528,421.2 531.3,431.4 534.5,441.5 537.6,451.5 540.5,461.3 543.3,471 546.1,480.5 548.7,489.8 551.3,499 553.8,508 556.3,516.7 558.7,525.3 561.1,533.6 563.5,541.7 565.8,549.5 568.1,557.1 570.4,564.4 572.7,571.4 574.9,578.2 577.2,584.6 579.4,590.8 581.5,596.6 583.7,602.2 585.8,607.4 587.8,612.2 589.7,616.8 591.6,621 593.4,624.8 595,628.3 596.5,631.4 597.9,634.2 599.2,636.6 600.4,638.7 601.4,640.4 602.3,641.7 603.2,642.6 604,643.2 604.8,643.4Z"/>
<path d="M822.4,307.7 755.1,179.1 316.5,41.7 316.5,41.6 316.8,42 317.1,42.8 317.6,44 318.3,45.6 319.1,47.6 320.1,50 321.3,52.8 322.6,55.9 324.1,59.4 325.8,63.3 327.8,67.5 329.9,72 332.3,76.9 334.9,82.1 337.7,87.7 340.8,93.5 344.2,99.7 347.8,106.2 351.6,113 355.8,120 360.2,127.4 364.8,135 369.7,142.9 374.9,151 380.3,159.3 385.9,167.9 391.7,176.7 397.7,185.7 403.9,194.9 410.3,204.3 416.7,213.9 423.3,223.6 429.9,233.5 436.5,243.5 443.2,253.6 449.8,263.9 456.4,274.2 462.9,284.7 469.2,295.2 475.4,305.7 481.4,316.3 487.1,327 492.6,337.6 497.8,348.3 502.8,359 507.4,369.6 511.8,380.2 515.9,390.8 519.8,401.3 523.6,411.7 527.1,422.1 530.4,432.3 533.6,442.4 536.7,452.5 539.6,462.3 542.5,472 545.2,481.6 547.9,491 550.4,500.2 553,509.2 555.4,518 557.9,526.6 560.3,535 562.6,543.1 565,551 567.3,558.6 569.6,565.9 571.9,573 574.1,579.7 576.4,586.2 578.6,592.4 580.7,598.3 582.9,603.8 584.9,609.1 586.9,613.9 588.9,618.5 590.7,622.7 592.5,626.6 594.1,630.1 595.7,633.2 597.1,636 598.5,638.5 599.8,640.5 601.1,642.2 602.4,643.5 603.7,644.5 605.3,645 607.4,645.2Z"/>
<path d="M822.3,307.7 755.1,179.2 314.3,40.2 314.4,40.3 314.6,40.8 315,41.7 315.5,43 316.1,44.7 317,46.7 318,49.1 319.1,51.9 320.5,55.1 322,58.6 323.7,62.5 325.7,66.7 327.8,71.3 330.2,76.2 332.8,81.5 335.7,87 338.8,92.9 342.2,99.1 345.8,105.7 349.7,112.5 353.9,119.6 358.3,126.9 363,134.6 367.9,142.5 373.1,150.6 378.5,159 384.2,167.6 390.1,176.5 396.1,185.5 402.3,194.8 408.7,204.2 415.2,213.8 421.8,223.6 428.5,233.5 435.2,243.6 441.9,253.8 448.6,264 455.2,274.4 461.7,284.9 468.1,295.5 474.3,306.1 480.3,316.7 486.1,327.4 491.6,338.1 496.9,348.8 501.8,359.6 506.5,370.2 510.9,380.9 515,391.5 519,402.1 522.7,412.5 526.2,422.9 529.5,433.2 532.7,443.4 535.8,453.4 538.7,463.4 541.6,473.1 544.3,482.7 547,492.2 549.6,501.4 552.1,510.5 554.6,519.3 557,527.9 559.4,536.3 561.8,544.5 564.2,552.4 566.5,560 568.8,567.4 571.1,574.5 573.3,581.3 575.6,587.8 577.8,594 579.9,599.9 582,605.5 584.1,610.8 586,615.7 587.9,620.2 589.7,624.5 591.5,628.4 593.1,631.9 594.6,635.1 596,637.9 597.2,640.3 598.4,642.4 599.6,644.1 600.7,645.4 601.8,646.3 603,646.9 604.6,647.1Z"/>
<path d="M822.2,308 755.2,178.9 310.9,39 311,39 311.2,39.5 311.6,40.4 312.1,41.7 312.7,43.4 313.6,45.4 314.6,47.9 315.8,50.7 317.1,53.9 318.7,57.4 320.4,61.3 322.4,65.6 324.6,70.2 327,75.1 329.6,80.4 332.5,86 335.7,92 339.1,98.2 342.8,104.8 346.7,111.6 350.9,118.8 355.4,126.2 360.1,133.9 365.1,141.9 370.3,150.1 375.8,158.5 381.5,167.2 387.5,176.1 393.6,185.2 399.9,194.5 406.3,204 412.9,213.7 419.5,223.6 426.3,233.5 433,243.7 439.8,253.9 446.6,264.3 453.2,274.8 459.8,285.3 466.3,295.9 472.6,306.6 478.7,317.3 484.5,328.1 490.1,338.9 495.4,349.7 500.3,360.5 505,371.2 509.4,382 513.6,392.6 517.5,403.3 521.3,413.8 524.8,424.3 528.2,434.6 531.4,444.9 534.4,455 537.4,465 540.2,474.8 542.9,484.5 545.6,494 548.2,503.3 550.7,512.4 553.2,521.4 555.7,530 558.1,538.5 560.5,546.7 562.9,554.7 565.2,562.4 567.5,569.8 569.8,576.9 572.1,583.8 574.3,590.3 576.5,596.6 578.6,602.5 580.7,608.1 582.7,613.4 584.6,618.4 586.5,623 588.3,627.2 589.9,631.2 591.5,634.7 593,637.9 594.3,640.7 595.6,643.2 596.8,645.3 597.9,647 599,648.3 600.2,649.2 601.6,649.8 603.2,650Z"/>
<path d="M822.2,307.8 754.7,178.9 310,38.1 310,38.3 310.3,38.9 310.6,39.9 311.1,41.2 311.8,42.9 312.7,45 313.7,47.5 314.8,50.3 316.2,53.5 317.8,57.1 319.5,61 321.5,65.3 323.7,69.9 326.1,74.8 328.8,80.1 331.7,85.8 334.8,91.7 338.2,98 341.9,104.5 345.9,111.4 350.1,118.6 354.6,126 359.3,133.7 364.3,141.7 369.6,149.9 375.1,158.4 380.8,167.1 386.7,176 392.9,185.2 399.2,194.5 405.6,204 412.2,213.7 418.9,223.5 425.6,233.6 432.4,243.7 439.2,254 446,264.4 452.7,274.8 459.3,285.4 465.8,296.1 472.1,306.8 478.2,317.5 484.1,328.3 489.7,339.1 495,349.9 499.9,360.7 504.6,371.5 509,382.2 513.2,392.9 517.2,403.6 520.9,414.2 524.4,424.6 527.8,435 531,445.3 534,455.4 537,465.5 539.8,475.3 542.5,485 545.2,494.5 547.8,503.8 550.4,513 552.9,521.9 555.3,530.6 557.7,539.1 560.1,547.3 562.5,555.3 564.9,563 567.2,570.4 569.5,577.6 571.7,584.5 574,591 576.1,597.3 578.3,603.2 580.3,608.9 582.3,614.2 584.2,619.1 586.1,623.7 587.8,628 589.4,631.9 590.9,635.5 592.3,638.7 593.5,641.5 594.6,644 595.5,646 596.3,647.8 596.9,649.1 597.3,650 597.5,650.6 597.6,650.8Z"/>
</g>
<rect x="240.6" y="31.9" width="690.9" height="680.6" fill="none" stroke="#1a1a1a" stroke-width="1.8"/>
<path d="M240.4,712.5v9.3M355.5,712.5v9.3M470.7,712.5v9.3M585.8,712.5v9.3M701,712.5v9.3M816.1,712.5v9.3M931.2,712.5v9.3M240.6,712.5h-9.3M240.6,599.1h-9.3M240.6,485.6h-9.3M240.6,372.2h-9.3M240.6,258.8h-9.3M240.6,145.3h-9.3M240.6,31.9h-9.3" stroke="#1a1a1a" stroke-width="1.8" fill="none"/>
<g font-family='"DejaVu Sans", "Liberation Sans", sans-serif' font-size="52" fill="#000">
<text x="355.5" y="772.5" text-anchor="middle">-1000</text>
<text x="585.8" y="772.5" text-anchor="middle">-500</text>
<text x="816.1" y="772.5" text-anchor="middle">0</text>
<text x="221.8" y="51.7" text-anchor="end">500</text>
<text x="221.8" y="279" text-anchor="end">0</text>
<text x="221.8" y="506.3" text-anchor="end">-500</text>
<text x="221.8" y="733.6" text-anchor="end">-1000</text>
</g>
<text x="588.3" y="832.5" text-anchor="middle" font-family='"DejaVu Sans", "Liberation Sans", sans-serif' font-size="52" fill="#000"><tspan font-style="italic">x</tspan> [m]</text>
<text transform="translate(47.1,370.8) rotate(-90)" text-anchor="middle" font-family='"DejaVu Sans", "Liberation Sans", sans-serif' font-size="52.7" fill="#000"><tspan font-style="italic">y</tspan> [m]</text>
<text x="272.6" y="226" font-family='"DejaVu Sans", "Liberation Sans", sans-serif' font-size="79" fill="#000">A</text>
</g>
<g id="panelB">
<path d="M1411.6,31.9V712.5M1526.8,31.9V712.5M1641.9,31.9V712.5M1757,31.9V712.5M1872.2,31.9V712.5M1296.6,599.1H1987.3M1296.6,485.6H1987.3M1296.6,372.2H1987.3M1296.6,258.8H1987.3M1296.6,145.3H1987.3" stroke="#b0b0b0" stroke-width="1.6" fill="none"/>
<g fill="#0000ff">
<circle cx="1544.6" cy="153.5" r="3.05"/><circle cx="1540" cy="161.4" r="3.05"/><circle cx="1549.2" cy="161.4" r="3.05"/><circle cx="1558.4" cy="161.4" r="3.05"/><circle cx="1567.6" cy="161.4" r="3.05"/><circle cx="1576.8" cy="161.4" r="3.05"/><circle cx="1544.6" cy="169.2" r="3.05"/><circle cx="1553.8" cy="169.2" r="3.05"/><circle cx="1563" cy="169.2" r="3.05"/><circle cx="1572.2" cy="169.2" r="3.05"/><circle cx="1581.4" cy="169.2" r="3.05"/><circle cx="1590.6" cy="169.2" r="3.05"/><circle cx="1599.8" cy="169.2" r="3.05"/><circle cx="1609.1" cy="169.2" r="3.05"/><circle cx="1618.3" cy="169.2" r="3.05"/><circle cx="1540" cy="177.1" r="3.05"/><circle cx="1549.2" cy="177.1" r="3.05"/><circle cx="1558.4" cy="177.1" r="3.05"/><circle cx="1567.6" cy="177.1" r="3.05"/><circle cx="1576.8" cy="177.1" r="3.05"/><circle cx="1586" cy="177.1" r="3.05"/><circle cx="1595.2" cy="177.1" r="3.05"/><circle cx="1604.4" cy="177.1" r="3.05"/><circle cx="1613.7" cy="177.1" r="3.05"/><circle cx="1622.9" cy="177.1" r="3.05"/><circle cx="1632.1" cy="177.1" r="3.05"/><circle cx="1641.3" cy="177.1" r="3.05"/><circle cx="1650.5" cy="177.1" r="3.05"/><circle cx="1659.7" cy="177.1" r="3.05"/><circle cx="1544.6" cy="184.9" r="3.05"/><circle cx="1553.8" cy="184.9" r="3.05"/><circle cx="1563" cy="184.9" r="3.05"/><circle cx="1572.2" cy="184.9" r="3.05"/><circle cx="1581.4" cy="184.9" r="3.05"/><circle cx="1590.6" cy="184.9" r="3.05"/><circle cx="1599.8" cy="184.9" r="3.05"/><circle cx="1609.1" cy="184.9" r="3.05"/><circle cx="1618.3" cy="184.9" r="3.05"/><circle cx="1627.5" cy="184.9" r="3.05"/><circle cx="1636.7" cy="184.9" r="3.05"/><circle cx="1645.9" cy="184.9" r="3.05"/><circle cx="1655.1" cy="184.9" r="3.05"/><circle cx="1664.3" cy="184.9" r="3.05"/><circle cx="1673.5" cy="184.9" r="3.05"/><circle cx="1682.7" cy="184.9" r="3.05"/><circle cx="1692" cy="184.9" r="3.05"/><circle cx="1549.2" cy="192.8" r="3.05"/><circle cx="1558.4" cy="192.8" r="3.05"/><circle cx="1567.6" cy="192.8" r="3.05"/><circle cx="1576.8" cy="192.8" r="3.05"/><circle cx="1586" cy="192.8" r="3.05"/><circle cx="1595.2" cy="192.8" r="3.05"/><circle cx="1604.4" cy="192.8" r="3.05"/><circle cx="1613.7" cy="192.8" r="3.05"/><circle cx="1622.9" cy="192.8" r="3.05"/><circle cx="1632.1" cy="192.8" r="3.05"/><circle cx="1641.3" cy="192.8" r="3.05"/><circle cx="1650.5" cy="192.8" r="3.05"/><circle cx="1659.7" cy="192.8" r="3.05"/><circle cx="1668.9" cy="192.8" r="3.05"/><circle cx="1678.1" cy="192.8" r="3.05"/><circle cx="1687.4" cy="192.8" r="3.05"/><circle cx="1696.6" cy="192.8" r="3.05"/><circle cx="1705.8" cy="192.8" r="3.05"/><circle cx="1715" cy="192.8" r="3.05"/><circle cx="1724.2" cy="192.8" r="3.05"/><circle cx="1733.4" cy="192.8" r="3.05"/><circle cx="1553.8" cy="200.7" r="3.05"/><circle cx="1563" cy="200.7" r="3.05"/><circle cx="1572.2" cy="200.7" r="3.05"/><circle cx="1581.4" cy="200.7" r="3.05"/><circle cx="1590.6" cy="200.7" r="3.05"/><circle cx="1599.8" cy="200.7" r="3.05"/><circle cx="1609.1" cy="200.7" r="3.05"/><circle cx="1618.3" cy="200.7" r="3.05"/><circle cx="1627.5" cy="200.7" r="3.05"/><circle cx="1636.7" cy="200.7" r="3.05"/><circle cx="1645.9" cy="200.7" r="3.05"/><circle cx="1655.1" cy="200.7" r="3.05"/><circle cx="1664.3" cy="200.7" r="3.05"/><circle cx="1673.5" cy="200.7" r="3.05"/><circle cx="1682.7" cy="200.7" r="3.05"/><circle cx="1692" cy="200.7" r="3.05"/><circle cx="1701.2" cy="200.7" r="3.05"/><circle cx="1710.4" cy="200.7" r="3.05"/><circle cx="1719.6" cy="200.7" r="3.05"/><circle cx="1728.8" cy="200.7" r="3.05"/><circle cx="1738" cy="200.7" r="3.05"/><circle cx="1747.2" cy="200.7" r="3.05"/><circle cx="1756.4" cy="200.7" r="3.05"/><circle cx="1765.7" cy="200.7" r="3.05"/><circle cx="1774.9" cy="200.7" r="3.05"/><circle cx="1549.2" cy="208.5" r="3.05"/><circle cx="1558.4" cy="208.5" r="3.05"/><circle cx="1567.6" cy="208.5" r="3.05"/><circle cx="1576.8" cy="208.5" r="3.05"/><circle cx="1586" cy="208.5" r="3.05"/><circle cx="1595.2" cy="208.5" r="3.05"/><circle cx="1604.4" cy="208.5" r="3.05"/><circle cx="1613.7" cy="208.5" r="3.05"/><circle cx="1622.9" cy="208.5" r="3.05"/><circle cx="1632.1" cy="208.5" r="3.05"/><circle cx="1641.3" cy="208.5" r="3.05"/><circle cx="1650.5" cy="208.5" r="3.05"/><circle cx="1659.7" cy="208.5" r="3.05"/><circle cx="1668.9" cy="208.5" r="3.05"/><circle cx="1678.1" cy="208.5" r="3.05"/><circle cx="1687.4" cy="208.5" r="3.05"/><circle cx="1696.6" cy="208.5" r="3.05"/><circle cx="1705.8" cy="208.5" r="3.05"/><circle cx="1715" cy="208.5" r="3.05"/><circle cx="1724.2" cy="208.5" r="3.05"/><circle cx="1733.4" cy="208.5" r="3.05"/><circle cx="1742.6" cy="208.5" r="3.05"/><circle cx="1751.8" cy="208.5" r="3.05"/><circle cx="1761.1" cy="208.5" r="3.05"/><circle cx="1770.3" cy="208.5" r="3.05"/><circle cx="1779.5" cy="208.5" r="3.05"/><circle cx="1788.7" cy="208.5" r="3.05"/><circle cx="1797.9" cy="208.5" r="3.05"/><circle cx="1807.1" cy="208.5" r="3.05"/><circle cx="1553.8" cy="216.4" r="3.05"/><circle cx="1563" cy="216.4" r="3.05"/><circle cx="1572.2" cy="216.4" r="3.05"/><circle cx="1581.4" cy="216.4" r="3.05"/><circle cx="1590.6" cy="216.4" r="3.05"/><circle cx="1599.8" cy="216.4" r="3.05"/><circle cx="1609.1" cy="216.4" r="3.05"/><circle cx="1618.3" cy="216.4" r="3.05"/><circle cx="1627.5" cy="216.4" r="3.05"/><circle cx="1636.7" cy="216.4" r="3.05"/><circle cx="1645.9" cy="216.4" r="3.05"/><circle cx="1655.1" cy="216.4" r="3.05"/><circle cx="1664.3" cy="216.4" r="3.05"/><circle cx="1673.5" cy="216.4" r="3.05"/><circle cx="1682.7" cy="216.4" r="3.05"/><circle cx="1692" cy="216.4" r="3.05"/><circle cx="1701.2" cy="216.4" r="3.05"/><circle cx="1710.4" cy="216.4" r="3.05"/><circle cx="1719.6" cy="216.4" r="3.05"/><circle cx="1728.8" cy="216.4" r="3.05"/><circle cx="1738" cy="216.4" r="3.05"/><circle cx="1747.2" cy="216.4" r="3.05"/><circle cx="1756.4" cy="216.4" r="3.05"/><circle cx="1765.7" cy="216.4" r="3.05"/><circle cx="1774.9" cy="216.4" r="3.05"/><circle cx="1784.1" cy="216.4" r="3.05"/><circle cx="1793.3" cy="216.4" r="3.05"/><circle cx="1802.5" cy="216.4" r="3.05"/><circle cx="1811.7" cy="216.4" r="3.05"/><circle cx="1820.9" cy="216.4" r="3.05"/><circle cx="1558.4" cy="224.2" r="3.05"/><circle cx="1567.6" cy="224.2" r="3.05"/><circle cx="1576.8" cy="224.2" r="3.05"/><circle cx="1586" cy="224.2" r="3.05"/><circle cx="1595.2" cy="224.2" r="3.05"/><circle cx="1604.4" cy="224.2" r="3.05"/><circle cx="1613.7" cy="224.2" r="3.05"/><circle cx="1622.9" cy="224.2" r="3.05"/><circle cx="1632.1" cy="224.2" r="3.05"/><circle cx="1641.3" cy="224.2" r="3.05"/><circle cx="1650.5" cy="224.2" r="3.05"/><circle cx="1659.7" cy="224.2" r="3.05"/><circle cx="1668.9" cy="224.2" r="3.05"/><circle cx="1678.1" cy="224.2" r="3.05"/><circle cx="1687.4" cy="224.2" r="3.05"/><circle cx="1696.6" cy="224.2" r="3.05"/><circle cx="1705.8" cy="224.2" r="3.05"/><circle cx="1715" cy="224.2" r="3.05"/><circle cx="1724.2" cy="224.2" r="3.05"/><circle cx="1733.4" cy="224.2" r="3.05"/><circle cx="1742.6" cy="224.2" r="3.05"/><circle cx="1751.8" cy="224.2" r="3.05"/><circle cx="1761.1" cy="224.2" r="3.05"/><circle cx="1770.3" cy="224.2" r="3.05"/><circle cx="1779.5" cy="224.2" r="3.05"/><circle cx="1788.7" cy="224.2" r="3.05"/><circle cx="1797.9" cy="224.2" r="3.05"/><circle cx="1807.1" cy="224.2" r="3.05"/><circle cx="1816.3" cy="224.2" r="3.05"/><circle cx="1825.5" cy="224.2" r="3.05"/><circle cx="1563" cy="232.1" r="3.05"/><circle cx="1572.2" cy="232.1" r="3.05"/><circle cx="1581.4" cy="232.1" r="3.05"/><circle cx="1590.6" cy="232.1" r="3.05"/><circle cx="1599.8" cy="232.1" r="3.05"/><circle cx="1609.1" cy="232.1" r="3.05"/><circle cx="1618.3" cy="232.1" r="3.05"/><circle cx="1627.5" cy="232.1" r="3.05"/><circle cx="1636.7" cy="232.1" r="3.05"/><circle cx="1645.9" cy="232.1" r="3.05"/><circle cx="1655.1" cy="232.1" r="3.05"/><circle cx="1664.3" cy="232.1" r="3.05"/><circle cx="1673.5" cy="232.1" r="3.05"/><circle cx="1682.7" cy="232.1" r="3.05"/><circle cx="1692" cy="232.1" r="3.05"/><circle cx="1701.2" cy="232.1" r="3.05"/><circle cx="1710.4" cy="232.1" r="3.05"/><circle cx="1719.6" cy="232.1" r="3.05"/><circle cx="1728.8" cy="232.1" r="3.05"/><circle cx="1738" cy="232.1" r="3.05"/><circle cx="1747.2" cy="232.1" r="3.05"/><circle cx="1756.4" cy="232.1" r="3.05"/><circle cx="1765.7" cy="232.1" r="3.05"/><circle cx="1774.9" cy="232.1" r="3.05"/><circle cx="1784.1" cy="232.1" r="3.05"/><circle cx="1793.3" cy="232.1" r="3.05"/><circle cx="1802.5" cy="232.1" r="3.05"/><circle cx="1811.7" cy="232.1" r="3.05"/><circle cx="1820.9" cy="232.1" r="3.05"/><circle cx="1830.1" cy="232.1" r="3.05"/><circle cx="1576.8" cy="240" r="3.05"/><circle cx="1586" cy="240" r="3.05"/><circle cx="1595.2" cy="240" r="3.05"/><circle cx="1604.4" cy="240" r="3.05"/><circle cx="1613.7" cy="240" r="3.05"/><circle cx="1622.9" cy="240" r="3.05"/><circle cx="1632.1" cy="240" r="3.05"/><circle cx="1641.3" cy="240" r="3.05"/><circle cx="1650.5" cy="240" r="3.05"/><circle cx="1659.7" cy="240" r="3.05"/><circle cx="1668.9" cy="240" r="3.05"/><circle cx="1678.1" cy="240" r="3.05"/><circle cx="1687.4" cy="240" r="3.05"/><circle cx="1696.6" cy="240" r="3.05"/><circle cx="1705.8" cy="240" r="3.05"/><circle cx="1715" cy="240" r="3.05"/><circle cx="1724.2" cy="240" r="3.05"/><circle cx="1733.4" cy="240" r="3.05"/><circle cx="1742.6" cy="240" r="3.05"/><circle cx="1751.8" cy="240" r="3.05"/><circle cx="1761.1" cy="240" r="3.05"/><circle cx="1770.3" cy="240" r="3.05"/><circle cx="1779.5" cy="240" r="3.05"/><circle cx="1788.7" cy="240" r="3.05"/><circle cx="1797.9" cy="240" r="3.05"/><circle cx="1807.1" cy="240" r="3.05"/><circle cx="1816.3" cy="240" r="3.05"/><circle cx="1825.5" cy="240" r="3.05"/><circle cx="1834.7" cy="240" r="3.05"/><circle cx="1581.4" cy="247.8" r="3.05"/><circle cx="1590.6" cy="247.8" r="3.05"/><circle cx="1599.8" cy="247.8" r="3.05"/><circle cx="1609.1" cy="247.8" r="3.05"/><circle cx="1618.3" cy="247.8" r="3.05"/><circle cx="1627.5" cy="247.8" r="3.05"/><circle cx="1636.7" cy="247.8" r="3.05"/><circle cx="1645.9" cy="247.8" r="3.05"/><circle cx="1655.1" cy="247.8" r="3.05"/><circle cx="1664.3" cy="247.8" r="3.05"/><circle cx="1673.5" cy="247.8" r="3.05"/><circle cx="1682.7" cy="247.8" r="3.05"/><circle cx="1692" cy="247.8" r="3.05"/><circle cx="1701.2" cy="247.8" r="3.05"/><circle cx="1710.4" cy="247.8" r="3.05"/><circle cx="1719.6" cy="247.8" r="3.05"/><circle cx="1728.8" cy="247.8" r="3.05"/><circle cx="1738" cy="247.8" r="3.05"/><circle cx="1747.2" cy="247.8" r="3.05"/><circle cx="1756.4" cy="247.8" r="3.05"/><circle cx="1765.7" cy="247.8" r="3.05"/><circle cx="1774.9" cy="247.8" r="3.05"/><circle cx="1784.1" cy="247.8" r="3.05"/><circle cx="1793.3" cy="247.8" r="3.05"/><circle cx="1802.5" cy="247.8" r="3.05"/><circle cx="1811.7" cy="247.8" r="3.05"/><circle cx="1820.9" cy="247.8" r="3.05"/><circle cx="1830.1" cy="247.8" r="3.05"/><circle cx="1839.4" cy="247.8" r="3.05"/><circle cx="1586" cy="255.7" r="3.05"/><circle cx="1595.2" cy="255.7" r="3.05"/><circle cx="1604.4" cy="255.7" r="3.05"/><circle cx="1613.7" cy="255.7" r="3.05"/><circle cx="1622.9" cy="255.7" r="3.05"/><circle cx="1632.1" cy="255.7" r="3.05"/><circle cx="1641.3" cy="255.7" r="3.05"/><circle cx="1650.5" cy="255.7" r="3.05"/><circle cx="1659.7" cy="255.7" r="3.05"/><circle cx="1668.9" cy="255.7" r="3.05"/><circle cx="1678.1" cy="255.7" r="3.05"/><circle cx="1687.4" cy="255.7" r="3.05"/><circle cx="1696.6" cy="255.7" r="3.05"/><circle cx="1705.8" cy="255.7" r="3.05"/><circle cx="1715" cy="255.7" r="3.05"/><circle cx="1724.2" cy="255.7" r="3.05"/><circle cx="1733.4" cy="255.7" r="3.05"/><circle cx="1742.6" cy="255.7" r="3.05"/><circle cx="1751.8" cy="255.7" r="3.05"/><circle cx="1761.1" cy="255.7" r="3.05"/><circle cx="1770.3" cy="255.7" r="3.05"/><circle cx="1779.5" cy="255.7" r="3.05"/><circle cx="1788.7" cy="255.7" r="3.05"/><circle cx="1797.9" cy="255.7" r="3.05"/><circle cx="1807.1" cy="255.7" r="3.05"/><circle cx="1816.3" cy="255.7" r="3.05"/><circle cx="1825.5" cy="255.7" r="3.05"/><circle cx="1834.7" cy="255.7" r="3.05"/><circle cx="1844" cy="255.7" r="3.05"/><circle cx="1590.6" cy="263.5" r="3.05"/><circle cx="1599.8" cy="263.5" r="3.05"/><circle cx="1609.1" cy="263.5" r="3.05"/><circle cx="1618.3" cy="263.5" r="3.05"/><circle cx="1627.5" cy="263.5" r="3.05"/><circle cx="1636.7" cy="263.5" r="3.05"/><circle cx="1645.9" cy="263.5" r="3.05"/><circle cx="1655.1" cy="263.5" r="3.05"/><circle cx="1664.3" cy="263.5" r="3.05"/><circle cx="1673.5" cy="263.5" r="3.05"/><circle cx="1682.7" cy="263.5" r="3.05"/><circle cx="1692" cy="263.5" r="3.05"/><circle cx="1701.2" cy="263.5" r="3.05"/><circle cx="1710.4" cy="263.5" r="3.05"/><circle cx="1719.6" cy="263.5" r="3.05"/><circle cx="1728.8" cy="263.5" r="3.05"/><circle cx="1738" cy="263.5" r="3.05"/><circle cx="1747.2" cy="263.5" r="3.05"/><circle cx="1756.4" cy="263.5" r="3.05"/><circle cx="1765.7" cy="263.5" r="3.05"/><circle cx="1774.9" cy="263.5" r="3.05"/><circle cx="1784.1" cy="263.5" r="3.05"/><circle cx="1793.3" cy="263.5" r="3.05"/><circle cx="1802.5" cy="263.5" r="3.05"/><circle cx="1811.7" cy="263.5" r="3.05"/><circle cx="1820.9" cy="263.5" r="3.05"/><circle cx="1830.1" cy="263.5" r="3.05"/><circle cx="1839.4" cy="263.5" r="3.05"/><circle cx="1848.6" cy="263.5" r="3.05"/><circle cx="1595.2" cy="271.4" r="3.05"/><circle cx="1604.4" cy="271.4" r="3.05"/><circle cx="1613.7" cy="271.4" r="3.05"/><circle cx="1622.9" cy="271.4" r="3.05"/><circle cx="1632.1" cy="271.4" r="3.05"/><circle cx="1641.3" cy="271.4" r="3.05"/><circle cx="1650.5" cy="271.4" r="3.05"/><circle cx="1659.7" cy="271.4" r="3.05"/><circle cx="1668.9" cy="271.4" r="3.05"/><circle cx="1678.1" cy="271.4" r="3.05"/><circle cx="1687.4" cy="271.4" r="3.05"/><circle cx="1696.6" cy="271.4" r="3.05"/><circle cx="1705.8" cy="271.4" r="3.05"/><circle cx="1715" cy="271.4" r="3.05"/><circle cx="1724.2" cy="271.4" r="3.05"/><circle cx="1733.4" cy="271.4" r="3.05"/><circle cx="1742.6" cy="271.4" r="3.05"/><circle cx="1751.8" cy="271.4" r="3.05"/><circle cx="1761.1" cy="271.4" r="3.05"/><circle cx="1770.3" cy="271.4" r="3.05"/><circle cx="1779.5" cy="271.4" r="3.05"/><circle cx="1788.7" cy="271.4" r="3.05"/><circle cx="1797.9" cy="271.4" r="3.05"/><circle cx="1807.1" cy="271.4" r="3.05"/><circle cx="1816.3" cy="271.4" r="3.05"/><circle cx="1825.5" cy="271.4" r="3.05"/><circle cx="1834.7" cy="271.4" r="3.05"/><circle cx="1844" cy="271.4" r="3.05"/><circle cx="1853.2" cy="271.4" r="3.05"/><circle cx="1599.8" cy="279.3" r="3.05"/><circle cx="1609.1" cy="279.3" r="3.05"/><circle cx="1618.3" cy="279.3" r="3.05"/><circle cx="1627.5" cy="279.3" r="3.05"/><circle cx="1636.7" cy="279.3" r="3.05"/><circle cx="1645.9" cy="279.3" r="3.05"/><circle cx="1655.1" cy="279.3" r="3.05"/><circle cx="1664.3" cy="279.3" r="3.05"/><circle cx="1673.5" cy="279.3" r="3.05"/><circle cx="1682.7" cy="279.3" r="3.05"/><circle cx="1692" cy="279.3" r="3.05"/><circle cx="1701.2" cy="279.3" r="3.05"/><circle cx="1710.4" cy="279.3" r="3.05"/><circle cx="1719.6" cy="279.3" r="3.05"/><circle cx="1728.8" cy="279.3" r="3.05"/><circle cx="1738" cy="279.3" r="3.05"/><circle cx="1747.2" cy="279.3" r="3.05"/><circle cx="1756.4" cy="279.3" r="3.05"/><circle cx="1765.7" cy="279.3" r="3.05"/><circle cx="1774.9" cy="279.3" r="3.05"/><circle cx="1784.1" cy="279.3" r="3.05"/><circle cx="1793.3" cy="279.3" r="3.05"/><circle cx="1802.5" cy="279.3" r="3.05"/><circle cx="1811.7" cy="279.3" r="3.05"/><circle cx="1820.9" cy="279.3" r="3.05"/><circle cx="1830.1" cy="279.3" r="3.05"/><circle cx="1839.4" cy="279.3" r="3.05"/><circle cx="1848.6" cy="279.3" r="3.05"/><circle cx="1857.8" cy="279.3" r="3.05"/><circle cx="1613.7" cy="287.1" r="3.05"/><circle cx="1622.9" cy="287.1" r="3.05"/><circle cx="1632.1" cy="287.1" r="3.05"/><circle cx="1641.3" cy="287.1" r="3.05"/><circle cx="1650.5" cy="287.1" r="3.05"/><circle cx="1659.7" cy="287.1" r="3.05"/><circle cx="1668.9" cy="287.1" r="3.05"/><circle cx="1678.1" cy="287.1" r="3.05"/><circle cx="1687.4" cy="287.1" r="3.05"/><circle cx="1696.6" cy="287.1" r="3.05"/><circle cx="1705.8" cy="287.1" r="3.05"/><circle cx="1715" cy="287.1" r="3.05"/><circle cx="1724.2" cy="287.1" r="3.05"/><circle cx="1733.4" cy="287.1" r="3.05"/><circle cx="1742.6" cy="287.1" r="3.05"/><circle cx="1751.8" cy="287.1" r="3.05"/><circle cx="1761.1" cy="287.1" r="3.05"/><circle cx="1770.3" cy="287.1" r="3.05"/><circle cx="1779.5" cy="287.1" r="3.05"/><circle cx="1788.7" cy="287.1" r="3.05"/><circle cx="1797.9" cy="287.1" r="3.05"/><circle cx="1807.1" cy="287.1" r="3.05"/><circle cx="1816.3" cy="287.1" r="3.05"/><circle cx="1825.5" cy="287.1" r="3.05"/><circle cx="1834.7" cy="287.1" r="3.05"/><circle cx="1844" cy="287.1" r="3.05"/><circle cx="1853.2" cy="287.1" r="3.05"/><circle cx="1862.4" cy="287.1" r="3.05"/><circle cx="1618.3" cy="295" r="3.05"/><circle cx="1627.5" cy="295" r="3.05"/><circle cx="1636.7" cy="295" r="3.05"/><circle cx="1645.9" cy="295" r="3.05"/><circle cx="1655.1" cy="295" r="3.05"/><circle cx="1664.3" cy="295" r="3.05"/><circle cx="1673.5" cy="295" r="3.05"/><circle cx="1682.7" cy="295" r="3.05"/><circle cx="1692" cy="295" r="3.05"/><circle cx="1701.2" cy="295" r="3.05"/><circle cx="1710.4" cy="295" r="3.05"/><circle cx="1719.6" cy="295" r="3.05"/><circle cx="1728.8" cy="295" r="3.05"/><circle cx="1738" cy="295" r="3.05"/><circle cx="1747.2" cy="295" r="3.05"/><circle cx="1756.4" cy="295" r="3.05"/><circle cx="1765.7" cy="295" r="3.05"/><circle cx="1774.9" cy="295" r="3.05"/><circle cx="1784.1" cy="295" r="3.05"/><circle cx="1793.3" cy="295" r="3.05"/><circle cx="1802.5" cy="295" r="3.05"/><circle cx="1811.7" cy="295" r="3.05"/><circle cx="1820.9" cy="295" r="3.05"/><circle cx="1830.1" cy="295" r="3.05"/><circle cx="1839.4" cy="295" r="3.05"/><circle cx="1848.6" cy="295" r="3.05"/><circle cx="1857.8" cy="295" r="3.05"/><circle cx="1867" cy="295" r="3.05"/><circle cx="1622.9" cy="302.8" r="3.05"/><circle cx="1632.1" cy="302.8" r="3.05"/><circle cx="1641.3" cy="302.8" r="3.05"/><circle cx="1650.5" cy="302.8" r="3.05"/><circle cx="1659.7" cy="302.8" r="3.05"/><circle cx="1668.9" cy="302.8" r="3.05"/><circle cx="1678.1" cy="302.8" r="3.05"/><circle cx="1687.4" cy="302.8" r="3.05"/><circle cx="1696.6" cy="302.8" r="3.05"/><circle cx="1705.8" cy="302.8" r="3.05"/><circle cx="1715" cy="302.8" r="3.05"/><circle cx="1724.2" cy="302.8" r="3.05"/><circle cx="1733.4" cy="302.8" r="3.05"/><circle cx="1742.6" cy="302.8" r="3.05"/><circle cx="1751.8" cy="302.8" r="3.05"/><circle cx="1761.1" cy="302.8" r="3.05"/><circle cx="1770.3" cy="302.8" r="3.05"/><circle cx="1779.5" cy="302.8" r="3.05"/><circle cx="1788.7" cy="302.8" r="3.05"/><circle cx="1797.9" cy="302.8" r="3.05"/><circle cx="1807.1" cy="302.8" r="3.05"/><circle cx="1816.3" cy="302.8" r="3.05"/><circle cx="1825.5" cy="302.8" r="3.05"/><circle cx="1834.7" cy="302.8" r="3.05"/><circle cx="1844" cy="302.8" r="3.05"/><circle cx="1853.2" cy="302.8" r="3.05"/><circle cx="1862.4" cy="302.8" r="3.05"/><circle cx="1871.6" cy="302.8" r="3.05"/><circle cx="1627.5" cy="310.7" r="3.05"/><circle cx="1636.7" cy="310.7" r="3.05"/><circle cx="1645.9" cy="310.7" r="3.05"/><circle cx="1655.1" cy="310.7" r="3.05"/><circle cx="1664.3" cy="310.7" r="3.05"/><circle cx="1673.5" cy="310.7" r="3.05"/><circle cx="1682.7" cy="310.7" r="3.05"/><circle cx="1692" cy="310.7" r="3.05"/><circle cx="1701.2" cy="310.7" r="3.05"/><circle cx="1710.4" cy="310.7" r="3.05"/><circle cx="1719.6" cy="310.7" r="3.05"/><circle cx="1728.8" cy="310.7" r="3.05"/><circle cx="1738" cy="310.7" r="3.05"/><circle cx="1747.2" cy="310.7" r="3.05"/><circle cx="1756.4" cy="310.7" r="3.05"/><circle cx="1765.7" cy="310.7" r="3.05"/><circle cx="1774.9" cy="310.7" r="3.05"/><circle cx="1784.1" cy="310.7" r="3.05"/><circle cx="1793.3" cy="310.7" r="3.05"/><circle cx="1802.5" cy="310.7" r="3.05"/><circle cx="1811.7" cy="310.7" r="3.05"/><circle cx="1820.9" cy="310.7" r="3.05"/><circle cx="1830.1" cy="310.7" r="3.05"/><circle cx="1839.4" cy="310.7" r="3.05"/><circle cx="1848.6" cy="310.7" r="3.05"/><circle cx="1857.8" cy="310.7" r="3.05"/><circle cx="1867" cy="310.7" r="3.05"/><circle cx="1632.1" cy="318.6" r="3.05"/><circle cx="1641.3" cy="318.6" r="3.05"/><circle cx="1650.5" cy="318.6" r="3.05"/><circle cx="1659.7" cy="318.6" r="3.05"/><circle cx="1668.9" cy="318.6" r="3.05"/><circle cx="1678.1" cy="318.6" r="3.05"/><circle cx="1687.4" cy="318.6" r="3.05"/><circle cx="1696.6" cy="318.6" r="3.05"/><circle cx="1705.8" cy="318.6" r="3.05"/><circle cx="1715" cy="318.6" r="3.05"/><circle cx="1724.2" cy="318.6" r="3.05"/><circle cx="1733.4" cy="318.6" r="3.05"/><circle cx="1742.6" cy="318.6" r="3.05"/><circle cx="1751.8" cy="318.6" r="3.05"/><circle cx="1761.1" cy="318.6" r="3.05"/><circle cx="1770.3" cy="318.6" r="3.05"/><circle cx="1779.5" cy="318.6" r="3.05"/><circle cx="1788.7" cy="318.6" r="3.05"/><circle cx="1797.9" cy="318.6" r="3.05"/><circle cx="1807.1" cy="318.6" r="3.05"/><circle cx="1816.3" cy="318.6" r="3.05"/><circle cx="1825.5" cy="318.6" r="3.05"/><circle cx="1834.7" cy="318.6" r="3.05"/><circle cx="1844" cy="318.6" r="3.05"/><circle cx="1853.2" cy="318.6" r="3.05"/><circle cx="1862.4" cy="318.6" r="3.05"/><circle cx="1636.7" cy="326.4" r="3.05"/><circle cx="1645.9" cy="326.4" r="3.05"/><circle cx="1655.1" cy="326.4" r="3.05"/><circle cx="1664.3" cy="326.4" r="3.05"/><circle cx="1673.5" cy="326.4" r="3.05"/><circle cx="1682.7" cy="326.4" r="3.05"/><circle cx="1692" cy="326.4" r="3.05"/><circle cx="1701.2" cy="326.4" r="3.05"/><circle cx="1710.4" cy="326.4" r="3.05"/><circle cx="1719.6" cy="326.4" r="3.05"/><circle cx="1728.8" cy="326.4" r="3.05"/><circle cx="1738" cy="326.4" r="3.05"/><circle cx="1747.2" cy="326.4" r="3.05"/><circle cx="1756.4" cy="326.4" r="3.05"/><circle cx="1765.7" cy="326.4" r="3.05"/><circle cx="1774.9" cy="326.4" r="3.05"/><circle cx="1784.1" cy="326.4" r="3.05"/><circle cx="1793.3" cy="326.4" r="3.05"/><circle cx="1802.5" cy="326.4" r="3.05"/><circle cx="1811.7" cy="326.4" r="3.05"/><circle cx="1820.9" cy="326.4" r="3.05"/><circle cx="1830.1" cy="326.4" r="3.05"/><circle cx="1839.4" cy="326.4" r="3.05"/><circle cx="1848.6" cy="326.4" r="3.05"/><circle cx="1857.8" cy="326.4" r="3.05"/><circle cx="1641.3" cy="334.3" r="3.05"/><circle cx="1650.5" cy="334.3" r="3.05"/><circle cx="1659.7" cy="334.3" r="3.05"/><circle cx="1668.9" cy="334.3" r="3.05"/><circle cx="1678.1" cy="334.3" r="3.05"/><circle cx="1687.4" cy="334.3" r="3.05"/><circle cx="1696.6" cy="334.3" r="3.05"/><circle cx="1705.8" cy="334.3" r="3.05"/><circle cx="1715" cy="334.3" r="3.05"/><circle cx="1724.2" cy="334.3" r="3.05"/><circle cx="1733.4" cy="334.3" r="3.05"/><circle cx="1742.6" cy="334.3" r="3.05"/><circle cx="1751.8" cy="334.3" r="3.05"/><circle cx="1761.1" cy="334.3" r="3.05"/><circle cx="1770.3" cy="334.3" r="3.05"/><circle cx="1779.5" cy="334.3" r="3.05"/><circle cx="1788.7" cy="334.3" r="3.05"/><circle cx="1797.9" cy="334.3" r="3.05"/><circle cx="1807.1" cy="334.3" r="3.05"/><circle cx="1816.3" cy="334.3" r="3.05"/><circle cx="1825.5" cy="334.3" r="3.05"/><circle cx="1834.7" cy="334.3" r="3.05"/><circle cx="1844" cy="334.3" r="3.05"/><circle cx="1853.2" cy="334.3" r="3.05"/><circle cx="1645.9" cy="342.1" r="3.05"/><circle cx="1655.1" cy="342.1" r="3.05"/><circle cx="1664.3" cy="342.1" r="3.05"/><circle cx="1673.5" cy="342.1" r="3.05"/><circle cx="1682.7" cy="342.1" r="3.05"/><circle cx="1692" cy="342.1" r="3.05"/><circle cx="1701.2" cy="342.1" r="3.05"/><circle cx="1710.4" cy="342.1" r="3.05"/><circle cx="1719.6" cy="342.1" r="3.05"/><circle cx="1728.8" cy="342.1" r="3.05"/><circle cx="1738" cy="342.1" r="3.05"/><circle cx="1747.2" cy="342.1" r="3.05"/><circle cx="1756.4" cy="342.1" r="3.05"/><circle cx="1765.7" cy="342.1" r="3.05"/><circle cx="1774.9" cy="342.1" r="3.05"/><circle cx="1784.1" cy="342.1" r="3.05"/><circle cx="1793.3" cy="342.1" r="3.05"/><circle cx="1802.5" cy="342.1" r="3.05"/><circle cx="1811.7" cy="342.1" r="3.05"/><circle cx="1820.9" cy="342.1" r="3.05"/><circle cx="1830.1" cy="342.1" r="3.05"/><circle cx="1839.4" cy="342.1" r="3.05"/><circle cx="1848.6" cy="342.1" r="3.05"/><circle cx="1650.5" cy="350" r="3.05"/><circle cx="1659.7" cy="350" r="3.05"/><circle cx="1668.9" cy="350" r="3.05"/><circle cx="1678.1" cy="350" r="3.05"/><circle cx="1687.4" cy="350" r="3.05"/><circle cx="1696.6" cy="350" r="3.05"/><circle cx="1705.8" cy="350" r="3.05"/><circle cx="1715" cy="350" r="3.05"/><circle cx="1724.2" cy="350" r="3.05"/><circle cx="1733.4" cy="350" r="3.05"/><circle cx="1742.6" cy="350" r="3.05"/><circle cx="1751.8" cy="350" r="3.05"/><circle cx="1761.1" cy="350" r="3.05"/><circle cx="1770.3" cy="350" r="3.05"/><circle cx="1779.5" cy="350" r="3.05"/><circle cx="1788.7" cy="350" r="3.05"/><circle cx="1797.9" cy="350" r="3.05"/><circle cx="1807.1" cy="350" r="3.05"/><circle cx="1816.3" cy="350" r="3.05"/><circle cx="1825.5" cy="350" r="3.05"/><circle cx="1834.7" cy="350" r="3.05"/><circle cx="1844" cy="350" r="3.05"/><circle cx="1655.1" cy="357.8" r="3.05"/><circle cx="1664.3" cy="357.8" r="3.05"/><circle cx="1673.5" cy="357.8" r="3.05"/><circle cx="1682.7" cy="357.8" r="3.05"/><circle cx="1692" cy="357.8" r="3.05"/><circle cx="1701.2" cy="357.8" r="3.05"/><circle cx="1710.4" cy="357.8" r="3.05"/><circle cx="1719.6" cy="357.8" r="3.05"/><circle cx="1728.8" cy="357.8" r="3.05"/><circle cx="1738" cy="357.8" r="3.05"/><circle cx="1747.2" cy="357.8" r="3.05"/><circle cx="1756.4" cy="357.8" r="3.05"/><circle cx="1765.7" cy="357.8" r="3.05"/><circle cx="1774.9" cy="357.8" r="3.05"/><circle cx="1784.1" cy="357.8" r="3.05"/><circle cx="1793.3" cy="357.8" r="3.05"/><circle cx="1802.5" cy="357.8" r="3.05"/><circle cx="1811.7" cy="357.8" r="3.05"/><circle cx="1820.9" cy="357.8" r="3.05"/><circle cx="1830.1" cy="357.8" r="3.05"/><circle cx="1839.4" cy="357.8" r="3.05"/><circle cx="1659.7" cy="365.7" r="3.05"/><circle cx="1668.9" cy="365.7" r="3.05"/><circle cx="1678.1" cy="365.7" r="3.05"/><circle cx="1687.4" cy="365.7" r="3.05"/><circle cx="1696.6" cy="365.7" r="3.05"/><circle cx="1705.8" cy="365.7" r="3.05"/><circle cx="1715" cy="365.7" r="3.05"/><circle cx="1724.2" cy="365.7" r="3.05"/><circle cx="1733.4" cy="365.7" r="3.05"/><circle cx="1742.6" cy="365.7" r="3.05"/><circle cx="1751.8" cy="365.7" r="3.05"/><circle cx="1761.1" cy="365.7" r="3.05"/><circle cx="1770.3" cy="365.7" r="3.05"/><circle cx="1779.5" cy="365.7" r="3.05"/><circle cx="1788.7" cy="365.7" r="3.05"/><circle cx="1797.9" cy="365.7" r="3.05"/><circle cx="1807.1" cy="365.7" r="3.05"/><circle cx="1816.3" cy="365.7" r="3.05"/><circle cx="1825.5" cy="365.7" r="3.05"/><circle cx="1834.7" cy="365.7" r="3.05"/><circle cx="1844" cy="365.7" r="3.05"/><circle cx="1664.3" cy="373.6" r="3.05"/><circle cx="1673.5" cy="373.6" r="3.05"/><circle cx="1682.7" cy="373.6" r="3.05"/><circle cx="1692" cy="373.6" r="3.05"/><circle cx="1701.2" cy="373.6" r="3.05"/><circle cx="1710.4" cy="373.6" r="3.05"/><circle cx="1719.6" cy="373.6" r="3.05"/><circle cx="1728.8" cy="373.6" r="3.05"/><circle cx="1738" cy="373.6" r="3.05"/><circle cx="1747.2" cy="373.6" r="3.05"/><circle cx="1756.4" cy="373.6" r="3.05"/><circle cx="1765.7" cy="373.6" r="3.05"/><circle cx="1774.9" cy="373.6" r="3.05"/><circle cx="1784.1" cy="373.6" r="3.05"/><circle cx="1793.3" cy="373.6" r="3.05"/><circle cx="1802.5" cy="373.6" r="3.05"/><circle cx="1811.7" cy="373.6" r="3.05"/><circle cx="1820.9" cy="373.6" r="3.05"/><circle cx="1830.1" cy="373.6" r="3.05"/><circle cx="1839.4" cy="373.6" r="3.05"/><circle cx="1668.9" cy="381.4" r="3.05"/><circle cx="1678.1" cy="381.4" r="3.05"/><circle cx="1687.4" cy="381.4" r="3.05"/><circle cx="1696.6" cy="381.4" r="3.05"/><circle cx="1705.8" cy="381.4" r="3.05"/><circle cx="1715" cy="381.4" r="3.05"/><circle cx="1724.2" cy="381.4" r="3.05"/><circle cx="1733.4" cy="381.4" r="3.05"/><circle cx="1742.6" cy="381.4" r="3.05"/><circle cx="1751.8" cy="381.4" r="3.05"/><circle cx="1761.1" cy="381.4" r="3.05"/><circle cx="1770.3" cy="381.4" r="3.05"/><circle cx="1779.5" cy="381.4" r="3.05"/><circle cx="1788.7" cy="381.4" r="3.05"/><circle cx="1797.9" cy="381.4" r="3.05"/><circle cx="1807.1" cy="381.4" r="3.05"/><circle cx="1816.3" cy="381.4" r="3.05"/><circle cx="1825.5" cy="381.4" r="3.05"/><circle cx="1834.7" cy="381.4" r="3.05"/><circle cx="1673.5" cy="389.3" r="3.05"/><circle cx="1682.7" cy="389.3" r="3.05"/><circle cx="1692" cy="389.3" r="3.05"/><circle cx="1701.2" cy="389.3" r="3.05"/><circle cx="1710.4" cy="389.3" r="3.05"/><circle cx="1719.6" cy="389.3" r="3.05"/><circle cx="1728.8" cy="389.3" r="3.05"/><circle cx="1738" cy="389.3" r="3.05"/><circle cx="1747.2" cy="389.3" r="3.05"/><circle cx="1756.4" cy="389.3" r="3.05"/><circle cx="1765.7" cy="389.3" r="3.05"/><circle cx="1774.9" cy="389.3" r="3.05"/><circle cx="1784.1" cy="389.3" r="3.05"/><circle cx="1793.3" cy="389.3" r="3.05"/><circle cx="1802.5" cy="389.3" r="3.05"/><circle cx="1811.7" cy="389.3" r="3.05"/><circle cx="1820.9" cy="389.3" r="3.05"/><circle cx="1830.1" cy="389.3" r="3.05"/><circle cx="1678.1" cy="397.1" r="3.05"/><circle cx="1687.4" cy="397.1" r="3.05"/><circle cx="1696.6" cy="397.1" r="3.05"/><circle cx="1705.8" cy="397.1" r="3.05"/><circle cx="1715" cy="397.1" r="3.05"/><circle cx="1724.2" cy="397.1" r="3.05"/><circle cx="1733.4" cy="397.1" r="3.05"/><circle cx="1742.6" cy="397.1" r="3.05"/><circle cx="1751.8" cy="397.1" r="3.05"/><circle cx="1761.1" cy="397.1" r="3.05"/><circle cx="1770.3" cy="397.1" r="3.05"/><circle cx="1779.5" cy="397.1" r="3.05"/><circle cx="1788.7" cy="397.1" r="3.05"/><circle cx="1797.9" cy="397.1" r="3.05"/><circle cx="1807.1" cy="397.1" r="3.05"/><circle cx="1816.3" cy="397.1" r="3.05"/><circle cx="1825.5" cy="397.1" r="3.05"/><circle cx="1682.7" cy="405" r="3.05"/><circle cx="1692" cy="405" r="3.05"/><circle cx="1701.2" cy="405" r="3.05"/><circle cx="1710.4" cy="405" r="3.05"/><circle cx="1719.6" cy="405" r="3.05"/><circle cx="1728.8" cy="405" r="3.05"/><circle cx="1738" cy="405" r="3.05"/><circle cx="1747.2" cy="405" r="3.05"/><circle cx="1756.4" cy="405" r="3.05"/><circle cx="1765.7" cy="405" r="3.05"/><circle cx="1774.9" cy="405" r="3.05"/><circle cx="1784.1" cy="405" r="3.05"/><circle cx="1793.3" cy="405" r="3.05"/><circle cx="1802.5" cy="405" r="3.05"/><circle cx="1811.7" cy="405" r="3.05"/><circle cx="1820.9" cy="405" r="3.05"/><circle cx="1678.1" cy="412.9" r="3.05"/><circle cx="1687.4" cy="412.9" r="3.05"/><circle cx="1696.6" cy="412.9" r="3.05"/><circle cx="1705.8" cy="412.9" r="3.05"/><circle cx="1715" cy="412.9" r="3.05"/><circle cx="1724.2" cy="412.9" r="3.05"/><circle cx="1733.4" cy="412.9" r="3.05"/><circle cx="1742.6" cy="412.9" r="3.05"/><circle cx="1751.8" cy="412.9" r="3.05"/><circle cx="1761.1" cy="412.9" r="3.05"/><circle cx="1770.3" cy="412.9" r="3.05"/><circle cx="1779.5" cy="412.9" r="3.05"/><circle cx="1788.7" cy="412.9" r="3.05"/><circle cx="1797.9" cy="412.9" r="3.05"/><circle cx="1807.1" cy="412.9" r="3.05"/><circle cx="1816.3" cy="412.9" r="3.05"/><circle cx="1682.7" cy="420.7" r="3.05"/><circle cx="1692" cy="420.7" r="3.05"/><circle cx="1701.2" cy="420.7" r="3.05"/><circle cx="1710.4" cy="420.7" r="3.05"/><circle cx="1719.6" cy="420.7" r="3.05"/><circle cx="1728.8" cy="420.7" r="3.05"/><circle cx="1738" cy="420.7" r="3.05"/><circle cx="1747.2" cy="420.7" r="3.05"/><circle cx="1756.4" cy="420.7" r="3.05"/><circle cx="1765.7" cy="420.7" r="3.05"/><circle cx="1774.9" cy="420.7" r="3.05"/><circle cx="1784.1" cy="420.7" r="3.05"/><circle cx="1793.3" cy="420.7" r="3.05"/><circle cx="1802.5" cy="420.7" r="3.05"/><circle cx="1811.7" cy="420.7" r="3.05"/><circle cx="1687.4" cy="428.6" r="3.05"/><circle cx="1696.6" cy="428.6" r="3.05"/><circle cx="1705.8" cy="428.6" r="3.05"/><circle cx="1715" cy="428.6" r="3.05"/><circle cx="1724.2" cy="428.6" r="3.05"/><circle cx="1733.4" cy="428.6" r="3.05"/><circle cx="1742.6" cy="428.6" r="3.05"/><circle cx="1751.8" cy="428.6" r="3.05"/><circle cx="1761.1" cy="428.6" r="3.05"/><circle cx="1770.3" cy="428.6" r="3.05"/><circle cx="1779.5" cy="428.6" r="3.05"/><circle cx="1788.7" cy="428.6" r="3.05"/><circle cx="1797.9" cy="428.6" r="3.05"/><circle cx="1807.1" cy="428.6" r="3.05"/><circle cx="1692" cy="436.4" r="3.05"/><circle cx="1701.2" cy="436.4" r="3.05"/><circle cx="1710.4" cy="436.4" r="3.05"/><circle cx="1719.6" cy="436.4" r="3.05"/><circle cx="1728.8" cy="436.4" r="3.05"/><circle cx="1738" cy="436.4" r="3.05"/><circle cx="1747.2" cy="436.4" r="3.05"/><circle cx="1756.4" cy="436.4" r="3.05"/><circle cx="1765.7" cy="436.4" r="3.05"/><circle cx="1774.9" cy="436.4" r="3.05"/><circle cx="1784.1" cy="436.4" r="3.05"/><circle cx="1793.3" cy="436.4" r="3.05"/><circle cx="1802.5" cy="436.4" r="3.05"/><circle cx="1687.4" cy="444.3" r="3.05"/><circle cx="1696.6" cy="444.3" r="3.05"/><circle cx="1705.8" cy="444.3" r="3.05"/><circle cx="1715" cy="444.3" r="3.05"/><circle cx="1724.2" cy="444.3" r="3.05"/><circle cx="1733.4" cy="444.3" r="3.05"/><circle cx="1742.6" cy="444.3" r="3.05"/><circle cx="1751.8" cy="444.3" r="3.05"/><circle cx="1761.1" cy="444.3" r="3.05"/><circle cx="1770.3" cy="444.3" r="3.05"/><circle cx="1779.5" cy="444.3" r="3.05"/><circle cx="1788.7" cy="444.3" r="3.05"/><circle cx="1797.9" cy="444.3" r="3.05"/><circle cx="1692" cy="452.2" r="3.05"/><circle cx="1701.2" cy="452.2" r="3.05"/><circle cx="1710.4" cy="452.2" r="3.05"/><circle cx="1719.6" cy="452.2" r="3.05"/><circle cx="1728.8" cy="452.2" r="3.05"/><circle cx="1738" cy="452.2" r="3.05"/><circle cx="1747.2" cy="452.2" r="3.05"/><circle cx="1756.4" cy="452.2" r="3.05"/><circle cx="1765.7" cy="452.2" r="3.05"/><circle cx="1774.9" cy="452.2" r="3.05"/><circle cx="1784.1" cy="452.2" r="3.05"/><circle cx="1793.3" cy="452.2" r="3.05"/><circle cx="1696.6" cy="460" r="3.05"/><circle cx="1705.8" cy="460" r="3.05"/><circle cx="1715" cy="460" r="3.05"/><circle cx="1724.2" cy="460" r="3.05"/><circle cx="1733.4" cy="460" r="3.05"/><circle cx="1742.6" cy="460" r="3.05"/><circle cx="1751.8" cy="460" r="3.05"/><circle cx="1761.1" cy="460" r="3.05"/><circle cx="1770.3" cy="460" r="3.05"/><circle cx="1779.5" cy="460" r="3.05"/><circle cx="1788.7" cy="460" r="3.05"/><circle cx="1701.2" cy="467.9" r="3.05"/><circle cx="1710.4" cy="467.9" r="3.05"/><circle cx="1719.6" cy="467.9" r="3.05"/><circle cx="1728.8" cy="467.9" r="3.05"/><circle cx="1738" cy="467.9" r="3.05"/><circle cx="1747.2" cy="467.9" r="3.05"/><circle cx="1756.4" cy="467.9" r="3.05"/><circle cx="1765.7" cy="467.9" r="3.05"/><circle cx="1774.9" cy="467.9" r="3.05"/><circle cx="1784.1" cy="467.9" r="3.05"/><circle cx="1696.6" cy="475.7" r="3.05"/><circle cx="1705.8" cy="475.7" r="3.05"/><circle cx="1715" cy="475.7" r="3.05"/><circle cx="1724.2" cy="475.7" r="3.05"/><circle cx="1733.4" cy="475.7" r="3.05"/><circle cx="1742.6" cy="475.7" r="3.05"/><circle cx="1751.8" cy="475.7" r="3.05"/><circle cx="1761.1" cy="475.7" r="3.05"/><circle cx="1770.3" cy="475.7" r="3.05"/><circle cx="1779.5" cy="475.7" r="3.05"/><circle cx="1701.2" cy="483.6" r="3.05"/><circle cx="1710.4" cy="483.6" r="3.05"/><circle cx="1719.6" cy="483.6" r="3.05"/><circle cx="1728.8" cy="483.6" r="3.05"/><circle cx="1738" cy="483.6" r="3.05"/><circle cx="1747.2" cy="483.6" r="3.05"/><circle cx="1756.4" cy="483.6" r="3.05"/><circle cx="1765.7" cy="483.6" r="3.05"/><circle cx="1774.9" cy="483.6" r="3.05"/><circle cx="1705.8" cy="491.5" r="3.05"/><circle cx="1715" cy="491.5" r="3.05"/><circle cx="1724.2" cy="491.5" r="3.05"/><circle cx="1733.4" cy="491.5" r="3.05"/><circle cx="1742.6" cy="491.5" r="3.05"/><circle cx="1751.8" cy="491.5" r="3.05"/><circle cx="1761.1" cy="491.5" r="3.05"/><circle cx="1770.3" cy="491.5" r="3.05"/><circle cx="1710.4" cy="499.3" r="3.05"/><circle cx="1719.6" cy="499.3" r="3.05"/><circle cx="1728.8" cy="499.3" r="3.05"/><circle cx="1738" cy="499.3" r="3.05"/><circle cx="1747.2" cy="499.3" r="3.05"/><circle cx="1756.4" cy="499.3" r="3.05"/><circle cx="1765.7" cy="499.3" r="3.05"/><circle cx="1774.9" cy="499.3" r="3.05"/><circle cx="1705.8" cy="507.2" r="3.05"/><circle cx="1715" cy="507.2" r="3.05"/><circle cx="1724.2" cy="507.2" r="3.05"/><circle cx="1733.4" cy="507.2" r="3.05"/><circle cx="1742.6" cy="507.2" r="3.05"/><circle cx="1751.8" cy="507.2" r="3.05"/><circle cx="1761.1" cy="507.2" r="3.05"/><circle cx="1770.3" cy="507.2" r="3.05"/><circle cx="1710.4" cy="515" r="3.05"/><circle cx="1719.6" cy="515" r="3.05"/><circle cx="1728.8" cy="515" r="3.05"/><circle cx="1738" cy="515" r="3.05"/><circle cx="1747.2" cy="515" r="3.05"/><circle cx="1756.4" cy="515" r="3.05"/><circle cx="1765.7" cy="515" r="3.05"/><circle cx="1715" cy="522.9" r="3.05"/><circle cx="1724.2" cy="522.9" r="3.05"/><circle cx="1733.4" cy="522.9" r="3.05"/><circle cx="1742.6" cy="522.9" r="3.05"/><circle cx="1751.8" cy="522.9" r="3.05"/><circle cx="1761.1" cy="522.9" r="3.05"/><circle cx="1719.6" cy="530.7" r="3.05"/><circle cx="1728.8" cy="530.7" r="3.05"/><circle cx="1738" cy="530.7" r="3.05"/><circle cx="1747.2" cy="530.7" r="3.05"/><circle cx="1756.4" cy="530.7" r="3.05"/><circle cx="1724.2" cy="538.6" r="3.05"/><circle cx="1733.4" cy="538.6" r="3.05"/><circle cx="1742.6" cy="538.6" r="3.05"/><circle cx="1751.8" cy="538.6" r="3.05"/><circle cx="1738" cy="546.5" r="3.05"/><circle cx="1747.2" cy="546.5" r="3.05"/><circle cx="1742.6" cy="554.3" r="3.05"/>
</g>
<g fill="#ffa500">
<circle cx="1857.5" cy="223" r="4.3"/><circle cx="1872.5" cy="223" r="4.3"/><circle cx="1863.1" cy="229.1" r="4.3"/><circle cx="1880.3" cy="229.9" r="4.3"/><circle cx="1869.9" cy="233.6" r="4.3"/><circle cx="1877.1" cy="236.2" r="4.3"/><circle cx="1869.5" cy="241" r="4.3"/><circle cx="1885.9" cy="240.1" r="4.3"/><circle cx="1879.7" cy="247.3" r="4.3"/><circle cx="1871.8" cy="252.6" r="4.3"/><circle cx="1876.5" cy="251.6" r="4.3"/><circle cx="1886.8" cy="253.5" r="4.3"/><circle cx="1872.8" cy="260" r="4.3"/><circle cx="1877.1" cy="261.6" r="4.3"/><circle cx="1888.7" cy="260.2" r="4.3"/><circle cx="1892.5" cy="263.5" r="4.3"/><circle cx="1877.4" cy="268.2" r="4.3"/><circle cx="1889.4" cy="269.4" r="4.3"/><circle cx="1897" cy="268.8" r="4.3"/><circle cx="1886.4" cy="276.4" r="4.3"/><circle cx="1892.3" cy="277.6" r="4.3"/><circle cx="1898.8" cy="275.9" r="4.3"/><circle cx="1892.5" cy="282" r="4.3"/>
</g>
<g fill="none" stroke="#000" stroke-opacity="0.62" stroke-width="0.9" stroke-linejoin="round">
<path d="M1878.7,298.2 1824.8,209.8 1523.8,145.7 1523.7,145.7 1523.6,146 1523.4,146.6 1523.2,147.5 1522.9,148.6 1522.6,150 1522.3,151.7 1522,153.6 1521.7,155.8 1521.5,158.2 1521.4,160.9 1521.4,163.8 1521.5,166.9 1521.8,170.3 1522.3,173.9 1523,177.8 1523.9,181.8 1525.1,186.1 1526.7,190.6 1528.5,195.3 1530.6,200.2 1533.1,205.3 1535.9,210.5 1539.1,216 1542.6,221.6 1546.5,227.4 1550.6,233.4 1555.1,239.5 1559.9,245.7 1564.9,252.1 1570.1,258.6 1575.5,265.3 1581,272 1586.6,278.9 1592.3,285.9 1597.9,292.9 1603.5,300 1609.1,307.2 1614.5,314.5 1619.8,321.8 1625,329.2 1630,336.6 1634.8,344 1639.4,351.5 1643.8,358.9 1647.9,366.4 1651.7,373.8 1655.3,381.2 1658.7,388.6 1661.7,395.9 1664.6,403.3 1667.2,410.5 1669.7,417.7 1672,424.8 1674.1,431.8 1676.1,438.7 1678,445.6 1679.8,452.3 1681.5,458.9 1683.2,465.3 1684.8,471.7 1686.3,477.9 1687.8,483.9 1689.3,489.8 1690.8,495.5 1692.3,501.1 1693.8,506.4 1695.4,511.6 1697.1,516.6 1699,521.4 1701.1,525.9 1703.4,530.3 1705.8,534.4 1708.4,538.4 1711.2,542.1 1714,545.5 1717,548.7 1719.9,551.7 1722.9,554.5 1725.8,556.9 1728.7,559.2 1731.4,561.1 1733.9,562.9 1736.1,564.3 1738,565.5 1739.6,566.4 1740.6,567.1 1741.1,567.5 1741.1,567.6Z"/>
<path d="M1878.8,297.9 1824.6,209.9 1518.3,145.2 1518.2,144.9 1518.1,145.1 1517.9,145.6 1517.7,146.4 1517.4,147.5 1517.1,148.8 1516.8,150.5 1516.5,152.4 1516.2,154.6 1516,157 1515.8,159.7 1515.8,162.6 1515.9,165.8 1516.2,169.2 1516.7,172.8 1517.4,176.7 1518.3,180.8 1519.6,185.1 1521.1,189.6 1523,194.4 1525.1,199.3 1527.7,204.4 1530.5,209.7 1533.8,215.3 1537.4,220.9 1541.3,226.8 1545.6,232.8 1550.2,239 1555.1,245.3 1560.3,251.8 1565.7,258.4 1571.2,265.1 1577,271.9 1582.8,278.8 1588.6,285.9 1594.5,293 1600.3,300.2 1606.1,307.5 1611.8,314.8 1617.3,322.2 1622.7,329.6 1627.9,337 1632.8,344.5 1637.5,352 1642,359.5 1646.3,366.9 1650.2,374.4 1653.9,381.8 1657.4,389.2 1660.6,396.6 1663.5,403.9 1666.3,411.1 1668.8,418.2 1671.2,425.3 1673.5,432.3 1675.6,439.1 1677.6,445.9 1679.5,452.5 1681.3,459 1683.1,465.4 1684.8,471.7 1686.4,477.7 1688.1,483.7 1689.7,489.4 1691.2,495 1692.8,500.4 1694.4,505.7 1696.1,510.7 1697.9,515.6 1699.8,520.2 1701.9,524.6 1704.3,528.9 1706.7,532.9 1709.4,536.6 1712.2,540.2 1715.1,543.5 1718.1,546.6 1721.1,549.5 1724.1,552.1 1727.1,554.5 1730,556.6 1732.8,558.5 1735.4,560.2 1737.7,561.6 1739.7,562.7 1741.4,563.6 1742.6,564.2 1743.4,564.6 1743.8,564.7Z"/>
<path d="M1878.7,297.8 1824.6,209.6 1513.7,144.1 1513.7,143.9 1513.6,144 1513.5,144.5 1513.3,145.3 1513,146.4 1512.8,147.8 1512.5,149.5 1512.2,151.5 1512,153.7 1511.9,156.1 1511.9,158.8 1511.9,161.8 1512.2,165 1512.6,168.4 1513.2,172.1 1514,176 1515.1,180.2 1516.4,184.5 1518.1,189.1 1520.1,193.9 1522.4,198.9 1525.1,204 1528.1,209.4 1531.5,214.9 1535.2,220.7 1539.3,226.6 1543.7,232.6 1548.5,238.8 1553.5,245.2 1558.8,251.7 1564.3,258.3 1570.1,265 1575.9,271.9 1581.8,278.8 1587.8,285.9 1593.8,293 1599.7,300.2 1605.5,307.5 1611.3,314.8 1616.9,322.2 1622.3,329.6 1627.6,337.1 1632.6,344.6 1637.3,352 1641.8,359.5 1646.1,367 1650.1,374.5 1653.8,381.9 1657.3,389.3 1660.5,396.6 1663.5,403.9 1666.2,411.1 1668.8,418.3 1671.2,425.3 1673.5,432.3 1675.6,439.1 1677.6,445.9 1679.5,452.5 1681.3,459.1 1683.1,465.4 1684.8,471.7 1686.4,477.8 1688,483.7 1689.6,489.5 1691.2,495.1 1692.8,500.5 1694.4,505.7 1696.1,510.8 1697.8,515.6 1699.8,520.3 1701.9,524.7 1704.2,529 1706.7,533 1709.3,536.8 1712.1,540.4 1715,543.7 1718,546.8 1721,549.7 1724,552.3 1727,554.7 1729.9,556.9 1732.6,558.8 1735.2,560.4 1737.5,561.8 1739.5,563 1741,563.9 1742.2,564.5 1742.9,564.9 1743,565Z"/>
<path d="M1878.7,297.8 1824.7,209.4 1510.9,144.3 1510.9,143.8 1510.8,143.8 1510.7,144.2 1510.5,144.9 1510.4,146 1510.2,147.4 1510.1,149 1509.9,151 1509.9,153.2 1509.9,155.7 1510,158.4 1510.2,161.4 1510.6,164.7 1511.2,168.2 1512,171.9 1513,175.8 1514.3,180 1515.8,184.4 1517.7,189 1519.9,193.8 1522.4,198.8 1525.3,204.1 1528.5,209.4 1532,215 1535.9,220.8 1540.1,226.7 1544.7,232.7 1549.6,238.9 1554.7,245.3 1560.1,251.8 1565.7,258.4 1571.5,265.1 1577.4,271.9 1583.3,278.9 1589.3,285.9 1595.2,293 1601.1,300.2 1606.9,307.4 1612.6,314.7 1618.2,322.1 1623.6,329.4 1628.7,336.9 1633.7,344.3 1638.4,351.7 1642.9,359.2 1647.1,366.6 1651,374.1 1654.7,381.5 1658.1,388.9 1661.2,396.2 1664.1,403.5 1666.8,410.7 1669.3,417.9 1671.7,425 1673.9,432 1675.9,438.9 1677.8,445.7 1679.6,452.4 1681.4,459 1683.1,465.5 1684.7,471.8 1686.2,478 1687.7,484 1689.3,489.9 1690.8,495.6 1692.3,501.1 1693.8,506.5 1695.4,511.7 1697.1,516.6 1699,521.4 1701.1,526 1703.3,530.4 1705.8,534.5 1708.4,538.5 1711.1,542.2 1714,545.6 1716.9,548.9 1719.9,551.8 1722.8,554.6 1725.8,557.1 1728.6,559.3 1731.3,561.3 1733.9,563 1736.1,564.5 1738.1,565.7 1739.6,566.6 1740.7,567.3 1741.3,567.7 1741.4,567.8Z"/>
<path d="M1878.7,297.7 1824.6,210.1 1508.9,143.2 1508.9,142.9 1508.8,143 1508.7,143.5 1508.5,144.3 1508.4,145.4 1508.2,146.8 1508,148.5 1507.9,150.5 1507.8,152.7 1507.8,155.2 1507.9,158 1508.1,161 1508.5,164.2 1509,167.7 1509.8,171.5 1510.8,175.4 1512.1,179.6 1513.6,184 1515.5,188.6 1517.7,193.5 1520.2,198.5 1523,203.7 1526.2,209.1 1529.8,214.7 1533.7,220.5 1537.9,226.4 1542.5,232.5 1547.4,238.7 1552.6,245.1 1558,251.6 1563.7,258.2 1569.5,265 1575.5,271.9 1581.5,278.8 1587.5,285.9 1593.6,293 1599.5,300.2 1605.4,307.5 1611.2,314.8 1616.8,322.2 1622.3,329.6 1627.5,337.1 1632.5,344.6 1637.3,352.1 1641.8,359.5 1646.1,367 1650,374.5 1653.7,381.9 1657.2,389.3 1660.4,396.7 1663.3,404 1666,411.2 1668.6,418.4 1670.9,425.5 1673.1,432.5 1675.2,439.4 1677.2,446.2 1679,452.9 1680.8,459.5 1682.5,466 1684.1,472.3 1685.7,478.5 1687.3,484.5 1688.8,490.3 1690.4,496 1691.9,501.5 1693.5,506.9 1695.1,512 1696.9,517 1698.8,521.8 1700.9,526.3 1703.1,530.6 1705.6,534.8 1708.3,538.7 1711,542.3 1713.9,545.8 1716.9,549 1719.8,552 1722.8,554.7 1725.7,557.1 1728.6,559.4 1731.3,561.3 1733.9,563 1736.2,564.5 1738.1,565.7 1739.7,566.6 1740.8,567.3 1741.5,567.7 1741.7,567.8Z"/>
<path d="M1879,297.9 1824.6,209.7 1510.5,143.4 1510.5,143.2 1510.4,143.3 1510.2,143.8 1510.1,144.6 1509.8,145.7 1509.6,147.1 1509.3,148.8 1509.1,150.8 1508.9,153 1508.8,155.5 1508.8,158.2 1508.9,161.2 1509.2,164.4 1509.6,167.8 1510.2,171.5 1511.1,175.5 1512.2,179.6 1513.6,184 1515.3,188.6 1517.3,193.4 1519.7,198.4 1522.4,203.6 1525.5,209 1528.9,214.6 1532.7,220.3 1536.8,226.3 1541.3,232.3 1546,238.6 1551.1,245 1556.5,251.5 1562.1,258.1 1567.8,264.9 1573.7,271.8 1579.7,278.8 1585.7,285.9 1591.8,293.1 1597.7,300.3 1603.7,307.6 1609.5,315 1615.1,322.5 1620.6,329.9 1625.9,337.4 1630.9,345 1635.7,352.5 1640.2,360.1 1644.4,367.6 1648.4,375.1 1652.1,382.6 1655.5,390.1 1658.7,397.5 1661.7,404.9 1664.4,412.2 1666.9,419.4 1669.3,426.6 1671.5,433.7 1673.6,440.6 1675.6,447.5 1677.4,454.3 1679.2,460.9 1680.9,467.4 1682.6,473.7 1684.2,480 1685.8,486 1687.4,491.9 1689,497.6 1690.5,503.2 1692.1,508.5 1693.8,513.7 1695.6,518.7 1697.6,523.5 1699.8,528 1702.1,532.4 1704.6,536.5 1707.3,540.4 1710.1,544.1 1713,547.5 1715.9,550.7 1718.9,553.7 1721.9,556.4 1724.9,558.9 1727.7,561.1 1730.5,563.1 1733,564.8 1735.2,566.2 1737.2,567.4 1738.7,568.3 1739.8,569 1740.3,569.4 1740.4,569.5Z"/>
<path d="M1878.6,297.9 1824.6,209.9 1509.7,143.3 1509.7,143.1 1509.6,143.2 1509.5,143.7 1509.3,144.5 1509.1,145.6 1508.9,147 1508.7,148.7 1508.5,150.6 1508.4,152.9 1508.3,155.3 1508.4,158.1 1508.5,161.1 1508.9,164.3 1509.4,167.8 1510.1,171.5 1511,175.5 1512.2,179.6 1513.7,184 1515.4,188.6 1517.5,193.4 1520,198.5 1522.7,203.7 1525.9,209.1 1529.3,214.6 1533.2,220.4 1537.4,226.3 1541.9,232.4 1546.7,238.6 1551.8,245 1557.2,251.5 1562.8,258.2 1568.5,264.9 1574.5,271.8 1580.4,278.8 1586.5,285.9 1592.5,293 1598.4,300.3 1604.3,307.6 1610.1,315 1615.7,322.4 1621.2,329.8 1626.4,337.3 1631.4,344.9 1636.1,352.4 1640.6,359.9 1644.8,367.5 1648.8,375 1652.5,382.5 1655.9,389.9 1659,397.4 1661.9,404.7 1664.6,412.1 1667.1,419.3 1669.5,426.5 1671.7,433.6 1673.7,440.6 1675.6,447.5 1677.4,454.3 1679.2,460.9 1680.9,467.5 1682.5,473.9 1684.1,480.1 1685.6,486.2 1687.1,492.2 1688.7,497.9 1690.2,503.6 1691.8,509 1693.5,514.2 1695.2,519.2 1697.2,524.1 1699.3,528.7 1701.6,533.1 1704.1,537.3 1706.8,541.3 1709.6,545 1712.5,548.5 1715.4,551.8 1718.4,554.8 1721.3,557.6 1724.3,560.1 1727.2,562.4 1729.9,564.4 1732.5,566.1 1734.8,567.6 1736.8,568.8 1738.4,569.7 1739.7,570.4 1740.5,570.8 1740.9,570.9Z"/>
<path d="M1878.7,297.7 1824.6,210.2 1516.9,144.8 1516.8,144.6 1516.7,144.7 1516.5,145.2 1516.2,146 1515.8,147.1 1515.4,148.4 1515,150.1 1514.5,152 1514.1,154.1 1513.8,156.5 1513.5,159.2 1513.3,162.1 1513.2,165.2 1513.3,168.6 1513.6,172.2 1514.1,176.1 1514.9,180.1 1515.9,184.4 1517.3,188.9 1518.9,193.7 1520.9,198.6 1523.2,203.7 1525.9,209.1 1529,214.6 1532.4,220.3 1536.2,226.2 1540.3,232.2 1544.8,238.5 1549.6,244.8 1554.7,251.4 1560.1,258 1565.6,264.8 1571.4,271.7 1577.2,278.8 1583.1,285.9 1589.1,293.1 1595,300.4 1600.9,307.8 1606.7,315.3 1612.3,322.8 1617.8,330.4 1623.1,338 1628.1,345.6 1632.9,353.3 1637.4,361 1641.6,368.6 1645.6,376.3 1649.3,383.9 1652.7,391.5 1655.9,399 1658.8,406.5 1661.6,413.9 1664.1,421.3 1666.5,428.5 1668.7,435.7 1670.8,442.8 1672.8,449.7 1674.7,456.6 1676.5,463.3 1678.3,469.9 1680,476.3 1681.6,482.6 1683.3,488.7 1684.9,494.6 1686.5,500.4 1688.2,505.9 1689.9,511.3 1691.7,516.5 1693.6,521.5 1695.7,526.3 1697.9,530.9 1700.3,535.2 1702.9,539.3 1705.7,543.2 1708.5,546.9 1711.5,550.3 1714.5,553.5 1717.5,556.5 1720.5,559.2 1723.5,561.6 1726.4,563.8 1729.1,565.8 1731.7,567.5 1733.9,568.9 1735.9,570.1 1737.4,571 1738.5,571.6 1739.1,572 1739.2,572.2Z"/>
<path d="M1878.6,297.8 1824.7,209.9 1504.7,142 1504.7,141.8 1504.6,141.9 1504.5,142.5 1504.3,143.3 1504.1,144.4 1503.9,145.8 1503.7,147.5 1503.6,149.5 1503.5,151.8 1503.4,154.3 1503.5,157 1503.7,160 1504,163.3 1504.5,166.8 1505.3,170.6 1506.3,174.5 1507.5,178.7 1509,183.2 1510.8,187.8 1513,192.7 1515.4,197.7 1518.3,203 1521.4,208.4 1525,214 1528.9,219.9 1533.1,225.8 1537.7,232 1542.7,238.2 1547.9,244.7 1553.4,251.3 1559.1,258 1565,264.8 1571,271.7 1577.2,278.8 1583.3,285.9 1589.5,293.1 1595.6,300.4 1601.6,307.8 1607.6,315.2 1613.3,322.7 1618.9,330.2 1624.2,337.8 1629.3,345.4 1634.1,352.9 1638.7,360.5 1643,368.1 1647,375.7 1650.7,383.3 1654.1,390.8 1657.3,398.3 1660.2,405.7 1663,413.1 1665.5,420.4 1667.9,427.6 1670.1,434.7 1672.1,441.8 1674.1,448.7 1675.9,455.5 1677.7,462.2 1679.4,468.8 1681,475.2 1682.6,481.5 1684.2,487.7 1685.8,493.6 1687.3,499.5 1688.9,505.1 1690.6,510.5 1692.3,515.8 1694.1,520.8 1696.1,525.7 1698.3,530.3 1700.6,534.8 1703.1,539 1705.8,542.9 1708.6,546.7 1711.5,550.2 1714.5,553.5 1717.5,556.5 1720.5,559.3 1723.4,561.8 1726.3,564.1 1729,566.1 1731.5,567.8 1733.8,569.3 1735.8,570.5 1737.3,571.4 1738.5,572.1 1739.1,572.5 1739.3,572.7Z"/>
<path d="M1878.8,297.7 1824.8,209.8 1507,142.2 1507,142.1 1506.9,142.3 1506.7,142.9 1506.5,143.7 1506.2,144.8 1505.9,146.3 1505.6,147.9 1505.4,149.9 1505.1,152.1 1504.9,154.6 1504.8,157.3 1504.9,160.3 1505,163.5 1505.4,167 1505.9,170.7 1506.7,174.6 1507.8,178.8 1509.1,183.2 1510.7,187.8 1512.6,192.6 1514.9,197.6 1517.6,202.9 1520.6,208.3 1523.9,213.9 1527.7,219.7 1531.8,225.7 1536.2,231.8 1541,238.1 1546.1,244.5 1551.5,251.1 1557.2,257.8 1563,264.7 1569,271.6 1575.1,278.7 1581.3,285.9 1587.4,293.2 1593.6,300.5 1599.7,307.9 1605.6,315.4 1611.4,322.9 1617.1,330.5 1622.5,338.1 1627.6,345.8 1632.5,353.4 1637,361.1 1641.4,368.7 1645.4,376.3 1649.1,383.9 1652.6,391.5 1655.8,399 1658.8,406.5 1661.6,413.9 1664.2,421.2 1666.6,428.5 1668.8,435.6 1671,442.7 1673,449.6 1674.9,456.4 1676.7,463.1 1678.5,469.7 1680.2,476.1 1681.8,482.3 1683.5,488.4 1685.1,494.4 1686.7,500.1 1688.4,505.7 1690.1,511.1 1691.9,516.3 1693.8,521.3 1695.8,526 1698.1,530.6 1700.5,535 1703.1,539.1 1705.8,543 1708.6,546.7 1711.6,550.1 1714.6,553.3 1717.6,556.3 1720.6,559 1723.6,561.5 1726.4,563.7 1729.2,565.6 1731.7,567.3 1734,568.8 1735.9,569.9 1737.5,570.9 1738.6,571.5 1739.2,571.9 1739.2,572Z"/>
<path d="M1878.5,297.9 1824.2,210 1507.8,143.1 1507.8,142.8 1507.7,142.8 1507.5,143.3 1507.2,144 1506.9,145.1 1506.6,146.5 1506.2,148.1 1505.9,150 1505.5,152.2 1505.3,154.7 1505.1,157.4 1505,160.3 1505.1,163.5 1505.3,167 1505.8,170.7 1506.4,174.6 1507.4,178.7 1508.6,183.1 1510.1,187.7 1511.9,192.5 1514.1,197.5 1516.6,202.7 1519.5,208.1 1522.8,213.7 1526.4,219.5 1530.4,225.5 1534.8,231.6 1539.5,237.9 1544.6,244.4 1549.9,251 1555.5,257.7 1561.3,264.6 1567.3,271.6 1573.4,278.7 1579.6,285.9 1585.8,293.2 1592,300.6 1598.1,308 1604.1,315.6 1610,323.1 1615.6,330.8 1621.1,338.4 1626.2,346.1 1631.1,353.8 1635.8,361.5 1640.1,369.2 1644.2,376.8 1647.9,384.5 1651.4,392.1 1654.7,399.6 1657.7,407.1 1660.5,414.6 1663.1,421.9 1665.5,429.2 1667.8,436.4 1670,443.4 1672,450.4 1674,457.2 1675.8,463.9 1677.6,470.4 1679.4,476.8 1681.1,483.1 1682.8,489.2 1684.4,495.1 1686.1,500.8 1687.8,506.4 1689.6,511.7 1691.4,516.9 1693.4,521.9 1695.5,526.6 1697.7,531.1 1700.2,535.5 1702.8,539.6 1705.6,543.4 1708.4,547.1 1711.4,550.5 1714.4,553.6 1717.5,556.5 1720.5,559.2 1723.5,561.6 1726.4,563.8 1729.2,565.8 1731.8,567.4 1734.1,568.8 1736.1,570 1737.7,570.9 1738.9,571.6 1739.7,572 1740,572.1Z"/>
<path d="M1878.8,297.8 1824.8,210.1 1502.8,141.3 1502.8,141.2 1502.7,141.4 1502.6,141.9 1502.4,142.8 1502.3,143.9 1502.1,145.4 1501.9,147.1 1501.7,149.1 1501.6,151.3 1501.6,153.9 1501.6,156.6 1501.8,159.7 1502.2,162.9 1502.7,166.4 1503.4,170.2 1504.4,174.2 1505.6,178.4 1507.1,182.8 1508.9,187.5 1511.1,192.4 1513.5,197.4 1516.4,202.7 1519.5,208.1 1523.1,213.8 1527,219.6 1531.2,225.6 1535.8,231.8 1540.8,238.1 1546,244.5 1551.5,251.1 1557.2,257.8 1563.2,264.7 1569.2,271.7 1575.4,278.7 1581.6,285.9 1587.8,293.2 1593.9,300.5 1600,307.9 1606,315.4 1611.8,322.9 1617.4,330.5 1622.7,338.1 1627.8,345.7 1632.6,353.4 1637.2,361 1641.5,368.7 1645.4,376.3 1649.1,383.9 1652.6,391.5 1655.7,399.1 1658.6,406.6 1661.3,414.1 1663.8,421.4 1666.2,428.8 1668.3,436 1670.4,443.1 1672.3,450.1 1674.1,457.1 1675.8,463.9 1677.5,470.5 1679.1,477.1 1680.7,483.5 1682.3,489.7 1683.8,495.8 1685.4,501.7 1687,507.4 1688.6,512.9 1690.3,518.3 1692.2,523.5 1694.2,528.4 1696.4,533.1 1698.8,537.7 1701.4,542 1704.1,546 1706.9,549.9 1709.8,553.4 1712.8,556.8 1715.7,559.9 1718.7,562.7 1721.6,565.3 1724.4,567.6 1727.1,569.7 1729.6,571.5 1731.9,573 1733.7,574.2 1735.2,575.2 1736.2,575.9 1736.7,576.3 1736.6,576.4Z"/>
<path d="M1878.7,297.6 1824.6,209.7 1502.6,140.7 1502.5,140.7 1502.4,141 1502.3,141.7 1502.1,142.6 1501.8,143.7 1501.5,145.2 1501.3,146.9 1501,148.9 1500.8,151.1 1500.6,153.6 1500.6,156.4 1500.6,159.4 1500.8,162.6 1501.2,166.1 1501.8,169.9 1502.6,173.8 1503.7,178 1505,182.5 1506.7,187.1 1508.7,191.9 1511,197 1513.7,202.3 1516.8,207.7 1520.2,213.4 1524,219.2 1528.2,225.2 1532.7,231.4 1537.6,237.7 1542.8,244.2 1548.2,250.9 1554,257.6 1559.9,264.5 1566,271.6 1572.3,278.7 1578.5,285.9 1584.8,293.2 1591.1,300.6 1597.3,308.1 1603.4,315.6 1609.3,323.2 1615,330.9 1620.5,338.5 1625.7,346.2 1630.6,353.9 1635.2,361.7 1639.6,369.4 1643.6,377 1647.4,384.7 1650.9,392.3 1654.1,399.9 1657.1,407.5 1659.9,414.9 1662.5,422.3 1664.9,429.6 1667.2,436.8 1669.3,443.9 1671.3,450.9 1673.2,457.8 1675,464.6 1676.8,471.2 1678.5,477.7 1680.2,484 1681.8,490.1 1683.5,496.1 1685.1,501.9 1686.8,507.6 1688.6,513 1690.4,518.3 1692.3,523.3 1694.4,528.1 1696.7,532.8 1699.1,537.2 1701.7,541.4 1704.5,545.3 1707.4,549 1710.3,552.5 1713.3,555.7 1716.3,558.7 1719.3,561.5 1722.3,564 1725.2,566.2 1727.9,568.2 1730.5,569.9 1732.8,571.3 1734.7,572.5 1736.3,573.5 1737.4,574.1 1738,574.5 1738.1,574.7Z"/>
<path d="M1878.7,297.8 1824.5,209.7 1494.8,139 1494.8,139 1494.7,139.3 1494.6,139.9 1494.4,140.8 1494.3,142 1494.1,143.5 1493.9,145.3 1493.8,147.3 1493.7,149.6 1493.7,152.1 1493.8,154.9 1494,158 1494.4,161.3 1495,164.9 1495.8,168.7 1496.8,172.7 1498.1,177 1499.7,181.5 1501.6,186.2 1503.8,191.1 1506.4,196.3 1509.3,201.6 1512.6,207.1 1516.3,212.9 1520.4,218.8 1524.8,224.8 1529.6,231.1 1534.7,237.5 1540.2,244 1545.9,250.7 1551.9,257.5 1558,264.4 1564.4,271.5 1570.8,278.7 1577.3,285.9 1583.7,293.3 1590.2,300.7 1596.5,308.2 1602.7,315.7 1608.8,323.3 1614.6,330.9 1620.1,338.6 1625.4,346.3 1630.4,354 1635.1,361.7 1639.5,369.4 1643.6,377.1 1647.4,384.7 1651,392.3 1654.2,399.9 1657.3,407.4 1660.1,414.8 1662.7,422.2 1665.1,429.5 1667.4,436.7 1669.5,443.8 1671.5,450.7 1673.5,457.6 1675.3,464.3 1677.1,470.9 1678.8,477.4 1680.5,483.7 1682.1,489.8 1683.8,495.8 1685.4,501.6 1687.1,507.2 1688.8,512.7 1690.6,517.9 1692.6,523 1694.6,527.8 1696.9,532.4 1699.3,536.8 1701.9,541 1704.7,545 1707.5,548.7 1710.5,552.2 1713.5,555.4 1716.5,558.4 1719.5,561.2 1722.5,563.7 1725.3,565.9 1728.1,567.9 1730.6,569.6 1732.9,571.1 1734.9,572.3 1736.5,573.2 1737.7,573.9 1738.4,574.3 1738.6,574.4Z"/>
<path d="M1878.6,297.9 1824.9,209.7 1498,141 1498,140.6 1497.9,140.6 1497.8,141.1 1497.6,141.8 1497.4,142.9 1497.2,144.3 1496.9,146 1496.7,148 1496.6,150.2 1496.5,152.8 1496.5,155.5 1496.6,158.6 1496.9,161.8 1497.4,165.4 1498.1,169.1 1499,173.1 1500.2,177.4 1501.6,181.8 1503.4,186.5 1505.5,191.4 1507.9,196.5 1510.7,201.8 1513.9,207.3 1517.4,213 1521.3,218.9 1525.6,224.9 1530.3,231.1 1535.3,237.5 1540.6,244 1546.2,250.7 1552,257.5 1558.1,264.4 1564.3,271.5 1570.6,278.7 1577,285.9 1583.4,293.3 1589.7,300.7 1596,308.2 1602.1,315.8 1608.1,323.4 1613.9,331.1 1619.4,338.8 1624.7,346.5 1629.6,354.2 1634.3,362 1638.6,369.7 1642.7,377.4 1646.5,385.1 1649.9,392.8 1653.2,400.4 1656.2,408 1658.9,415.5 1661.5,423 1663.9,430.3 1666.1,437.6 1668.2,444.8 1670.2,451.8 1672.1,458.8 1673.9,465.6 1675.6,472.3 1677.3,478.8 1679,485.2 1680.6,491.4 1682.2,497.5 1683.9,503.4 1685.5,509.1 1687.3,514.6 1689.1,519.9 1691.1,525.1 1693.2,530 1695.5,534.7 1697.9,539.1 1700.5,543.4 1703.3,547.4 1706.2,551.2 1709.1,554.8 1712.1,558.1 1715.1,561.1 1718.1,563.9 1721.1,566.4 1723.9,568.7 1726.6,570.7 1729.2,572.5 1731.4,574 1733.3,575.2 1734.9,576.2 1735.9,576.8 1736.5,577.3 1736.6,577.4Z"/>
<path d="M1878.8,297.8 1824.3,209.9 1493.3,139.3 1493.2,139.1 1493.2,139.2 1493,139.7 1492.8,140.6 1492.6,141.7 1492.4,143.2 1492.1,144.9 1491.9,146.9 1491.8,149.2 1491.7,151.7 1491.7,154.5 1491.8,157.5 1492.1,160.8 1492.5,164.4 1493.2,168.2 1494.1,172.2 1495.3,176.5 1496.8,181 1498.5,185.7 1500.7,190.6 1503.1,195.7 1506,201.1 1509.2,206.6 1512.8,212.4 1516.8,218.3 1521.1,224.4 1525.9,230.7 1530.9,237.1 1536.4,243.7 1542.1,250.4 1548.1,257.3 1554.3,264.3 1560.7,271.4 1567.2,278.6 1573.8,285.9 1580.4,293.3 1586.9,300.8 1593.4,308.4 1599.7,316 1605.9,323.7 1611.8,331.4 1617.5,339.1 1622.9,346.9 1628,354.7 1632.7,362.5 1637.2,370.2 1641.4,378 1645.2,385.7 1648.8,393.3 1652.2,401 1655.2,408.5 1658.1,416 1660.8,423.4 1663.2,430.8 1665.6,438 1667.8,445.1 1669.9,452.1 1671.8,459 1673.7,465.7 1675.6,472.3 1677.4,478.8 1679.1,485 1680.8,491.2 1682.6,497.1 1684.3,502.9 1686,508.5 1687.9,513.9 1689.7,519.1 1691.8,524.1 1693.9,528.9 1696.3,533.4 1698.8,537.8 1701.4,541.9 1704.2,545.8 1707.1,549.5 1710.1,552.9 1713.1,556.1 1716.2,559 1719.2,561.7 1722.2,564.2 1725.1,566.4 1727.8,568.3 1730.4,570 1732.7,571.5 1734.6,572.6 1736.2,573.5 1737.3,574.2 1737.9,574.6 1738,574.7Z"/>
<path d="M1879,297.7 1824.4,209.6 1493.5,139.4 1493.4,139.2 1493.4,139.3 1493.2,139.8 1493.1,140.7 1492.9,141.8 1492.7,143.3 1492.6,145 1492.4,147 1492.3,149.3 1492.3,151.8 1492.4,154.6 1492.6,157.7 1493,161 1493.6,164.6 1494.3,168.4 1495.4,172.4 1496.6,176.7 1498.2,181.2 1500.1,185.9 1502.3,190.9 1504.8,196 1507.7,201.4 1511,206.9 1514.7,212.6 1518.7,218.5 1523.1,224.6 1527.8,230.9 1532.9,237.3 1538.3,243.9 1544,250.6 1550,257.4 1556.1,264.4 1562.5,271.4 1568.9,278.6 1575.3,285.9 1581.8,293.3 1588.3,300.8 1594.6,308.3 1600.8,315.9 1606.9,323.5 1612.7,331.2 1618.3,339 1623.6,346.7 1628.5,354.5 1633.2,362.3 1637.6,370.1 1641.6,377.9 1645.4,385.6 1648.9,393.3 1652.1,401 1655.1,408.6 1657.8,416.2 1660.3,423.7 1662.7,431.1 1664.9,438.5 1667,445.7 1668.9,452.8 1670.8,459.9 1672.6,466.7 1674.3,473.5 1675.9,480.1 1677.5,486.6 1679.1,492.9 1680.7,499.1 1682.4,505.1 1684.1,510.9 1685.8,516.5 1687.6,521.9 1689.6,527.1 1691.7,532.1 1694,536.9 1696.5,541.5 1699.1,545.8 1701.9,549.9 1704.8,553.8 1707.7,557.4 1710.7,560.8 1713.7,563.9 1716.7,566.8 1719.6,569.4 1722.4,571.7 1725.2,573.8 1727.7,575.6 1729.9,577.1 1731.9,578.3 1733.4,579.3 1734.5,580 1735.2,580.4 1735.3,580.6Z"/>
<path d="M1878.8,297.8 1824.7,209.7 1489.9,138.6 1489.9,138.3 1489.8,138.5 1489.7,139 1489.6,139.9 1489.4,141 1489.2,142.5 1489.1,144.2 1488.9,146.2 1488.9,148.5 1488.9,151.1 1489,153.9 1489.2,157 1489.6,160.3 1490.2,163.9 1491,167.7 1492,171.8 1493.3,176.1 1494.9,180.6 1496.8,185.4 1499.1,190.3 1501.7,195.5 1504.6,200.9 1508,206.5 1511.7,212.2 1515.7,218.2 1520.2,224.3 1525,230.6 1530.2,237 1535.7,243.6 1541.5,250.4 1547.6,257.2 1553.9,264.2 1560.3,271.4 1566.8,278.6 1573.4,285.9 1580,293.3 1586.6,300.8 1593.1,308.4 1599.4,316 1605.6,323.7 1611.5,331.4 1617.2,339.2 1622.5,347 1627.6,354.8 1632.3,362.6 1636.7,370.4 1640.9,378.2 1644.7,385.9 1648.2,393.6 1651.5,401.3 1654.5,408.9 1657.3,416.5 1659.9,424 1662.3,431.4 1664.6,438.7 1666.7,445.9 1668.7,453 1670.6,460 1672.4,466.9 1674.2,473.6 1675.9,480.2 1677.6,486.6 1679.2,492.9 1680.9,499 1682.5,504.9 1684.2,510.6 1686,516.2 1687.9,521.5 1689.9,526.7 1692,531.6 1694.4,536.4 1696.9,540.9 1699.5,545.1 1702.3,549.2 1705.2,553 1708.1,556.6 1711.2,559.9 1714.2,563 1717.2,565.8 1720.1,568.3 1723,570.6 1725.7,572.7 1728.2,574.4 1730.5,575.9 1732.4,577.2 1734,578.1 1735.1,578.8 1735.7,579.2 1735.7,579.4Z"/>
<path d="M1879,297.8 1824.4,210 1484.5,136.9 1484.5,136.8 1484.4,137 1484.3,137.6 1484.2,138.5 1484.1,139.7 1484,141.2 1484,143 1483.9,145.1 1483.9,147.4 1484.1,150 1484.3,152.9 1484.7,156 1485.2,159.4 1485.9,163 1486.9,166.9 1488.1,171 1489.5,175.4 1491.3,180 1493.4,184.8 1495.8,189.8 1498.6,195 1501.7,200.4 1505.2,206.1 1509.1,211.9 1513.4,217.9 1518,224 1523.1,230.4 1528.4,236.8 1534.1,243.5 1540.1,250.3 1546.3,257.2 1552.7,264.2 1559.3,271.3 1566,278.6 1572.7,285.9 1579.4,293.4 1586.1,300.9 1592.7,308.4 1599.1,316.1 1605.3,323.8 1611.3,331.5 1617,339.2 1622.4,347 1627.5,354.8 1632.3,362.6 1636.7,370.4 1640.9,378.1 1644.8,385.9 1648.3,393.6 1651.6,401.3 1654.6,408.9 1657.4,416.4 1660.1,423.9 1662.5,431.3 1664.7,438.6 1666.9,445.8 1668.9,452.9 1670.8,459.9 1672.6,466.7 1674.4,473.4 1676.1,480 1677.7,486.4 1679.4,492.7 1681,498.8 1682.7,504.7 1684.4,510.5 1686.1,516 1688,521.4 1690,526.6 1692.1,531.5 1694.4,536.3 1696.9,540.8 1699.5,545.1 1702.3,549.1 1705.2,553 1708.2,556.6 1711.1,559.9 1714.1,563 1717.1,565.8 1720.1,568.4 1722.9,570.7 1725.7,572.7 1728.2,574.5 1730.4,576 1732.4,577.3 1733.9,578.2 1735,578.9 1735.6,579.3 1735.6,579.5Z"/>
<path d="M1878.6,298 1824.5,210.1 1483.9,136.4 1483.8,136.4 1483.8,136.8 1483.7,137.4 1483.6,138.3 1483.5,139.5 1483.4,141.1 1483.3,142.8 1483.3,144.9 1483.3,147.3 1483.4,149.9 1483.6,152.7 1484,155.9 1484.5,159.2 1485.2,162.9 1486.1,166.8 1487.3,170.9 1488.8,175.2 1490.5,179.8 1492.6,184.6 1495,189.6 1497.8,194.9 1500.9,200.3 1504.4,205.9 1508.3,211.8 1512.5,217.8 1517.1,223.9 1522.1,230.3 1527.5,236.8 1533.2,243.4 1539.1,250.2 1545.4,257.1 1551.8,264.1 1558.4,271.3 1565,278.6 1571.8,285.9 1578.5,293.4 1585.2,300.9 1591.8,308.5 1598.2,316.2 1604.5,323.9 1610.5,331.6 1616.2,339.4 1621.6,347.2 1626.7,355 1631.5,362.9 1635.9,370.7 1640.1,378.5 1643.9,386.3 1647.5,394 1650.7,401.7 1653.7,409.4 1656.5,417 1659.1,424.5 1661.5,431.9 1663.8,439.3 1665.9,446.5 1667.9,453.7 1669.8,460.7 1671.6,467.6 1673.3,474.4 1675,481 1676.7,487.5 1678.3,493.8 1679.9,500 1681.6,506 1683.3,511.8 1685.1,517.4 1686.9,522.8 1688.9,528 1691.1,533 1693.4,537.8 1695.9,542.4 1698.6,546.7 1701.4,550.8 1704.2,554.7 1707.2,558.3 1710.2,561.7 1713.2,564.8 1716.2,567.7 1719.1,570.3 1722,572.6 1724.7,574.7 1727.3,576.5 1729.6,578 1731.5,579.3 1733.2,580.3 1734.4,581 1735.2,581.4 1735.5,581.5Z"/>
<path d="M1878.9,297.6 1824.4,209.5 1483.3,135.7 1483.3,135.9 1483.2,136.3 1483.2,137.1 1483.1,138.1 1482.9,139.3 1482.8,140.9 1482.8,142.7 1482.7,144.8 1482.7,147.1 1482.9,149.7 1483.1,152.6 1483.5,155.8 1484,159.1 1484.7,162.8 1485.7,166.7 1486.9,170.8 1488.3,175.2 1490.1,179.7 1492.2,184.6 1494.6,189.6 1497.4,194.8 1500.5,200.3 1504,205.9 1507.9,211.7 1512.2,217.7 1516.8,223.9 1521.8,230.2 1527.2,236.7 1532.9,243.4 1538.9,250.2 1545.1,257.1 1551.5,264.1 1558.1,271.3 1564.8,278.6 1571.6,285.9 1578.3,293.4 1585,300.9 1591.6,308.5 1598.1,316.2 1604.3,323.9 1610.3,331.6 1616.1,339.4 1621.5,347.2 1626.6,355.1 1631.3,362.9 1635.8,370.7 1639.9,378.5 1643.8,386.3 1647.3,394.1 1650.6,401.8 1653.6,409.4 1656.4,417 1659,424.6 1661.4,432 1663.6,439.4 1665.7,446.6 1667.7,453.8 1669.6,460.8 1671.4,467.8 1673.2,474.5 1674.8,481.2 1676.5,487.7 1678.1,494 1679.7,500.2 1681.4,506.2 1683.1,512 1684.9,517.6 1686.7,523 1688.8,528.3 1690.9,533.3 1693.3,538.1 1695.7,542.7 1698.4,547 1701.2,551.1 1704.1,555 1707,558.7 1710,562 1713,565.2 1716,568 1719,570.7 1721.8,573 1724.6,575.1 1727.1,576.9 1729.4,578.4 1731.4,579.7 1733.1,580.7 1734.3,581.4 1735.2,581.8 1735.6,581.9Z"/>
<path d="M1878.8,297.8 1824.6,209.8 1483.2,137.6 1483.2,137.2 1483.1,137.2 1483.1,137.7 1482.9,138.5 1482.8,139.6 1482.7,141 1482.6,142.8 1482.6,144.8 1482.6,147.1 1482.7,149.7 1482.9,152.6 1483.2,155.7 1483.7,159.1 1484.4,162.7 1485.4,166.6 1486.5,170.7 1488,175.1 1489.7,179.7 1491.8,184.5 1494.2,189.5 1496.9,194.7 1500,200.2 1503.5,205.8 1507.3,211.6 1511.6,217.6 1516.2,223.8 1521.2,230.2 1526.5,236.7 1532.2,243.3 1538.2,250.1 1544.4,257 1550.8,264.1 1557.4,271.3 1564.1,278.6 1570.9,285.9 1577.6,293.4 1584.3,300.9 1590.9,308.6 1597.4,316.2 1603.6,324 1609.7,331.8 1615.4,339.6 1620.8,347.4 1625.9,355.3 1630.7,363.1 1635.1,371 1639.3,378.8 1643.1,386.6 1646.6,394.4 1649.9,402.2 1652.9,409.9 1655.7,417.5 1658.3,425 1660.7,432.5 1662.9,439.9 1665,447.2 1667,454.4 1668.8,461.5 1670.6,468.5 1672.4,475.3 1674,482 1675.7,488.5 1677.3,494.9 1678.9,501.1 1680.6,507.1 1682.3,512.9 1684.1,518.6 1686,524.1 1688,529.3 1690.2,534.4 1692.5,539.2 1695,543.8 1697.7,548.2 1700.5,552.4 1703.4,556.3 1706.3,559.9 1709.3,563.3 1712.3,566.5 1715.3,569.4 1718.2,572 1721,574.4 1723.7,576.5 1726.2,578.3 1728.4,579.8 1730.3,581.1 1731.7,582.1 1732.6,582.8 1733,583.2 1732.8,583.4Z"/>
<path d="M1878.8,297.9 1824.3,209.9 1487.9,137.7 1487.8,137.6 1487.7,137.8 1487.6,138.4 1487.4,139.3 1487.1,140.4 1486.9,141.9 1486.6,143.6 1486.3,145.6 1486.1,147.9 1486,150.4 1485.9,153.2 1486,156.3 1486.2,159.6 1486.6,163.2 1487.2,167 1488.1,171 1489.2,175.3 1490.6,179.8 1492.3,184.6 1494.3,189.5 1496.7,194.7 1499.5,200.1 1502.7,205.7 1506.2,211.5 1510.2,217.5 1514.5,223.6 1519.2,229.9 1524.3,236.4 1529.8,243.1 1535.5,249.9 1541.6,256.9 1547.9,264 1554.4,271.2 1561,278.5 1567.7,285.9 1574.4,293.5 1581.2,301.1 1587.8,308.8 1594.3,316.6 1600.6,324.4 1606.7,332.2 1612.5,340.2 1618,348.1 1623.1,356 1627.9,364 1632.4,371.9 1636.6,379.9 1640.5,387.8 1644,395.7 1647.3,403.5 1650.4,411.3 1653.2,419 1655.9,426.6 1658.3,434.1 1660.6,441.6 1662.8,448.9 1664.8,456.1 1666.8,463.2 1668.6,470.2 1670.4,477 1672.2,483.7 1673.9,490.2 1675.6,496.6 1677.4,502.7 1679.1,508.7 1681,514.5 1682.9,520.1 1684.9,525.5 1687,530.7 1689.3,535.7 1691.7,540.5 1694.3,545 1697.1,549.3 1699.9,553.3 1702.9,557.2 1705.9,560.7 1709,564.1 1712,567.1 1715,570 1718,572.5 1720.9,574.8 1723.6,576.8 1726.1,578.6 1728.4,580.1 1730.3,581.3 1731.8,582.3 1732.8,583 1733.4,583.4 1733.4,583.5Z"/>
<path d="M1878.9,297.9 1824.6,209.7 1485.7,137.7 1485.7,137.4 1485.6,137.6 1485.5,138.1 1485.3,138.9 1485.1,140 1484.9,141.5 1484.7,143.2 1484.5,145.2 1484.3,147.5 1484.3,150.1 1484.3,152.9 1484.4,156 1484.8,159.3 1485.3,162.9 1486,166.7 1486.9,170.8 1488.1,175.1 1489.6,179.7 1491.4,184.4 1493.6,189.4 1496.1,194.6 1499,200 1502.2,205.6 1505.9,211.4 1509.9,217.4 1514.3,223.6 1519.2,229.9 1524.3,236.4 1529.9,243.1 1535.7,249.9 1541.8,256.9 1548.2,264 1554.7,271.2 1561.3,278.5 1568.1,285.9 1574.8,293.5 1581.5,301.1 1588.2,308.8 1594.7,316.5 1601,324.3 1607.1,332.2 1612.9,340.1 1618.3,348 1623.5,355.9 1628.3,363.9 1632.7,371.8 1636.9,379.8 1640.7,387.7 1644.3,395.5 1647.6,403.4 1650.6,411.1 1653.4,418.9 1656,426.5 1658.4,434.1 1660.7,441.5 1662.8,448.9 1664.8,456.1 1666.7,463.3 1668.6,470.2 1670.4,477.1 1672.1,483.8 1673.8,490.4 1675.4,496.8 1677.1,503 1678.9,509 1680.7,514.9 1682.5,520.5 1684.5,526 1686.6,531.3 1688.9,536.3 1691.3,541.1 1693.9,545.7 1696.6,550.1 1699.5,554.2 1702.4,558.1 1705.4,561.7 1708.4,565.1 1711.5,568.2 1714.5,571.1 1717.4,573.7 1720.3,576 1723,578.1 1725.5,579.9 1727.7,581.4 1729.6,582.6 1731.2,583.6 1732.2,584.3 1732.7,584.7 1732.7,584.9Z"/>
<path d="M1878.7,297.9 1824.6,209.5 1476.6,134.6 1476.6,134.7 1476.5,135 1476.4,135.7 1476.3,136.6 1476.1,137.8 1475.9,139.3 1475.8,141.1 1475.7,143.2 1475.6,145.5 1475.6,148.2 1475.7,151 1476,154.2 1476.4,157.6 1477,161.2 1477.9,165.1 1478.9,169.3 1480.3,173.6 1482,178.3 1483.9,183.1 1486.3,188.2 1489,193.5 1492,199 1495.5,204.6 1499.4,210.5 1503.6,216.6 1508.3,222.9 1513.4,229.3 1518.8,235.9 1524.6,242.7 1530.7,249.6 1537.1,256.6 1543.8,263.8 1550.6,271.1 1557.6,278.4 1564.6,285.9 1571.7,293.5 1578.7,301.2 1585.6,308.9 1592.4,316.8 1598.9,324.6 1605.2,332.5 1611.2,340.4 1616.9,348.4 1622.1,356.3 1627.1,364.3 1631.7,372.2 1636,380.1 1640,388 1643.7,395.8 1647.1,403.6 1650.3,411.3 1653.2,419 1655.9,426.6 1658.5,434 1660.8,441.4 1663.1,448.7 1665.2,455.8 1667.2,462.8 1669.2,469.7 1671.1,476.4 1672.9,483 1674.7,489.4 1676.5,495.7 1678.3,501.8 1680.1,507.6 1682,513.3 1683.9,518.8 1685.9,524.1 1688.1,529.2 1690.4,534.1 1692.8,538.8 1695.4,543.2 1698.2,547.4 1701,551.4 1704,555.1 1707.1,558.6 1710.1,561.9 1713.2,564.9 1716.2,567.6 1719.2,570.1 1722.1,572.4 1724.9,574.3 1727.4,576.1 1729.7,577.5 1731.7,578.7 1733.3,579.6 1734.4,580.3 1735.1,580.7 1735.2,580.8Z"/>
<path d="M1878.7,297.4 1824.6,209.4 1477.4,135.4 1477.4,135.2 1477.4,135.5 1477.3,136 1477.1,136.9 1477,138.1 1476.9,139.6 1476.8,141.4 1476.7,143.5 1476.6,145.8 1476.7,148.4 1476.9,151.3 1477.2,154.4 1477.7,157.8 1478.3,161.5 1479.2,165.4 1480.3,169.5 1481.8,173.9 1483.5,178.5 1485.5,183.4 1487.9,188.4 1490.6,193.7 1493.7,199.2 1497.2,204.9 1501,210.8 1505.3,216.8 1510,223.1 1515,229.5 1520.4,236.1 1526.2,242.8 1532.2,249.7 1538.6,256.7 1545.1,263.8 1551.9,271.1 1558.8,278.5 1565.7,285.9 1572.6,293.5 1579.6,301.2 1586.4,308.9 1593,316.7 1599.5,324.5 1605.7,332.4 1611.6,340.3 1617.1,348.3 1622.3,356.3 1627.2,364.2 1631.7,372.2 1635.9,380.1 1639.8,388.1 1643.4,396 1646.7,403.8 1649.8,411.6 1652.6,419.3 1655.3,427 1657.7,434.6 1660,442 1662.1,449.4 1664.1,456.7 1666,463.8 1667.9,470.9 1669.6,477.8 1671.4,484.5 1673.1,491.1 1674.7,497.5 1676.4,503.7 1678.2,509.8 1680,515.7 1681.8,521.4 1683.8,526.9 1685.9,532.2 1688.2,537.3 1690.7,542.1 1693.3,546.7 1696,551.1 1698.8,555.3 1701.8,559.2 1704.8,562.8 1707.8,566.3 1710.8,569.4 1713.8,572.3 1716.8,574.9 1719.7,577.3 1722.4,579.4 1725,581.2 1727.3,582.7 1729.2,584 1730.9,585 1732.1,585.7 1732.9,586.1 1733.2,586.3Z"/>
<path d="M1879,297.8 1824.4,209.6 1486.3,136.3 1486.2,136.5 1486.1,137 1486,137.7 1485.8,138.7 1485.6,139.9 1485.3,141.4 1485,143.2 1484.8,145.2 1484.6,147.5 1484.5,150.1 1484.4,152.9 1484.5,156 1484.7,159.3 1485.1,162.9 1485.7,166.7 1486.6,170.7 1487.7,175 1489.1,179.6 1490.8,184.3 1492.9,189.3 1495.3,194.5 1498,199.9 1501.2,205.5 1504.7,211.3 1508.6,217.3 1512.9,223.4 1517.6,229.8 1522.7,236.3 1528.2,243 1533.9,249.8 1539.9,256.8 1546.2,263.9 1552.7,271.1 1559.3,278.5 1566,285.9 1572.7,293.5 1579.4,301.2 1586.1,308.9 1592.6,316.7 1598.9,324.6 1605,332.5 1610.7,340.5 1616.2,348.5 1621.3,356.6 1626,364.6 1630.5,372.6 1634.6,380.7 1638.4,388.7 1641.9,396.7 1645.1,404.6 1648.1,412.6 1650.9,420.4 1653.4,428.2 1655.8,435.9 1658,443.5 1660,451 1662,458.4 1663.8,465.7 1665.6,472.8 1667.3,479.9 1669,486.7 1670.7,493.5 1672.3,500 1674,506.4 1675.7,512.6 1677.5,518.6 1679.4,524.4 1681.4,530.1 1683.6,535.5 1685.9,540.7 1688.4,545.6 1691,550.4 1693.8,554.8 1696.7,559.1 1699.6,563.1 1702.7,566.9 1705.7,570.4 1708.7,573.6 1711.7,576.5 1714.6,579.2 1717.5,581.7 1720.2,583.8 1722.7,585.7 1724.9,587.2 1726.9,588.5 1728.4,589.5 1729.5,590.3 1730.1,590.7 1730.3,590.8Z"/>
<path d="M1878.6,297.9 1824.7,209.8 1473.3,134.2 1473.2,134.1 1473.2,134.4 1473.1,135 1473,135.9 1472.8,137.1 1472.7,138.6 1472.6,140.4 1472.5,142.5 1472.5,144.9 1472.6,147.5 1472.8,150.4 1473.1,153.6 1473.6,157 1474.3,160.7 1475.2,164.6 1476.4,168.8 1477.8,173.2 1479.5,177.8 1481.6,182.7 1484,187.8 1486.8,193.1 1489.9,198.6 1493.4,204.3 1497.4,210.3 1501.7,216.4 1506.4,222.7 1511.5,229.1 1517,235.7 1522.9,242.5 1529,249.4 1535.5,256.5 1542.1,263.7 1549,271 1556,278.4 1563,286 1570.1,293.6 1577.2,301.3 1584.1,309.1 1590.9,316.9 1597.5,324.8 1603.8,332.7 1609.7,340.7 1615.4,348.7 1620.6,356.7 1625.5,364.8 1630.1,372.8 1634.4,380.8 1638.3,388.8 1641.9,396.7 1645.2,404.6 1648.3,412.4 1651.2,420.2 1653.8,427.9 1656.3,435.5 1658.6,443.1 1660.7,450.5 1662.8,457.8 1664.7,465 1666.5,472 1668.3,479 1670.1,485.7 1671.8,492.3 1673.5,498.8 1675.2,505.1 1677,511.2 1678.8,517.1 1680.7,522.8 1682.7,528.3 1684.9,533.6 1687.2,538.7 1689.7,543.6 1692.3,548.2 1695.1,552.6 1698,556.8 1700.9,560.7 1704,564.4 1707,567.8 1710,571 1713,573.9 1716,576.5 1718.9,578.9 1721.6,581 1724.2,582.8 1726.4,584.3 1728.4,585.6 1730,586.6 1731.2,587.3 1731.9,587.7 1732.2,587.9Z"/>
<path d="M1879.1,298.1 1824.6,209.6 1471.9,134.6 1471.9,134.3 1471.8,134.4 1471.8,134.9 1471.7,135.8 1471.6,136.9 1471.5,138.4 1471.4,140.2 1471.4,142.3 1471.5,144.7 1471.7,147.3 1471.9,150.2 1472.3,153.4 1472.9,156.9 1473.7,160.6 1474.7,164.5 1476,168.7 1477.5,173.1 1479.3,177.8 1481.5,182.7 1484,187.8 1486.8,193.1 1490.1,198.7 1493.7,204.4 1497.7,210.3 1502.1,216.4 1506.9,222.7 1512.1,229.2 1517.6,235.8 1523.5,242.6 1529.7,249.5 1536.2,256.5 1542.9,263.7 1549.7,271 1556.7,278.4 1563.8,286 1570.8,293.6 1577.8,301.2 1584.7,309 1591.5,316.8 1598,324.7 1604.3,332.7 1610.2,340.6 1615.8,348.6 1621,356.6 1625.9,364.6 1630.4,372.7 1634.6,380.7 1638.5,388.7 1642.1,396.6 1645.4,404.5 1648.4,412.4 1651.2,420.2 1653.8,427.9 1656.2,435.6 1658.4,443.2 1660.5,450.6 1662.5,458 1664.4,465.2 1666.2,472.4 1667.9,479.4 1669.6,486.2 1671.2,492.9 1672.9,499.5 1674.5,505.8 1676.2,512 1678,518 1679.9,523.9 1681.9,529.5 1684,534.9 1686.3,540.1 1688.8,545.1 1691.4,549.8 1694.1,554.3 1697,558.6 1699.9,562.6 1702.9,566.4 1705.9,569.9 1708.9,573.1 1711.9,576.1 1714.8,578.8 1717.7,581.3 1720.3,583.4 1722.8,585.3 1725.1,586.9 1727,588.2 1728.5,589.2 1729.6,590 1730.2,590.4 1730.3,590.5Z"/>
<path d="M1878.8,297.6 1824.6,209.8 1470.3,133.3 1470.3,133.3 1470.3,133.6 1470.2,134.2 1470.1,135.2 1470,136.4 1469.9,138 1469.8,139.8 1469.8,141.9 1469.9,144.3 1470,146.9 1470.3,149.9 1470.7,153.1 1471.3,156.5 1472,160.2 1473,164.2 1474.3,168.4 1475.8,172.8 1477.6,177.5 1479.8,182.4 1482.3,187.5 1485.1,192.8 1488.3,198.4 1492,204.1 1496,210.1 1500.4,216.2 1505.2,222.5 1510.4,229 1516,235.6 1521.9,242.4 1528.1,249.4 1534.6,256.4 1541.3,263.6 1548.3,271 1555.3,278.4 1562.4,286 1569.5,293.6 1576.6,301.3 1583.6,309.1 1590.4,317 1597,324.9 1603.3,332.8 1609.3,340.8 1614.9,348.8 1620.2,356.9 1625.1,364.9 1629.6,373 1633.9,381 1637.8,389 1641.4,397 1644.7,404.9 1647.7,412.8 1650.5,420.6 1653.1,428.3 1655.6,436 1657.8,443.6 1659.9,451.1 1661.9,458.4 1663.8,465.7 1665.6,472.8 1667.4,479.8 1669.1,486.7 1670.8,493.4 1672.4,499.9 1674.1,506.3 1675.8,512.4 1677.7,518.4 1679.6,524.3 1681.6,529.9 1683.7,535.3 1686.1,540.4 1688.5,545.4 1691.2,550.1 1693.9,554.6 1696.8,558.9 1699.8,562.9 1702.8,566.6 1705.8,570.1 1708.8,573.4 1711.8,576.3 1714.7,579 1717.5,581.5 1720.2,583.6 1722.7,585.5 1724.8,587 1726.7,588.3 1728.1,589.4 1729,590.1 1729.4,590.5 1729.1,590.7Z"/>
<path d="M1878.7,297.7 1824.6,210.1 1503.3,140.9 1503.3,140.9 1503.2,141.2 1503.1,141.9 1502.9,142.8 1502.7,143.9 1502.4,145.4 1502.2,147.1 1502,149.1 1501.8,151.4 1501.7,153.9 1501.7,156.6 1501.8,159.6 1502.1,162.9 1502.5,166.4 1503.2,170.1 1504.1,174.1 1505.2,178.3 1506.7,182.8 1508.4,187.4 1510.5,192.2 1512.9,197.3 1515.6,202.6 1518.7,208 1522.2,213.7 1526.1,219.5 1530.3,225.5 1534.8,231.6 1539.7,238 1544.9,244.4 1550.4,251 1556.1,257.8 1562.1,264.6 1568.1,271.6 1574.3,278.7 1580.5,285.9 1586.8,293.2 1593,300.5 1599.1,308 1605.1,315.5 1610.9,323 1616.6,330.6 1622,338.2 1627.1,345.9 1632,353.5 1636.6,361.2 1640.9,368.9 1644.9,376.5 1648.7,384.2 1652.1,391.7 1655.3,399.3 1658.3,406.8 1661,414.2 1663.6,421.6 1666,428.9 1668.2,436.1 1670.3,443.2 1672.2,450.2 1674.1,457.1 1675.9,463.8 1677.6,470.4 1679.3,476.9 1680.9,483.2 1682.5,489.4 1684.1,495.4 1685.7,501.3 1687.4,506.9 1689.1,512.4 1690.8,517.7 1692.7,522.7 1694.8,527.6 1697,532.3 1699.4,536.7 1702,540.9 1704.7,544.9 1707.6,548.6 1710.5,552.2 1713.5,555.4 1716.5,558.5 1719.5,561.2 1722.4,563.8 1725.3,566 1728,568 1730.6,569.8 1732.9,571.2 1734.9,572.5 1736.5,573.4 1737.7,574.1 1738.4,574.5 1738.7,574.6Z"/>
<path d="M1878.8,297.8 1824.7,209.8 1500.9,140.3 1500.8,140.4 1500.8,140.7 1500.6,141.3 1500.5,142.2 1500.3,143.4 1500.2,144.9 1500,146.6 1499.9,148.6 1499.8,150.9 1499.8,153.5 1499.9,156.3 1500.2,159.3 1500.6,162.6 1501.1,166.1 1501.9,169.9 1502.9,173.9 1504.2,178.1 1505.8,182.6 1507.7,187.3 1509.8,192.1 1512.4,197.2 1515.2,202.5 1518.5,208 1522.1,213.6 1526,219.5 1530.3,225.5 1534.9,231.7 1539.9,238 1545.2,244.4 1550.7,251.1 1556.5,257.8 1562.4,264.7 1568.5,271.6 1574.7,278.7 1580.9,285.9 1587.1,293.2 1593.3,300.5 1599.3,308 1605.3,315.4 1611.1,323 1616.7,330.6 1622.1,338.2 1627.2,345.9 1632,353.6 1636.5,361.2 1640.7,368.9 1644.7,376.6 1648.4,384.3 1651.8,391.9 1654.9,399.5 1657.8,407.1 1660.4,414.6 1662.9,422.1 1665.1,429.5 1667.3,436.8 1669.2,444 1671.1,451.1 1672.9,458.1 1674.6,465 1676.2,471.8 1677.8,478.4 1679.3,484.9 1680.8,491.2 1682.3,497.4 1683.8,503.4 1685.4,509.3 1687,514.9 1688.8,520.4 1690.6,525.7 1692.7,530.7 1694.9,535.6 1697.3,540.2 1699.8,544.6 1702.5,548.8 1705.4,552.7 1708.3,556.4 1711.2,559.8 1714.2,563 1717.1,565.9 1720,568.6 1722.8,571 1725.6,573.1 1728.1,574.9 1730.3,576.5 1732.3,577.8 1733.9,578.7 1735.1,579.5 1735.9,579.9 1736.3,580Z"/>
<path d="M1878.7,298.1 1824.6,209.7 1500.8,140.1 1500.8,140.2 1500.7,140.6 1500.6,141.2 1500.4,142.1 1500.2,143.3 1500,144.8 1499.8,146.6 1499.6,148.6 1499.4,150.8 1499.4,153.4 1499.4,156.1 1499.6,159.2 1499.9,162.4 1500.4,166 1501.1,169.7 1502,173.7 1503.2,177.9 1504.7,182.4 1506.5,187.1 1508.6,191.9 1511,197 1513.8,202.3 1517,207.8 1520.6,213.4 1524.5,219.3 1528.7,225.3 1533.4,231.5 1538.3,237.8 1543.6,244.3 1549.1,250.9 1554.9,257.7 1560.9,264.6 1567.1,271.6 1573.3,278.7 1579.6,285.9 1585.9,293.2 1592.1,300.6 1598.3,308 1604.4,315.5 1610.2,323.1 1615.9,330.7 1621.4,338.4 1626.5,346 1631.4,353.7 1636.1,361.4 1640.4,369.1 1644.4,376.7 1648.2,384.4 1651.6,392 1654.8,399.6 1657.8,407.1 1660.5,414.5 1663.1,421.9 1665.5,429.2 1667.7,436.5 1669.8,443.6 1671.7,450.6 1673.6,457.5 1675.4,464.3 1677.1,470.9 1678.8,477.4 1680.4,483.8 1682,490 1683.6,496 1685.2,501.9 1686.9,507.5 1688.5,513 1690.3,518.3 1692.2,523.4 1694.3,528.3 1696.5,533 1699,537.5 1701.5,541.7 1704.3,545.7 1707.1,549.5 1710,553 1713,556.3 1716,559.4 1719,562.2 1722,564.7 1724.8,567 1727.6,569 1730.1,570.7 1732.4,572.2 1734.4,573.4 1736,574.4 1737.2,575.1 1738,575.5 1738.3,575.6Z"/>
<path d="M1878.7,297.8 1824.6,210 1498.1,140.5 1498.1,140.3 1498,140.4 1497.9,140.9 1497.7,141.8 1497.5,142.9 1497.4,144.3 1497.2,146 1497,148 1496.9,150.3 1496.9,152.8 1497,155.6 1497.2,158.7 1497.5,162 1498.1,165.5 1498.8,169.3 1499.8,173.3 1501.1,177.5 1502.6,182 1504.5,186.7 1506.6,191.6 1509.2,196.7 1512.1,202 1515.3,207.5 1518.9,213.2 1522.9,219.1 1527.2,225.1 1531.9,231.3 1537,237.7 1542.3,244.2 1548,250.8 1553.9,257.6 1559.9,264.5 1566.1,271.6 1572.5,278.7 1578.8,285.9 1585.2,293.2 1591.5,300.6 1597.8,308.1 1603.9,315.6 1609.8,323.2 1615.6,330.8 1621.1,338.4 1626.3,346.1 1631.2,353.8 1635.9,361.5 1640.2,369.1 1644.3,376.8 1648.1,384.4 1651.5,392 1654.8,399.6 1657.8,407.1 1660.5,414.5 1663.1,421.9 1665.5,429.2 1667.8,436.4 1669.9,443.5 1671.8,450.5 1673.7,457.4 1675.5,464.1 1677.3,470.8 1679,477.2 1680.6,483.6 1682.2,489.7 1683.8,495.7 1685.5,501.6 1687.1,507.2 1688.8,512.7 1690.6,518 1692.5,523 1694.6,527.9 1696.8,532.6 1699.2,537 1701.8,541.2 1704.5,545.2 1707.4,549 1710.3,552.5 1713.3,555.7 1716.3,558.8 1719.3,561.5 1722.2,564.1 1725.1,566.3 1727.8,568.3 1730.3,570.1 1732.6,571.6 1734.5,572.8 1736,573.7 1737.1,574.4 1737.6,574.8 1737.6,574.9Z"/>
<path d="M1878.7,297.9 1824.4,210 1493.8,140.1 1493.7,139.7 1493.7,139.7 1493.5,140.1 1493.4,140.9 1493.2,142 1493,143.4 1492.8,145.1 1492.7,147.1 1492.6,149.4 1492.6,151.9 1492.6,154.7 1492.8,157.8 1493.2,161.1 1493.8,164.6 1494.5,168.4 1495.5,172.5 1496.8,176.7 1498.3,181.2 1500.2,186 1502.4,190.9 1504.9,196 1507.8,201.4 1511.1,206.9 1514.7,212.6 1518.7,218.6 1523.1,224.6 1527.9,230.9 1533,237.3 1538.4,243.9 1544.1,250.6 1550,257.4 1556.2,264.4 1562.5,271.4 1569,278.6 1575.4,285.9 1581.9,293.3 1588.4,300.8 1594.7,308.3 1601,315.9 1607,323.5 1612.9,331.2 1618.5,338.9 1623.7,346.7 1628.7,354.5 1633.4,362.2 1637.8,370 1641.9,377.8 1645.7,385.5 1649.2,393.2 1652.4,400.8 1655.4,408.4 1658.2,416 1660.7,423.5 1663.1,430.8 1665.3,438.1 1667.4,445.4 1669.4,452.4 1671.3,459.4 1673.1,466.3 1674.8,473 1676.5,479.6 1678.2,486 1679.8,492.3 1681.4,498.4 1683,504.3 1684.7,510.1 1686.5,515.6 1688.3,521 1690.3,526.1 1692.4,531.1 1694.7,535.8 1697.2,540.3 1699.8,544.6 1702.6,548.7 1705.4,552.5 1708.4,556.1 1711.4,559.4 1714.4,562.5 1717.4,565.3 1720.3,567.9 1723.2,570.2 1725.9,572.3 1728.4,574 1730.7,575.5 1732.6,576.8 1734.2,577.7 1735.3,578.4 1736,578.8 1736.1,579Z"/>
<path d="M1878.9,298.2 1824.6,209.6 1495.9,140.2 1495.8,139.9 1495.8,140 1495.7,140.5 1495.5,141.3 1495.3,142.4 1495.1,143.8 1495,145.6 1494.8,147.6 1494.7,149.8 1494.7,152.4 1494.8,155.2 1495,158.2 1495.4,161.5 1496,165.1 1496.7,168.9 1497.8,172.9 1499,177.2 1500.6,181.7 1502.5,186.4 1504.7,191.3 1507.3,196.4 1510.2,201.7 1513.5,207.3 1517.2,213 1521.2,218.9 1525.6,224.9 1530.4,231.2 1535.5,237.5 1540.9,244.1 1546.6,250.7 1552.6,257.6 1558.7,264.5 1565,271.5 1571.4,278.7 1577.9,285.9 1584.3,293.2 1590.7,300.6 1597.1,308.1 1603.3,315.7 1609.3,323.2 1615.1,330.9 1620.6,338.5 1625.9,346.2 1630.9,353.9 1635.6,361.5 1640,369.2 1644.1,376.9 1647.9,384.5 1651.5,392.1 1654.7,399.6 1657.8,407.1 1660.6,414.5 1663.2,421.9 1665.6,429.1 1667.9,436.3 1670.1,443.3 1672.1,450.3 1674,457.1 1675.9,463.8 1677.7,470.4 1679.4,476.8 1681.1,483.1 1682.7,489.2 1684.4,495.1 1686,500.9 1687.7,506.5 1689.4,511.9 1691.2,517.1 1693.2,522.1 1695.2,526.9 1697.5,531.5 1699.9,535.9 1702.5,540 1705.2,544 1708.1,547.7 1711.1,551.1 1714.1,554.3 1717.1,557.3 1720.1,560 1723.1,562.5 1725.9,564.7 1728.7,566.7 1731.3,568.4 1733.6,569.9 1735.5,571.1 1737.1,572 1738.3,572.6 1739,573 1739.3,573.2Z"/>
<path d="M1879,297.6 1824.4,209.6 1498.2,140.8 1498.2,140.5 1498.1,140.6 1498,141 1497.8,141.8 1497.6,143 1497.4,144.4 1497.2,146.1 1497,148 1496.8,150.3 1496.7,152.8 1496.8,155.6 1496.9,158.6 1497.2,161.9 1497.7,165.4 1498.4,169.2 1499.3,173.2 1500.5,177.4 1502,181.9 1503.8,186.6 1505.9,191.5 1508.3,196.6 1511.1,201.9 1514.3,207.4 1517.9,213.1 1521.8,218.9 1526.1,225 1530.7,231.2 1535.7,237.6 1541,244.1 1546.6,250.7 1552.5,257.5 1558.5,264.5 1564.7,271.5 1571.1,278.7 1577.4,285.9 1583.8,293.2 1590.1,300.7 1596.4,308.2 1602.5,315.7 1608.5,323.3 1614.3,331 1619.8,338.7 1625,346.4 1630,354.1 1634.6,361.9 1639,369.6 1643,377.3 1646.8,385 1650.3,392.6 1653.5,400.3 1656.5,407.8 1659.3,415.3 1661.8,422.7 1664.2,430.1 1666.4,437.4 1668.5,444.5 1670.5,451.6 1672.4,458.5 1674.2,465.3 1675.9,472 1677.6,478.5 1679.3,484.9 1680.9,491.1 1682.5,497.2 1684.2,503 1685.8,508.7 1687.6,514.3 1689.4,519.6 1691.3,524.7 1693.4,529.6 1695.7,534.3 1698.2,538.8 1700.8,543 1703.5,547 1706.4,550.8 1709.3,554.4 1712.3,557.7 1715.3,560.7 1718.3,563.5 1721.3,566 1724.2,568.3 1726.9,570.3 1729.4,572.1 1731.7,573.6 1733.7,574.8 1735.3,575.8 1736.5,576.4 1737.2,576.8 1737.4,577Z"/>
<path d="M1878.7,297.6 1825,209.8 1487.8,137.8 1487.8,137.7 1487.7,137.9 1487.7,138.5 1487.6,139.3 1487.5,140.5 1487.4,142 1487.4,143.8 1487.4,145.9 1487.5,148.2 1487.6,150.8 1487.9,153.7 1488.3,156.8 1488.9,160.2 1489.7,163.8 1490.7,167.7 1492,171.8 1493.5,176.1 1495.3,180.7 1497.5,185.5 1499.9,190.5 1502.8,195.7 1505.9,201.1 1509.5,206.7 1513.4,212.5 1517.7,218.4 1522.3,224.5 1527.3,230.8 1532.7,237.3 1538.3,243.8 1544.2,250.6 1550.4,257.4 1556.7,264.4 1563.2,271.5 1569.8,278.6 1576.4,285.9 1582.9,293.3 1589.5,300.7 1595.9,308.2 1602.2,315.8 1608.3,323.4 1614.1,331 1619.7,338.7 1625,346.4 1630,354.1 1634.7,361.8 1639.1,369.5 1643.2,377.2 1647,384.9 1650.5,392.5 1653.8,400.1 1656.8,407.7 1659.5,415.2 1662.1,422.6 1664.5,429.9 1666.7,437.2 1668.8,444.3 1670.8,451.4 1672.6,458.3 1674.4,465.1 1676.1,471.8 1677.7,478.4 1679.4,484.8 1680.9,491.1 1682.5,497.2 1684.1,503.1 1685.8,508.8 1687.4,514.4 1689.2,519.8 1691.1,525 1693.2,529.9 1695.5,534.7 1697.9,539.2 1700.5,543.5 1703.2,547.6 1706,551.5 1708.9,555.1 1711.9,558.4 1714.9,561.5 1717.9,564.4 1720.8,567 1723.7,569.3 1726.4,571.4 1728.9,573.2 1731.2,574.7 1733.2,576 1734.7,576.9 1735.9,577.6 1736.7,578.1 1737,578.2Z"/>
<path d="M1878.9,297.8 1824.4,209.7 1495.9,139.3 1495.9,139.3 1495.9,139.6 1495.8,140.2 1495.7,141.1 1495.5,142.3 1495.4,143.8 1495.3,145.6 1495.3,147.6 1495.3,149.9 1495.3,152.5 1495.5,155.3 1495.9,158.4 1496.4,161.7 1497,165.3 1497.9,169.1 1499.1,173.2 1500.5,177.4 1502.2,181.9 1504.2,186.7 1506.5,191.6 1509.2,196.7 1512.2,202 1515.6,207.6 1519.3,213.3 1523.4,219.2 1527.9,225.2 1532.7,231.4 1537.8,237.8 1543.3,244.3 1549,250.9 1554.9,257.7 1561,264.6 1567.2,271.6 1573.6,278.7 1579.9,285.9 1586.3,293.2 1592.6,300.6 1598.8,308 1604.9,315.5 1610.8,323 1616.5,330.6 1621.9,338.2 1627.1,345.9 1632,353.5 1636.6,361.2 1640.9,368.9 1644.9,376.5 1648.7,384.2 1652.1,391.8 1655.3,399.3 1658.3,406.8 1661,414.3 1663.5,421.7 1665.8,429 1668,436.2 1670.1,443.4 1672,450.4 1673.8,457.3 1675.5,464.1 1677.2,470.8 1678.8,477.4 1680.4,483.8 1681.9,490 1683.5,496.1 1685,502 1686.6,507.8 1688.3,513.4 1690,518.7 1691.9,523.9 1693.9,528.9 1696.1,533.6 1698.5,538.2 1701.1,542.5 1703.8,546.6 1706.6,550.4 1709.5,554.1 1712.4,557.4 1715.4,560.5 1718.4,563.4 1721.3,566 1724.1,568.3 1726.8,570.4 1729.3,572.2 1731.5,573.7 1733.4,575 1734.9,576 1736,576.7 1736.6,577.1 1736.6,577.2Z"/>
<path d="M1878.9,298.1 1824.6,209.8 1496.1,140 1496.1,139.8 1496,139.9 1495.9,140.5 1495.8,141.3 1495.6,142.4 1495.4,143.9 1495.3,145.6 1495.1,147.6 1495,149.9 1495,152.4 1495.1,155.2 1495.3,158.3 1495.7,161.6 1496.3,165.1 1497.1,168.9 1498.1,173 1499.4,177.2 1500.9,181.7 1502.8,186.4 1505,191.3 1507.6,196.5 1510.5,201.8 1513.8,207.3 1517.4,213 1521.4,218.9 1525.8,225 1530.6,231.2 1535.6,237.6 1541,244.1 1546.7,250.8 1552.6,257.6 1558.7,264.5 1565,271.5 1571.4,278.7 1577.8,285.9 1584.2,293.2 1590.6,300.7 1596.8,308.1 1603,315.7 1609,323.3 1614.8,330.9 1620.3,338.6 1625.5,346.3 1630.4,354 1635.1,361.7 1639.5,369.4 1643.5,377.1 1647.3,384.8 1650.8,392.4 1654,400 1657,407.5 1659.8,415 1662.3,422.4 1664.7,429.7 1667,437 1669,444.1 1671,451.2 1672.9,458.1 1674.7,464.9 1676.4,471.5 1678.1,478.1 1679.7,484.4 1681.3,490.7 1682.9,496.7 1684.6,502.6 1686.2,508.3 1687.9,513.8 1689.7,519.1 1691.6,524.2 1693.7,529.2 1696,533.9 1698.4,538.3 1701,542.6 1703.7,546.6 1706.6,550.4 1709.5,554 1712.5,557.3 1715.5,560.3 1718.5,563.1 1721.5,565.7 1724.3,568 1727,570 1729.6,571.8 1731.9,573.2 1733.8,574.5 1735.4,575.4 1736.5,576.1 1737.2,576.5 1737.4,576.7Z"/>
<path d="M1879,297.9 1824.2,209.5 1494.7,140.4 1494.7,140 1494.6,140 1494.5,140.4 1494.4,141.1 1494.2,142.2 1494,143.6 1493.9,145.3 1493.7,147.3 1493.6,149.6 1493.6,152.1 1493.7,154.9 1493.9,158 1494.3,161.3 1494.9,164.9 1495.7,168.7 1496.7,172.7 1498,177 1499.6,181.5 1501.5,186.2 1503.7,191.1 1506.2,196.2 1509.2,201.6 1512.5,207.1 1516.1,212.8 1520.2,218.7 1524.6,224.8 1529.3,231 1534.4,237.4 1539.9,244 1545.6,250.7 1551.5,257.5 1557.7,264.4 1564,271.5 1570.4,278.6 1576.9,285.9 1583.3,293.3 1589.8,300.7 1596.1,308.2 1602.3,315.7 1608.3,323.4 1614.2,331 1619.7,338.7 1625,346.4 1629.9,354.1 1634.6,361.8 1639,369.6 1643.1,377.3 1646.9,384.9 1650.4,392.6 1653.7,400.2 1656.7,407.7 1659.5,415.2 1662.1,422.6 1664.5,429.9 1666.7,437.2 1668.8,444.3 1670.8,451.3 1672.7,458.2 1674.5,465 1676.3,471.7 1678,478.2 1679.6,484.5 1681.3,490.7 1682.9,496.8 1684.5,502.6 1686.2,508.3 1687.9,513.8 1689.8,519.1 1691.7,524.2 1693.8,529.1 1696.1,533.7 1698.5,538.2 1701.1,542.4 1703.9,546.4 1706.7,550.2 1709.7,553.7 1712.7,557 1715.7,560.1 1718.7,562.8 1721.6,565.4 1724.5,567.6 1727.2,569.7 1729.8,571.4 1732.1,572.9 1734,574.1 1735.7,575.1 1736.8,575.7 1737.6,576.1 1737.8,576.3Z"/>
<path d="M1878.8,297.7 1824.7,210.2 1500.5,141 1500.5,140.8 1500.4,140.9 1500.2,141.4 1500,142.3 1499.7,143.4 1499.4,144.8 1499.1,146.5 1498.8,148.4 1498.5,150.7 1498.3,153.1 1498.2,155.9 1498.2,158.9 1498.3,162.1 1498.7,165.6 1499.2,169.4 1499.9,173.3 1500.9,177.5 1502.2,181.9 1503.8,186.6 1505.8,191.5 1508.1,196.5 1510.7,201.8 1513.7,207.3 1517.1,213 1520.9,218.8 1525,224.9 1529.6,231.1 1534.4,237.4 1539.6,244 1545.2,250.6 1550.9,257.5 1556.9,264.4 1563.1,271.5 1569.4,278.6 1575.8,285.9 1582.2,293.3 1588.5,300.7 1594.8,308.3 1601,315.9 1607,323.5 1612.9,331.2 1618.4,339 1623.7,346.7 1628.7,354.5 1633.3,362.3 1637.7,370 1641.8,377.8 1645.7,385.5 1649.2,393.2 1652.5,400.8 1655.5,408.4 1658.3,415.9 1660.9,423.3 1663.3,430.7 1665.6,437.9 1667.8,445.1 1669.8,452.1 1671.8,459 1673.6,465.8 1675.4,472.4 1677.2,478.9 1678.9,485.2 1680.6,491.4 1682.3,497.4 1684,503.2 1685.8,508.8 1687.5,514.3 1689.4,519.5 1691.4,524.5 1693.6,529.4 1695.9,534 1698.4,538.4 1701.1,542.5 1703.8,546.4 1706.7,550.1 1709.7,553.6 1712.8,556.8 1715.8,559.8 1718.8,562.5 1721.8,565 1724.7,567.2 1727.4,569.2 1730,570.9 1732.3,572.3 1734.2,573.5 1735.8,574.4 1736.9,575.1 1737.5,575.5 1737.5,575.6Z"/>
<path d="M1878.8,297.6 1824.6,209.6 1536,150.2 1536,149.7 1535.9,149.6 1535.7,150 1535.4,150.7 1535.1,151.7 1534.8,153 1534.5,154.6 1534.2,156.4 1533.9,158.5 1533.6,160.9 1533.5,163.5 1533.4,166.4 1533.5,169.4 1533.7,172.8 1534.2,176.3 1534.8,180.1 1535.7,184 1536.9,188.2 1538.3,192.6 1540.1,197.2 1542.1,202 1544.5,207 1547.3,212.2 1550.3,217.5 1553.7,223 1557.4,228.7 1561.4,234.5 1565.7,240.5 1570.2,246.6 1575,252.9 1580,259.2 1585.1,265.7 1590.4,272.3 1595.7,279 1601,285.8 1606.2,292.7 1611.5,299.7 1616.7,306.7 1621.8,313.8 1626.9,320.9 1631.8,328.1 1636.5,335.3 1641.1,342.5 1645.6,349.7 1649.8,357 1653.8,364.2 1657.6,371.4 1661.2,378.6 1664.4,385.8 1667.5,392.9 1670.3,400 1673,407 1675.4,414 1677.7,420.9 1679.8,427.7 1681.9,434.4 1683.8,441 1685.6,447.5 1687.3,453.8 1688.9,460.1 1690.5,466.2 1692,472.2 1693.5,478 1695,483.7 1696.4,489.2 1697.8,494.5 1699.2,499.7 1700.7,504.7 1702.3,509.5 1704,514.1 1705.9,518.5 1708.1,522.7 1710.4,526.6 1712.9,530.4 1715.6,534 1718.5,537.3 1721.4,540.4 1724.3,543.2 1727.3,545.9 1730.2,548.2 1733.1,550.4 1735.9,552.3 1738.4,553.9 1740.7,555.3 1742.7,556.5 1744.4,557.4 1745.6,558 1746.3,558.4 1746.6,558.5Z"/>
<path d="M1878.9,297.8 1824.8,209.7 1527.2,146.8 1527.2,146.7 1527.1,147 1526.9,147.5 1526.7,148.4 1526.4,149.5 1526.1,150.9 1525.8,152.5 1525.5,154.4 1525.3,156.6 1525.1,159 1525,161.7 1525,164.6 1525.1,167.7 1525.4,171.1 1525.9,174.7 1526.6,178.5 1527.6,182.5 1528.9,186.8 1530.4,191.2 1532.2,195.9 1534.4,200.8 1536.9,205.8 1539.7,211.1 1542.9,216.5 1546.4,222.1 1550.3,227.9 1554.4,233.8 1558.9,239.8 1563.6,246 1568.6,252.4 1573.8,258.9 1579.1,265.5 1584.6,272.2 1590.1,279 1595.7,285.9 1601.2,292.8 1606.7,299.9 1612.1,307 1617.5,314.2 1622.7,321.4 1627.9,328.7 1632.8,336 1637.5,343.4 1642.1,350.7 1646.4,358.1 1650.5,365.4 1654.4,372.7 1658,380 1661.3,387.3 1664.4,394.6 1667.2,401.7 1669.9,408.9 1672.4,415.9 1674.7,422.9 1676.9,429.8 1678.9,436.6 1680.8,443.3 1682.6,449.9 1684.4,456.4 1686,462.7 1687.6,468.9 1689.2,475 1690.7,480.9 1692.2,486.7 1693.7,492.3 1695.2,497.7 1696.6,502.9 1698.2,508 1699.8,512.9 1701.6,517.5 1703.7,522 1705.9,526.2 1708.3,530.3 1710.8,534.1 1713.6,537.7 1716.4,541.1 1719.4,544.2 1722.3,547.1 1725.3,549.8 1728.3,552.2 1731.2,554.4 1733.9,556.3 1736.5,558 1738.8,559.4 1740.9,560.6 1742.5,561.5 1743.8,562.1 1744.7,562.5 1745.2,562.6Z"/>
<path d="M1878.9,297.8 1824.4,209.5 1464.7,132.3 1464.7,132.2 1464.7,132.5 1464.6,133.1 1464.5,134 1464.4,135.2 1464.3,136.7 1464.2,138.5 1464.2,140.6 1464.2,143 1464.3,145.7 1464.6,148.6 1465,151.8 1465.5,155.3 1466.3,159 1467.2,163 1468.5,167.2 1470,171.7 1471.8,176.4 1473.9,181.4 1476.4,186.5 1479.3,191.9 1482.5,197.5 1486.2,203.3 1490.2,209.3 1494.7,215.5 1499.6,221.8 1504.8,228.4 1510.5,235.1 1516.5,242 1522.8,249 1529.5,256.1 1536.4,263.4 1543.5,270.8 1550.7,278.3 1558,286 1565.3,293.7 1572.5,301.5 1579.7,309.4 1586.7,317.3 1593.5,325.3 1600,333.4 1606.1,341.5 1611.9,349.6 1617.3,357.7 1622.3,365.8 1626.9,373.9 1631.2,382 1635.2,390.1 1638.9,398.2 1642.2,406.2 1645.4,414.1 1648.2,422 1650.9,429.8 1653.4,437.5 1655.7,445.1 1657.8,452.7 1659.9,460.1 1661.8,467.4 1663.7,474.5 1665.5,481.5 1667.3,488.4 1669,495.1 1670.7,501.7 1672.5,508 1674.3,514.2 1676.2,520.2 1678.2,526 1680.3,531.6 1682.5,537 1684.9,542.1 1687.4,547.1 1690.1,551.8 1693,556.2 1695.9,560.5 1698.9,564.5 1701.9,568.2 1705,571.7 1708,574.9 1711,577.8 1714,580.5 1716.8,582.9 1719.6,585 1722.1,586.9 1724.3,588.4 1726.2,589.7 1727.7,590.7 1728.8,591.4 1729.4,591.9 1729.4,592Z"/>
<path d="M1878.8,297.9 1824.3,209.7 1455,129.6 1455,129.6 1454.9,130 1454.9,130.6 1454.8,131.6 1454.7,132.9 1454.6,134.5 1454.6,136.3 1454.6,138.5 1454.7,140.9 1454.9,143.6 1455.1,146.6 1455.6,149.9 1456.2,153.4 1457,157.2 1458.1,161.2 1459.4,165.5 1461,170 1462.9,174.8 1465.1,179.8 1467.7,185.1 1470.7,190.5 1474.1,196.2 1477.8,202.1 1482,208.2 1486.6,214.4 1491.6,220.9 1497.1,227.5 1502.9,234.3 1509.1,241.3 1515.7,248.4 1522.6,255.7 1529.7,263.1 1537,270.6 1544.5,278.2 1552.1,286 1559.7,293.8 1567.2,301.7 1574.7,309.7 1581.9,317.8 1589,325.9 1595.7,334.1 1602,342.3 1607.9,350.5 1613.4,358.8 1618.5,367 1623.2,375.3 1627.6,383.5 1631.6,391.7 1635.4,399.9 1638.8,408 1641.9,416 1644.8,424 1647.5,432 1650,439.8 1652.4,447.5 1654.6,455.2 1656.6,462.7 1658.6,470.1 1660.5,477.4 1662.3,484.5 1664.1,491.4 1665.9,498.3 1667.6,504.9 1669.4,511.4 1671.3,517.6 1673.2,523.7 1675.3,529.6 1677.5,535.3 1679.8,540.7 1682.3,546 1684.9,551 1687.7,555.8 1690.6,560.3 1693.6,564.6 1696.6,568.6 1699.7,572.4 1702.8,575.9 1705.8,579.2 1708.8,582.2 1711.8,584.9 1714.6,587.3 1717.4,589.5 1719.9,591.4 1722.2,593 1724.1,594.3 1725.7,595.3 1726.9,596 1727.6,596.5 1727.9,596.6Z"/>
<path d="M1878.6,297.9 1824.6,209.6 1449.1,128.5 1449.1,128.5 1449.1,128.7 1449,129.4 1449,130.3 1448.9,131.6 1448.8,133.2 1448.8,135 1448.8,137.2 1449,139.6 1449.2,142.4 1449.5,145.4 1450,148.7 1450.6,152.2 1451.5,156 1452.6,160.1 1453.9,164.4 1455.6,169 1457.5,173.8 1459.8,178.9 1462.5,184.2 1465.5,189.7 1469,195.4 1472.8,201.3 1477.1,207.5 1481.8,213.8 1486.9,220.3 1492.4,227 1498.4,233.9 1504.7,240.9 1511.4,248.1 1518.4,255.4 1525.7,262.9 1533.2,270.5 1540.8,278.2 1548.5,286 1556.3,293.9 1564,301.9 1571.6,310 1579,318.1 1586.2,326.3 1593.1,334.5 1599.5,342.8 1605.5,351.1 1611.1,359.4 1616.2,367.7 1621,376.1 1625.4,384.4 1629.5,392.6 1633.3,400.9 1636.7,409.1 1639.9,417.2 1642.8,425.3 1645.5,433.3 1648,441.2 1650.4,449 1652.6,456.7 1654.7,464.3 1656.6,471.7 1658.6,479.1 1660.4,486.2 1662.2,493.3 1664,500.1 1665.7,506.8 1667.6,513.4 1669.4,519.7 1671.4,525.8 1673.5,531.8 1675.8,537.5 1678.2,543 1680.7,548.3 1683.4,553.3 1686.2,558.2 1689.1,562.7 1692.2,567.1 1695.2,571.1 1698.3,575 1701.4,578.5 1704.5,581.8 1707.5,584.8 1710.4,587.6 1713.3,590 1716,592.2 1718.6,594.1 1720.8,595.7 1722.8,597 1724.4,598 1725.5,598.8 1726.3,599.2 1726.5,599.4Z"/>
<path d="M1879,297.7 1824.8,209.9 1448.1,127.8 1448.1,127.9 1448.1,128.3 1448,129 1448,130 1447.9,131.3 1447.9,132.9 1447.9,134.8 1447.9,137 1448,139.4 1448.2,142.2 1448.5,145.2 1449,148.5 1449.7,152 1450.6,155.8 1451.7,159.9 1453,164.3 1454.7,168.8 1456.6,173.7 1459,178.7 1461.6,184 1464.7,189.5 1468.1,195.3 1472,201.2 1476.2,207.4 1480.9,213.7 1486.1,220.2 1491.6,226.9 1497.6,233.8 1504,240.9 1510.7,248.1 1517.7,255.4 1525,262.9 1532.5,270.5 1540.2,278.2 1547.9,286 1555.7,293.9 1563.5,301.9 1571.1,310 1578.6,318.1 1585.8,326.4 1592.6,334.6 1599.1,342.9 1605.1,351.2 1610.7,359.5 1615.9,367.9 1620.7,376.2 1625.1,384.5 1629.2,392.8 1632.9,401 1636.4,409.3 1639.5,417.4 1642.5,425.5 1645.2,433.5 1647.7,441.4 1650,449.2 1652.3,456.9 1654.3,464.5 1656.3,472 1658.2,479.3 1660.1,486.5 1661.9,493.6 1663.7,500.5 1665.4,507.2 1667.2,513.7 1669.1,520 1671.1,526.2 1673.2,532.1 1675.5,537.9 1677.9,543.4 1680.4,548.7 1683.1,553.7 1686,558.6 1688.9,563.1 1691.9,567.5 1695,571.6 1698.1,575.4 1701.2,578.9 1704.2,582.2 1707.2,585.3 1710.2,588 1713,590.5 1715.7,592.6 1718.2,594.5 1720.3,596.1 1722.2,597.5 1723.6,598.5 1724.5,599.2 1724.8,599.7 1724.5,599.8Z"/>
<path d="M1879.1,297.7 1825.1,209.8 1446.7,127.9 1446.7,127.8 1446.6,128.1 1446.6,128.8 1446.5,129.7 1446.5,131 1446.4,132.6 1446.4,134.5 1446.5,136.7 1446.6,139.1 1446.8,141.9 1447.1,144.9 1447.6,148.2 1448.3,151.7 1449.2,155.6 1450.3,159.7 1451.7,164 1453.3,168.6 1455.3,173.4 1457.6,178.5 1460.3,183.8 1463.4,189.3 1466.8,195.1 1470.7,201 1475,207.2 1479.7,213.6 1484.9,220.1 1490.5,226.8 1496.5,233.7 1502.9,240.8 1509.6,248 1516.7,255.3 1524,262.8 1531.6,270.4 1539.3,278.2 1547.1,286 1554.9,293.9 1562.7,302 1570.4,310.1 1577.8,318.2 1585.1,326.4 1592,334.7 1598.4,343 1604.5,351.3 1610.1,359.7 1615.3,368 1620.1,376.4 1624.5,384.7 1628.6,393 1632.4,401.3 1635.8,409.5 1639,417.7 1642,425.8 1644.7,433.8 1647.2,441.7 1649.5,449.6 1651.8,457.3 1653.8,464.9 1655.8,472.4 1657.7,479.8 1659.6,487 1661.4,494 1663.2,500.9 1665,507.6 1666.8,514.2 1668.7,520.5 1670.7,526.7 1672.8,532.7 1675.1,538.4 1677.5,543.9 1680.1,549.2 1682.8,554.3 1685.6,559.2 1688.5,563.8 1691.6,568.1 1694.7,572.2 1697.8,576 1700.8,579.6 1703.9,582.9 1706.9,585.9 1709.8,588.7 1712.7,591.1 1715.4,593.3 1717.9,595.2 1720.1,596.8 1721.9,598.1 1723.4,599.2 1724.4,599.9 1724.8,600.4 1724.7,600.5Z"/>
<path d="M1878.6,298 1824.5,210 1438.4,125.6 1438.4,125.7 1438.3,126 1438.3,126.7 1438.3,127.8 1438.2,129.1 1438.2,130.7 1438.2,132.6 1438.3,134.8 1438.5,137.3 1438.7,140.1 1439.1,143.1 1439.7,146.5 1440.4,150.1 1441.3,154 1442.5,158.1 1443.9,162.5 1445.7,167.2 1447.7,172 1450.1,177.2 1452.9,182.6 1456.1,188.2 1459.6,194 1463.6,200 1468,206.2 1472.9,212.7 1478.2,219.3 1483.9,226.1 1490.1,233.1 1496.6,240.2 1503.6,247.5 1510.8,255 1518.3,262.5 1526.1,270.3 1534,278.1 1542.1,286 1550.1,294 1558.1,302.2 1566,310.4 1573.8,318.6 1581.2,327 1588.3,335.3 1594.9,343.7 1601.1,352.2 1606.8,360.6 1612.1,369.1 1617,377.5 1621.5,386 1625.6,394.4 1629.4,402.7 1632.9,411.1 1636.1,419.3 1639.1,427.5 1641.8,435.7 1644.4,443.7 1646.7,451.6 1649,459.4 1651.1,467.2 1653.1,474.7 1655,482.2 1656.9,489.5 1658.7,496.6 1660.5,503.6 1662.3,510.4 1664.2,517 1666.1,523.5 1668.2,529.7 1670.4,535.7 1672.7,541.5 1675.2,547.1 1677.8,552.5 1680.6,557.7 1683.5,562.5 1686.5,567.2 1689.6,571.6 1692.7,575.7 1695.8,579.6 1698.9,583.2 1702,586.6 1705,589.6 1707.9,592.4 1710.8,594.9 1713.4,597.1 1715.9,599 1718.1,600.7 1719.9,602 1721.2,603.1 1722.1,603.8 1722.4,604.3 1722,604.4Z"/>
</g>
<rect x="1296.6" y="31.9" width="690.7" height="680.6" fill="none" stroke="#1a1a1a" stroke-width="1.8"/>
<path d="M1296.5,712.5v9.3M1411.6,712.5v9.3M1526.8,712.5v9.3M1641.9,712.5v9.3M1757,712.5v9.3M1872.2,712.5v9.3M1987.4,712.5v9.3M1296.6,712.5h-9.3M1296.6,599.1h-9.3M1296.6,485.6h-9.3M1296.6,372.2h-9.3M1296.6,258.8h-9.3M1296.6,145.3h-9.3M1296.6,31.9h-9.3" stroke="#1a1a1a" stroke-width="1.8" fill="none"/>
<g font-family='"DejaVu Sans", "Liberation Sans", sans-serif' font-size="52" fill="#000">
<text x="1411.6" y="772.5" text-anchor="middle">-1000</text>
<text x="1641.9" y="772.5" text-anchor="middle">-500</text>
<text x="1872.2" y="772.5" text-anchor="middle">0</text>
<text x="1277.8" y="51.7" text-anchor="end">500</text>
<text x="1277.8" y="279" text-anchor="end">0</text>
<text x="1277.8" y="506.3" text-anchor="end">-500</text>
<text x="1277.8" y="733.6" text-anchor="end">-1000</text>
</g>
<text x="1644.2" y="832.5" text-anchor="middle" font-family='"DejaVu Sans", "Liberation Sans", sans-serif' font-size="52" fill="#000"><tspan font-style="italic">x</tspan> [m]</text>
<text transform="translate(1103.1,370.8) rotate(-90)" text-anchor="middle" font-family='"DejaVu Sans", "Liberation Sans", sans-serif' font-size="52.7" fill="#000"><tspan font-style="italic">y</tspan> [m]</text>
<text x="1328.6" y="226" font-family='"DejaVu Sans", "Liberation Sans", sans-serif' font-size="79" fill="#000">B</text>
</g>
</svg>
</body>
</html>
